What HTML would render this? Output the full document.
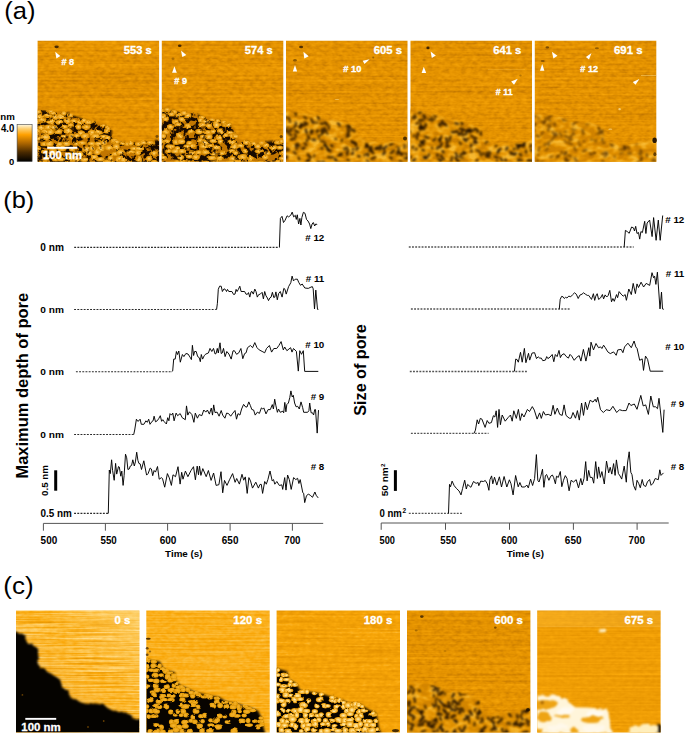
<!DOCTYPE html>
<html><head><meta charset="utf-8"><style>
html,body{margin:0;padding:0;background:#fff;width:685px;height:734px;overflow:hidden}
svg{display:block;font-family:"Liberation Sans",sans-serif;font-weight:bold}
</style></head><body>
<svg width="685" height="734" viewBox="0 0 685 734">
<defs><filter id="bl" color-interpolation-filters="sRGB" x="-20%" y="-20%" width="140%" height="140%"><feGaussianBlur stdDeviation="0.6"/></filter><filter id="fb" color-interpolation-filters="sRGB" x="-5%" y="-5%" width="110%" height="110%"><feGaussianBlur stdDeviation="0.8"/></filter><filter id="dp" color-interpolation-filters="sRGB" x="-10%" y="-10%" width="120%" height="120%"><feTurbulence type="fractalNoise" baseFrequency="0.18" numOctaves="2" seed="5" result="t"/><feDisplacementMap in="SourceGraphic" in2="t" scale="3.5" xChannelSelector="R" yChannelSelector="G" result="d"/><feGaussianBlur in="d" stdDeviation="0.8"/></filter><filter id="dpa" color-interpolation-filters="sRGB" x="-10%" y="-10%" width="120%" height="120%"><feTurbulence type="fractalNoise" baseFrequency="0.2" numOctaves="2" seed="7" result="t"/><feDisplacementMap in="SourceGraphic" in2="t" scale="3" xChannelSelector="R" yChannelSelector="G" result="d"/><feGaussianBlur in="d" stdDeviation="0.55"/></filter><filter id="dpc" color-interpolation-filters="sRGB" x="-10%" y="-10%" width="120%" height="120%"><feTurbulence type="fractalNoise" baseFrequency="0.16" numOctaves="1" seed="11" result="t"/><feDisplacementMap in="SourceGraphic" in2="t" scale="3.2" xChannelSelector="R" yChannelSelector="G" result="d"/><feGaussianBlur in="d" stdDeviation="0.75"/></filter><filter id="dp5" color-interpolation-filters="sRGB" x="-10%" y="-10%" width="120%" height="120%"><feTurbulence type="fractalNoise" baseFrequency="0.12" numOctaves="2" seed="9" result="t"/><feDisplacementMap in="SourceGraphic" in2="t" scale="6" xChannelSelector="R" yChannelSelector="G" result="d"/><feGaussianBlur in="d" stdDeviation="1.1"/></filter><filter id="bl2" color-interpolation-filters="sRGB" x="-10%" y="-10%" width="120%" height="120%"><feGaussianBlur stdDeviation="0.85"/></filter><filter id="fb2" color-interpolation-filters="sRGB" x="-5%" y="-5%" width="110%" height="110%"><feGaussianBlur stdDeviation="1.1"/></filter><filter id="fa0" x="0" y="0" width="1" height="1" color-interpolation-filters="sRGB"><feTurbulence type="fractalNoise" baseFrequency="0.005 0.45" numOctaves="2" seed="10" result="s_r"/><feColorMatrix in="s_r" type="matrix" values="1 0 0 0 0 1 0 0 0 0 1 0 0 0 0 0 0 0 0 1" result="s"/><feTurbulence type="fractalNoise" baseFrequency="0.18 0.3" numOctaves="2" seed="110" result="i_r"/><feColorMatrix in="i_r" type="matrix" values="1 0 0 0 0 1 0 0 0 0 1 0 0 0 0 0 0 0 0 1" result="i"/><feComposite in="s" in2="i" operator="arithmetic" k1="0" k2="0.450" k3="0.550" k4="0" result="m"/><feComponentTransfer in="m" result="c"><feFuncR type="table" tableValues="0.678 0.694 0.711 0.727 0.741 0.754 0.768 0.781 0.795 0.809 0.822 0.836 0.849 0.863 0.877 0.890 0.900 0.908 0.917 0.925 0.933 0.942 0.950 0.958 0.967 0.975 0.981 0.982 0.984 0.985 0.987 0.988"/><feFuncG type="table" tableValues="0.408 0.419 0.430 0.440 0.451 0.462 0.473 0.483 0.494 0.505 0.516 0.526 0.537 0.548 0.559 0.569 0.578 0.587 0.595 0.603 0.612 0.620 0.629 0.637 0.645 0.654 0.663 0.675 0.687 0.698 0.710 0.722"/><feFuncB type="table" tableValues="0.000 0.000 0.000 0.000 0.000 0.000 0.000 0.000 0.000 0.000 0.000 0.000 0.000 0.000 0.000 0.000 0.003 0.006 0.010 0.014 0.018 0.022 0.025 0.029 0.033 0.037 0.050 0.077 0.105 0.133 0.161 0.188"/></feComponentTransfer><feGaussianBlur in="c" stdDeviation="0.45" result="o"/></filter><filter id="fa1" x="0" y="0" width="1" height="1" color-interpolation-filters="sRGB"><feTurbulence type="fractalNoise" baseFrequency="0.005 0.45" numOctaves="2" seed="11" result="s_r"/><feColorMatrix in="s_r" type="matrix" values="1 0 0 0 0 1 0 0 0 0 1 0 0 0 0 0 0 0 0 1" result="s"/><feTurbulence type="fractalNoise" baseFrequency="0.18 0.3" numOctaves="2" seed="111" result="i_r"/><feColorMatrix in="i_r" type="matrix" values="1 0 0 0 0 1 0 0 0 0 1 0 0 0 0 0 0 0 0 1" result="i"/><feComposite in="s" in2="i" operator="arithmetic" k1="0" k2="0.450" k3="0.550" k4="0" result="m"/><feComponentTransfer in="m" result="c"><feFuncR type="table" tableValues="0.678 0.694 0.711 0.727 0.741 0.754 0.768 0.781 0.795 0.809 0.822 0.836 0.849 0.863 0.877 0.890 0.900 0.908 0.917 0.925 0.933 0.942 0.950 0.958 0.967 0.975 0.981 0.982 0.984 0.985 0.987 0.988"/><feFuncG type="table" tableValues="0.408 0.419 0.430 0.440 0.451 0.462 0.473 0.483 0.494 0.505 0.516 0.526 0.537 0.548 0.559 0.569 0.578 0.587 0.595 0.603 0.612 0.620 0.629 0.637 0.645 0.654 0.663 0.675 0.687 0.698 0.710 0.722"/><feFuncB type="table" tableValues="0.000 0.000 0.000 0.000 0.000 0.000 0.000 0.000 0.000 0.000 0.000 0.000 0.000 0.000 0.000 0.000 0.003 0.006 0.010 0.014 0.018 0.022 0.025 0.029 0.033 0.037 0.050 0.077 0.105 0.133 0.161 0.188"/></feComponentTransfer><feGaussianBlur in="c" stdDeviation="0.45" result="o"/></filter><filter id="fa2" x="0" y="0" width="1" height="1" color-interpolation-filters="sRGB"><feTurbulence type="fractalNoise" baseFrequency="0.005 0.45" numOctaves="2" seed="12" result="s_r"/><feColorMatrix in="s_r" type="matrix" values="1 0 0 0 0 1 0 0 0 0 1 0 0 0 0 0 0 0 0 1" result="s"/><feTurbulence type="fractalNoise" baseFrequency="0.18 0.3" numOctaves="2" seed="112" result="i_r"/><feColorMatrix in="i_r" type="matrix" values="1 0 0 0 0 1 0 0 0 0 1 0 0 0 0 0 0 0 0 1" result="i"/><feComposite in="s" in2="i" operator="arithmetic" k1="0" k2="0.450" k3="0.550" k4="0" result="m"/><feComponentTransfer in="m" result="c"><feFuncR type="table" tableValues="0.678 0.694 0.711 0.727 0.741 0.754 0.768 0.781 0.795 0.809 0.822 0.836 0.849 0.863 0.877 0.890 0.900 0.908 0.917 0.925 0.933 0.942 0.950 0.958 0.967 0.975 0.981 0.982 0.984 0.985 0.987 0.988"/><feFuncG type="table" tableValues="0.408 0.419 0.430 0.440 0.451 0.462 0.473 0.483 0.494 0.505 0.516 0.526 0.537 0.548 0.559 0.569 0.578 0.587 0.595 0.603 0.612 0.620 0.629 0.637 0.645 0.654 0.663 0.675 0.687 0.698 0.710 0.722"/><feFuncB type="table" tableValues="0.000 0.000 0.000 0.000 0.000 0.000 0.000 0.000 0.000 0.000 0.000 0.000 0.000 0.000 0.000 0.000 0.003 0.006 0.010 0.014 0.018 0.022 0.025 0.029 0.033 0.037 0.050 0.077 0.105 0.133 0.161 0.188"/></feComponentTransfer><feGaussianBlur in="c" stdDeviation="0.45" result="o"/></filter><filter id="fa3" x="0" y="0" width="1" height="1" color-interpolation-filters="sRGB"><feTurbulence type="fractalNoise" baseFrequency="0.005 0.45" numOctaves="2" seed="13" result="s_r"/><feColorMatrix in="s_r" type="matrix" values="1 0 0 0 0 1 0 0 0 0 1 0 0 0 0 0 0 0 0 1" result="s"/><feTurbulence type="fractalNoise" baseFrequency="0.18 0.3" numOctaves="2" seed="113" result="i_r"/><feColorMatrix in="i_r" type="matrix" values="1 0 0 0 0 1 0 0 0 0 1 0 0 0 0 0 0 0 0 1" result="i"/><feComposite in="s" in2="i" operator="arithmetic" k1="0" k2="0.450" k3="0.550" k4="0" result="m"/><feComponentTransfer in="m" result="c"><feFuncR type="table" tableValues="0.678 0.694 0.711 0.727 0.741 0.754 0.768 0.781 0.795 0.809 0.822 0.836 0.849 0.863 0.877 0.890 0.900 0.908 0.917 0.925 0.933 0.942 0.950 0.958 0.967 0.975 0.981 0.982 0.984 0.985 0.987 0.988"/><feFuncG type="table" tableValues="0.408 0.419 0.430 0.440 0.451 0.462 0.473 0.483 0.494 0.505 0.516 0.526 0.537 0.548 0.559 0.569 0.578 0.587 0.595 0.603 0.612 0.620 0.629 0.637 0.645 0.654 0.663 0.675 0.687 0.698 0.710 0.722"/><feFuncB type="table" tableValues="0.000 0.000 0.000 0.000 0.000 0.000 0.000 0.000 0.000 0.000 0.000 0.000 0.000 0.000 0.000 0.000 0.003 0.006 0.010 0.014 0.018 0.022 0.025 0.029 0.033 0.037 0.050 0.077 0.105 0.133 0.161 0.188"/></feComponentTransfer><feGaussianBlur in="c" stdDeviation="0.45" result="o"/></filter><filter id="fa4" x="0" y="0" width="1" height="1" color-interpolation-filters="sRGB"><feTurbulence type="fractalNoise" baseFrequency="0.005 0.45" numOctaves="2" seed="14" result="s_r"/><feColorMatrix in="s_r" type="matrix" values="1 0 0 0 0 1 0 0 0 0 1 0 0 0 0 0 0 0 0 1" result="s"/><feTurbulence type="fractalNoise" baseFrequency="0.18 0.3" numOctaves="2" seed="114" result="i_r"/><feColorMatrix in="i_r" type="matrix" values="1 0 0 0 0 1 0 0 0 0 1 0 0 0 0 0 0 0 0 1" result="i"/><feComposite in="s" in2="i" operator="arithmetic" k1="0" k2="0.450" k3="0.550" k4="0" result="m"/><feComponentTransfer in="m" result="c"><feFuncR type="table" tableValues="0.678 0.694 0.711 0.727 0.741 0.754 0.768 0.781 0.795 0.809 0.822 0.836 0.849 0.863 0.877 0.890 0.900 0.908 0.917 0.925 0.933 0.942 0.950 0.958 0.967 0.975 0.981 0.982 0.984 0.985 0.987 0.988"/><feFuncG type="table" tableValues="0.408 0.419 0.430 0.440 0.451 0.462 0.473 0.483 0.494 0.505 0.516 0.526 0.537 0.548 0.559 0.569 0.578 0.587 0.595 0.603 0.612 0.620 0.629 0.637 0.645 0.654 0.663 0.675 0.687 0.698 0.710 0.722"/><feFuncB type="table" tableValues="0.000 0.000 0.000 0.000 0.000 0.000 0.000 0.000 0.000 0.000 0.000 0.000 0.000 0.000 0.000 0.000 0.003 0.006 0.010 0.014 0.018 0.022 0.025 0.029 0.033 0.037 0.050 0.077 0.105 0.133 0.161 0.188"/></feComponentTransfer><feGaussianBlur in="c" stdDeviation="0.45" result="o"/></filter><filter id="pa0" x="0" y="0" width="1" height="1" color-interpolation-filters="sRGB"><feTurbulence type="turbulence" baseFrequency="0.11 0.14" numOctaves="1" seed="30" result="n1_r"/><feColorMatrix in="n1_r" type="matrix" values="1 0 0 0 0 1 0 0 0 0 1 0 0 0 0 0 0 0 0 1" result="n1"/><feComponentTransfer in="n1" result="c"><feFuncR type="table" tableValues="0.176 0.221 0.265 0.409 0.578 0.699 0.788 0.872 0.892 0.911 0.931 0.950 0.960 0.964 0.968 0.972 0.976 0.980 0.985 0.988 0.990 0.991 0.992 0.993 0.995 0.996 0.997 0.998 1.000 1.000 1.000 1.000 1.000 1.000 1.000 1.000 1.000 1.000 1.000 1.000 1.000 1.000 1.000 1.000 1.000 1.000 1.000 1.000 1.000 1.000 1.000 1.000 1.000 1.000 1.000 1.000 1.000 1.000 1.000 1.000 1.000 1.000 1.000 1.000"/><feFuncG type="table" tableValues="0.086 0.115 0.143 0.234 0.341 0.425 0.493 0.559 0.587 0.616 0.644 0.673 0.692 0.706 0.721 0.736 0.750 0.765 0.779 0.793 0.800 0.808 0.815 0.823 0.830 0.838 0.845 0.853 0.860 0.863 0.863 0.863 0.863 0.863 0.863 0.863 0.863 0.863 0.863 0.863 0.863 0.863 0.863 0.863 0.863 0.863 0.863 0.863 0.863 0.863 0.863 0.863 0.863 0.863 0.863 0.863 0.863 0.863 0.863 0.863 0.863 0.863 0.863 0.863"/><feFuncB type="table" tableValues="0.000 0.000 0.000 0.000 0.000 0.004 0.010 0.018 0.046 0.075 0.103 0.132 0.160 0.189 0.218 0.247 0.277 0.306 0.335 0.363 0.380 0.398 0.416 0.434 0.452 0.470 0.487 0.505 0.523 0.529 0.529 0.529 0.529 0.529 0.529 0.529 0.529 0.529 0.529 0.529 0.529 0.529 0.529 0.529 0.529 0.529 0.529 0.529 0.529 0.529 0.529 0.529 0.529 0.529 0.529 0.529 0.529 0.529 0.529 0.529 0.529 0.529 0.529 0.529"/></feComponentTransfer><feGaussianBlur in="c" stdDeviation="0.7" result="o"/></filter><filter id="pa1" x="0" y="0" width="1" height="1" color-interpolation-filters="sRGB"><feTurbulence type="turbulence" baseFrequency="0.11 0.14" numOctaves="1" seed="31" result="n1_r"/><feColorMatrix in="n1_r" type="matrix" values="1 0 0 0 0 1 0 0 0 0 1 0 0 0 0 0 0 0 0 1" result="n1"/><feComponentTransfer in="n1" result="c"><feFuncR type="table" tableValues="0.176 0.221 0.265 0.409 0.578 0.699 0.788 0.872 0.892 0.911 0.931 0.950 0.960 0.964 0.968 0.972 0.976 0.980 0.985 0.988 0.990 0.991 0.992 0.993 0.995 0.996 0.997 0.998 1.000 1.000 1.000 1.000 1.000 1.000 1.000 1.000 1.000 1.000 1.000 1.000 1.000 1.000 1.000 1.000 1.000 1.000 1.000 1.000 1.000 1.000 1.000 1.000 1.000 1.000 1.000 1.000 1.000 1.000 1.000 1.000 1.000 1.000 1.000 1.000"/><feFuncG type="table" tableValues="0.086 0.115 0.143 0.234 0.341 0.425 0.493 0.559 0.587 0.616 0.644 0.673 0.692 0.706 0.721 0.736 0.750 0.765 0.779 0.793 0.800 0.808 0.815 0.823 0.830 0.838 0.845 0.853 0.860 0.863 0.863 0.863 0.863 0.863 0.863 0.863 0.863 0.863 0.863 0.863 0.863 0.863 0.863 0.863 0.863 0.863 0.863 0.863 0.863 0.863 0.863 0.863 0.863 0.863 0.863 0.863 0.863 0.863 0.863 0.863 0.863 0.863 0.863 0.863"/><feFuncB type="table" tableValues="0.000 0.000 0.000 0.000 0.000 0.004 0.010 0.018 0.046 0.075 0.103 0.132 0.160 0.189 0.218 0.247 0.277 0.306 0.335 0.363 0.380 0.398 0.416 0.434 0.452 0.470 0.487 0.505 0.523 0.529 0.529 0.529 0.529 0.529 0.529 0.529 0.529 0.529 0.529 0.529 0.529 0.529 0.529 0.529 0.529 0.529 0.529 0.529 0.529 0.529 0.529 0.529 0.529 0.529 0.529 0.529 0.529 0.529 0.529 0.529 0.529 0.529 0.529 0.529"/></feComponentTransfer><feGaussianBlur in="c" stdDeviation="0.7" result="o"/></filter><filter id="pa2" x="0" y="0" width="1" height="1" color-interpolation-filters="sRGB"><feTurbulence type="fractalNoise" baseFrequency="0.1 0.15" numOctaves="2" seed="32" result="n1_r"/><feColorMatrix in="n1_r" type="matrix" values="1 0 0 0 0 1 0 0 0 0 1 0 0 0 0 0 0 0 0 1" result="n1"/><feComponentTransfer in="n1" result="c"><feFuncR type="table" tableValues="0.804 0.804 0.804 0.804 0.804 0.804 0.804 0.804 0.804 0.804 0.816 0.834 0.852 0.869 0.887 0.897 0.907 0.917 0.927 0.936 0.944 0.952 0.959 0.967 0.969 0.969 0.969 0.969 0.969 0.969 0.969 0.969"/><feFuncG type="table" tableValues="0.502 0.502 0.502 0.502 0.502 0.502 0.502 0.502 0.502 0.502 0.513 0.528 0.543 0.558 0.573 0.588 0.604 0.619 0.634 0.650 0.667 0.684 0.700 0.717 0.722 0.722 0.722 0.722 0.722 0.722 0.722 0.722"/><feFuncB type="table" tableValues="0.000 0.000 0.000 0.000 0.000 0.000 0.000 0.000 0.000 0.000 0.001 0.003 0.005 0.006 0.009 0.024 0.039 0.054 0.069 0.088 0.111 0.135 0.159 0.182 0.188 0.188 0.188 0.188 0.188 0.188 0.188 0.188"/></feComponentTransfer><feGaussianBlur in="c" stdDeviation="0.5" result="o"/></filter><filter id="pa3" x="0" y="0" width="1" height="1" color-interpolation-filters="sRGB"><feTurbulence type="fractalNoise" baseFrequency="0.1 0.15" numOctaves="2" seed="33" result="n1_r"/><feColorMatrix in="n1_r" type="matrix" values="1 0 0 0 0 1 0 0 0 0 1 0 0 0 0 0 0 0 0 1" result="n1"/><feComponentTransfer in="n1" result="c"><feFuncR type="table" tableValues="0.804 0.804 0.804 0.804 0.804 0.804 0.804 0.804 0.804 0.804 0.816 0.834 0.852 0.869 0.887 0.897 0.907 0.917 0.927 0.936 0.944 0.952 0.959 0.967 0.969 0.969 0.969 0.969 0.969 0.969 0.969 0.969"/><feFuncG type="table" tableValues="0.502 0.502 0.502 0.502 0.502 0.502 0.502 0.502 0.502 0.502 0.513 0.528 0.543 0.558 0.573 0.588 0.604 0.619 0.634 0.650 0.667 0.684 0.700 0.717 0.722 0.722 0.722 0.722 0.722 0.722 0.722 0.722"/><feFuncB type="table" tableValues="0.000 0.000 0.000 0.000 0.000 0.000 0.000 0.000 0.000 0.000 0.001 0.003 0.005 0.006 0.009 0.024 0.039 0.054 0.069 0.088 0.111 0.135 0.159 0.182 0.188 0.188 0.188 0.188 0.188 0.188 0.188 0.188"/></feComponentTransfer><feGaussianBlur in="c" stdDeviation="0.5" result="o"/></filter><filter id="pa4" x="0" y="0" width="1" height="1" color-interpolation-filters="sRGB"><feTurbulence type="fractalNoise" baseFrequency="0.1 0.15" numOctaves="2" seed="34" result="n1_r"/><feColorMatrix in="n1_r" type="matrix" values="1 0 0 0 0 1 0 0 0 0 1 0 0 0 0 0 0 0 0 1" result="n1"/><feComponentTransfer in="n1" result="c"><feFuncR type="table" tableValues="0.816 0.816 0.816 0.816 0.816 0.816 0.816 0.816 0.816 0.816 0.825 0.838 0.852 0.865 0.879 0.891 0.901 0.911 0.921 0.931 0.939 0.946 0.953 0.960 0.967 0.969 0.969 0.969 0.969 0.969 0.969 0.969"/><feFuncG type="table" tableValues="0.510 0.510 0.510 0.510 0.510 0.510 0.510 0.510 0.510 0.510 0.518 0.530 0.542 0.554 0.566 0.579 0.594 0.609 0.625 0.640 0.655 0.671 0.687 0.703 0.719 0.722 0.722 0.722 0.722 0.722 0.722 0.722"/><feFuncB type="table" tableValues="0.000 0.000 0.000 0.000 0.000 0.000 0.000 0.000 0.000 0.000 0.001 0.003 0.004 0.006 0.007 0.014 0.030 0.045 0.060 0.075 0.096 0.118 0.140 0.162 0.184 0.188 0.188 0.188 0.188 0.188 0.188 0.188"/></feComponentTransfer><feGaussianBlur in="c" stdDeviation="0.5" result="o"/></filter><clipPath id="pka0"><rect x="37.6" y="40.7" width="121.5" height="121"/></clipPath><mask id="mka0"><polygon points="37,108.2 47,111 57.9,112.8 68.8,112.8 78,117.4 87.1,120.1 96.2,121.9 105.3,125.6 111.7,129.2 111.7,135.6 116.3,141.1 127.2,142.9 140,142 152.8,141.1 159.5,139.3 161.1,139.3 161.1,163.7 35.6,163.7 35.6,108.2" fill="#fff" filter="url(#fb)"/></mask><clipPath id="cpa0"><rect x="37.6" y="40.7" width="121.5" height="121"/></clipPath><clipPath id="pka1"><rect x="161.8" y="40.7" width="121.5" height="121"/></clipPath><mask id="mka1"><polygon points="161.5,107.3 171,110.1 181.9,112.8 192.8,112.8 202,116.5 209.3,118.3 218.4,120.1 227.5,123.8 234.8,128.3 235.7,135.6 240.3,140.2 251.2,142 262.2,142 273.1,141.1 283.5,140.2 285.3,140.2 285.3,163.7 159.8,163.7 159.8,107.3" fill="#fff" filter="url(#fb)"/></mask><clipPath id="cpa1"><rect x="161.8" y="40.7" width="121.5" height="121"/></clipPath><clipPath id="pka2"><rect x="286" y="40.7" width="121.5" height="121"/></clipPath><mask id="mka2"><polygon points="285.5,109.2 295,111 304.1,113.7 315,114.6 326,119.2 338.7,121 349.7,124.7 357,128.3 357.9,135.6 366.1,141.1 378.9,142.9 393.5,142 408,141.1 409.5,141.1 409.5,163.7 284,163.7 284,109.2" fill="#fff" filter="url(#fb)"/></mask><clipPath id="cpa2"><rect x="286" y="40.7" width="121.5" height="121"/></clipPath><clipPath id="pka3"><rect x="410.5" y="40.7" width="121.5" height="121"/></clipPath><mask id="mka3"><polygon points="410,109.2 419,111 428.1,113.7 439,115.5 450,120.1 462.7,121.9 473.7,125.6 482.8,129.2 483.7,137.4 490.1,142.9 502.9,144.7 517.5,143.8 532.5,139.3 534,139.3 534,163.7 408.5,163.7 408.5,109.2" fill="#fff" filter="url(#fb)"/></mask><clipPath id="cpa3"><rect x="410.5" y="40.7" width="121.5" height="121"/></clipPath><clipPath id="pka4"><rect x="534.8" y="40.7" width="121.5" height="121"/></clipPath><mask id="mka4"><polygon points="534.5,111.9 543,113.7 553.9,115.5 564.8,119.2 575.8,121 588.6,122.8 599.5,126.5 604.1,129.2 604.1,137.4 610.5,142.9 623.2,144.7 636,143.8 648.8,139.3 656.5,138.4 658.3,138.4 658.3,163.7 532.8,163.7 532.8,111.9" fill="#fff" filter="url(#fb)"/></mask><clipPath id="cpa4"><rect x="534.8" y="40.7" width="121.5" height="121"/></clipPath><filter id="fc0" x="0" y="0" width="1" height="1" color-interpolation-filters="sRGB"><feTurbulence type="fractalNoise" baseFrequency="0.015 0.6" numOctaves="2" seed="50" result="s_r"/><feColorMatrix in="s_r" type="matrix" values="1 0 0 0 0 1 0 0 0 0 1 0 0 0 0 0 0 0 0 1" result="s"/><feTurbulence type="fractalNoise" baseFrequency="0.15 0.3" numOctaves="2" seed="150" result="i_r"/><feColorMatrix in="i_r" type="matrix" values="1 0 0 0 0 1 0 0 0 0 1 0 0 0 0 0 0 0 0 1" result="i"/><feComposite in="s" in2="i" operator="arithmetic" k1="0" k2="0.750" k3="0.250" k4="0" result="m"/><feComponentTransfer in="m" result="c"><feFuncR type="table" tableValues="0.789 0.809 0.830 0.850 0.870 0.891 0.905 0.917 0.930 0.942 0.955 0.967 0.980 0.982 0.985 0.987 0.989 0.991 0.993 0.996 0.998 1.000 1.000 1.000 1.000 1.000 1.000 1.000 1.000 1.000 1.000 1.000"/><feFuncG type="table" tableValues="0.489 0.505 0.521 0.538 0.554 0.570 0.583 0.596 0.608 0.621 0.633 0.646 0.658 0.675 0.693 0.710 0.728 0.745 0.763 0.780 0.798 0.815 0.832 0.849 0.866 0.882 0.899 0.916 0.932 0.949 0.966 0.982"/><feFuncB type="table" tableValues="0.000 0.000 0.000 0.000 0.000 0.000 0.005 0.010 0.016 0.022 0.028 0.033 0.039 0.079 0.120 0.162 0.203 0.245 0.287 0.328 0.370 0.411 0.461 0.511 0.560 0.610 0.660 0.710 0.759 0.809 0.859 0.908"/></feComponentTransfer><feGaussianBlur in="c" stdDeviation="0.35" result="o"/></filter><filter id="fc1" x="0" y="0" width="1" height="1" color-interpolation-filters="sRGB"><feTurbulence type="fractalNoise" baseFrequency="0.012 0.55" numOctaves="2" seed="52" result="s_r"/><feColorMatrix in="s_r" type="matrix" values="1 0 0 0 0 1 0 0 0 0 1 0 0 0 0 0 0 0 0 1" result="s"/><feTurbulence type="fractalNoise" baseFrequency="0.18 0.3" numOctaves="2" seed="152" result="i_r"/><feColorMatrix in="i_r" type="matrix" values="1 0 0 0 0 1 0 0 0 0 1 0 0 0 0 0 0 0 0 1" result="i"/><feComposite in="s" in2="i" operator="arithmetic" k1="0" k2="0.600" k3="0.400" k4="0" result="m"/><feComponentTransfer in="m" result="c"><feFuncR type="table" tableValues="0.898 0.905 0.912 0.918 0.925 0.932 0.939 0.945 0.952 0.959 0.965 0.972 0.979 0.981 0.982 0.984 0.985 0.986 0.987 0.988 0.989 0.991 0.992 0.993 0.994 0.995 0.996 0.998 0.999 1.000 1.000 1.000"/><feFuncG type="table" tableValues="0.577 0.584 0.590 0.597 0.604 0.610 0.617 0.624 0.630 0.637 0.644 0.650 0.657 0.666 0.675 0.684 0.694 0.703 0.712 0.722 0.731 0.740 0.750 0.759 0.768 0.778 0.787 0.796 0.806 0.815 0.824 0.833"/><feFuncB type="table" tableValues="0.002 0.005 0.008 0.011 0.014 0.017 0.020 0.023 0.026 0.029 0.032 0.035 0.038 0.055 0.078 0.100 0.122 0.144 0.166 0.189 0.211 0.233 0.255 0.277 0.299 0.322 0.344 0.366 0.388 0.410 0.437 0.463"/></feComponentTransfer><feGaussianBlur in="c" stdDeviation="0.4" result="o"/></filter><filter id="fc2" x="0" y="0" width="1" height="1" color-interpolation-filters="sRGB"><feTurbulence type="fractalNoise" baseFrequency="0.012 0.5" numOctaves="2" seed="54" result="s_r"/><feColorMatrix in="s_r" type="matrix" values="1 0 0 0 0 1 0 0 0 0 1 0 0 0 0 0 0 0 0 1" result="s"/><feTurbulence type="fractalNoise" baseFrequency="0.18 0.3" numOctaves="2" seed="154" result="i_r"/><feColorMatrix in="i_r" type="matrix" values="1 0 0 0 0 1 0 0 0 0 1 0 0 0 0 0 0 0 0 1" result="i"/><feComposite in="s" in2="i" operator="arithmetic" k1="0" k2="0.550" k3="0.450" k4="0" result="m"/><feComponentTransfer in="m" result="c"><feFuncR type="table" tableValues="0.817 0.829 0.840 0.852 0.864 0.876 0.888 0.897 0.905 0.912 0.919 0.926 0.933 0.941 0.948 0.955 0.962 0.970 0.977 0.981 0.982 0.984 0.985 0.986 0.987 0.989 0.990 0.991 0.992 0.994 0.995 0.996"/><feFuncG type="table" tableValues="0.511 0.521 0.530 0.539 0.549 0.558 0.567 0.576 0.583 0.590 0.597 0.605 0.612 0.619 0.626 0.634 0.641 0.648 0.655 0.664 0.674 0.684 0.694 0.705 0.715 0.725 0.735 0.745 0.755 0.765 0.775 0.786"/><feFuncB type="table" tableValues="0.000 0.000 0.000 0.000 0.000 0.000 0.000 0.001 0.005 0.008 0.011 0.015 0.018 0.021 0.024 0.028 0.031 0.034 0.038 0.052 0.076 0.100 0.124 0.148 0.172 0.196 0.220 0.244 0.268 0.292 0.316 0.340"/></feComponentTransfer><feGaussianBlur in="c" stdDeviation="0.4" result="o"/></filter><filter id="fc3" x="0" y="0" width="1" height="1" color-interpolation-filters="sRGB"><feTurbulence type="fractalNoise" baseFrequency="0.005 0.45" numOctaves="2" seed="56" result="s_r"/><feColorMatrix in="s_r" type="matrix" values="1 0 0 0 0 1 0 0 0 0 1 0 0 0 0 0 0 0 0 1" result="s"/><feTurbulence type="fractalNoise" baseFrequency="0.18 0.3" numOctaves="2" seed="156" result="i_r"/><feColorMatrix in="i_r" type="matrix" values="1 0 0 0 0 1 0 0 0 0 1 0 0 0 0 0 0 0 0 1" result="i"/><feComposite in="s" in2="i" operator="arithmetic" k1="0" k2="0.450" k3="0.550" k4="0" result="m"/><feComponentTransfer in="m" result="c"><feFuncR type="table" tableValues="0.700 0.715 0.730 0.742 0.755 0.768 0.781 0.793 0.806 0.819 0.831 0.844 0.857 0.869 0.882 0.895 0.902 0.910 0.918 0.926 0.933 0.941 0.949 0.957 0.965 0.972 0.980 0.982 0.983 0.984 0.986 0.987"/><feFuncG type="table" tableValues="0.423 0.433 0.443 0.453 0.463 0.473 0.483 0.493 0.503 0.513 0.523 0.533 0.543 0.553 0.563 0.573 0.581 0.589 0.596 0.604 0.612 0.620 0.628 0.635 0.643 0.651 0.659 0.670 0.680 0.691 0.702 0.713"/><feFuncB type="table" tableValues="0.000 0.000 0.000 0.000 0.000 0.000 0.000 0.000 0.000 0.000 0.000 0.000 0.000 0.000 0.000 0.000 0.004 0.007 0.011 0.014 0.018 0.021 0.025 0.029 0.032 0.036 0.039 0.065 0.091 0.116 0.142 0.168"/></feComponentTransfer><feGaussianBlur in="c" stdDeviation="0.45" result="o"/></filter><filter id="fc4" x="0" y="0" width="1" height="1" color-interpolation-filters="sRGB"><feTurbulence type="fractalNoise" baseFrequency="0.005 0.45" numOctaves="2" seed="58" result="s_r"/><feColorMatrix in="s_r" type="matrix" values="1 0 0 0 0 1 0 0 0 0 1 0 0 0 0 0 0 0 0 1" result="s"/><feTurbulence type="fractalNoise" baseFrequency="0.18 0.3" numOctaves="2" seed="158" result="i_r"/><feColorMatrix in="i_r" type="matrix" values="1 0 0 0 0 1 0 0 0 0 1 0 0 0 0 0 0 0 0 1" result="i"/><feComposite in="s" in2="i" operator="arithmetic" k1="0" k2="0.600" k3="0.400" k4="0" result="m"/><feComponentTransfer in="m" result="c"><feFuncR type="table" tableValues="0.827 0.836 0.845 0.854 0.863 0.872 0.881 0.890 0.897 0.903 0.908 0.914 0.919 0.925 0.931 0.936 0.942 0.947 0.953 0.958 0.964 0.970 0.975 0.980 0.981 0.982 0.983 0.984 0.985 0.986 0.987 0.988"/><feFuncG type="table" tableValues="0.519 0.526 0.534 0.541 0.548 0.555 0.562 0.569 0.576 0.581 0.587 0.592 0.598 0.603 0.609 0.615 0.620 0.626 0.631 0.637 0.642 0.648 0.654 0.659 0.667 0.675 0.683 0.690 0.698 0.706 0.714 0.722"/><feFuncB type="table" tableValues="0.000 0.000 0.000 0.000 0.000 0.000 0.000 0.000 0.001 0.004 0.006 0.009 0.012 0.014 0.017 0.019 0.022 0.024 0.027 0.029 0.032 0.034 0.037 0.040 0.059 0.077 0.096 0.114 0.133 0.151 0.170 0.188"/></feComponentTransfer><feGaussianBlur in="c" stdDeviation="0.45" result="o"/></filter><filter id="pc1" x="0" y="0" width="1" height="1" color-interpolation-filters="sRGB"><feTurbulence type="turbulence" baseFrequency="0.13 0.12" numOctaves="1" seed="60" result="n1_r"/><feColorMatrix in="n1_r" type="matrix" values="1 0 0 0 0 1 0 0 0 0 1 0 0 0 0 0 0 0 0 1" result="n1"/><feComponentTransfer in="n1" result="c"><feFuncR type="table" tableValues="0.020 0.022 0.025 0.028 0.031 0.034 0.037 0.054 0.261 0.469 0.676 0.834 0.868 0.903 0.934 0.937 0.941 0.944 0.948 0.951 0.955 0.958 0.961 0.965 0.968 0.972 0.973 0.973 0.973 0.973 0.973 0.973 0.973 0.973 0.973 0.973 0.973 0.973 0.973 0.973 0.973 0.973 0.973 0.973 0.973 0.973 0.973 0.973 0.973 0.973 0.973 0.973 0.973 0.973 0.973 0.973 0.973 0.973 0.973 0.973 0.973 0.973 0.973 0.973"/><feFuncG type="table" tableValues="0.012 0.013 0.014 0.015 0.016 0.017 0.019 0.029 0.164 0.299 0.434 0.538 0.570 0.601 0.629 0.636 0.644 0.651 0.659 0.667 0.674 0.682 0.689 0.697 0.705 0.712 0.714 0.714 0.714 0.714 0.714 0.714 0.714 0.714 0.714 0.714 0.714 0.714 0.714 0.714 0.714 0.714 0.714 0.714 0.714 0.714 0.714 0.714 0.714 0.714 0.714 0.714 0.714 0.714 0.714 0.714 0.714 0.714 0.714 0.714 0.714 0.714 0.714 0.714"/><feFuncB type="table" tableValues="0.000 0.000 0.000 0.000 0.000 0.000 0.000 0.001 0.009 0.017 0.025 0.034 0.044 0.054 0.064 0.073 0.082 0.091 0.100 0.109 0.118 0.127 0.136 0.145 0.154 0.163 0.165 0.165 0.165 0.165 0.165 0.165 0.165 0.165 0.165 0.165 0.165 0.165 0.165 0.165 0.165 0.165 0.165 0.165 0.165 0.165 0.165 0.165 0.165 0.165 0.165 0.165 0.165 0.165 0.165 0.165 0.165 0.165 0.165 0.165 0.165 0.165 0.165 0.165"/></feComponentTransfer><feGaussianBlur in="c" stdDeviation="0.5" result="o"/></filter><filter id="pc2" x="0" y="0" width="1" height="1" color-interpolation-filters="sRGB"><feTurbulence type="turbulence" baseFrequency="0.12 0.11" numOctaves="1" seed="61" result="n1_r"/><feColorMatrix in="n1_r" type="matrix" values="1 0 0 0 0 1 0 0 0 0 1 0 0 0 0 0 0 0 0 1" result="n1"/><feComponentTransfer in="n1" result="c"><feFuncR type="table" tableValues="0.039 0.060 0.081 0.146 0.433 0.721 0.857 0.910 0.963 0.975 0.978 0.980 0.983 0.986 0.988 0.989 0.990 0.991 0.993 0.994 0.995 0.996 0.997 0.998 0.999 1.000 1.000 1.000 1.000 1.000 1.000 1.000 1.000 1.000 1.000 1.000 1.000 1.000 1.000 1.000 1.000 1.000 1.000 1.000 1.000 1.000 1.000 1.000 1.000 1.000 1.000 1.000 1.000 1.000 1.000 1.000 1.000 1.000 1.000 1.000 1.000 1.000 1.000 1.000"/><feFuncG type="table" tableValues="0.020 0.029 0.039 0.078 0.265 0.451 0.562 0.631 0.701 0.728 0.746 0.764 0.782 0.800 0.817 0.823 0.829 0.835 0.841 0.848 0.854 0.860 0.866 0.873 0.879 0.885 0.886 0.886 0.886 0.886 0.886 0.886 0.886 0.886 0.886 0.886 0.886 0.886 0.886 0.886 0.886 0.886 0.886 0.886 0.886 0.886 0.886 0.886 0.886 0.886 0.886 0.886 0.886 0.886 0.886 0.886 0.886 0.886 0.886 0.886 0.886 0.886 0.886 0.886"/><feFuncB type="table" tableValues="0.000 0.000 0.000 0.000 0.000 0.000 0.040 0.102 0.165 0.210 0.252 0.293 0.335 0.376 0.414 0.430 0.445 0.461 0.476 0.492 0.507 0.523 0.538 0.554 0.570 0.585 0.588 0.588 0.588 0.588 0.588 0.588 0.588 0.588 0.588 0.588 0.588 0.588 0.588 0.588 0.588 0.588 0.588 0.588 0.588 0.588 0.588 0.588 0.588 0.588 0.588 0.588 0.588 0.588 0.588 0.588 0.588 0.588 0.588 0.588 0.588 0.588 0.588 0.588"/></feComponentTransfer><feGaussianBlur in="c" stdDeviation="0.5" result="o"/></filter><filter id="pc3" x="0" y="0" width="1" height="1" color-interpolation-filters="sRGB"><feTurbulence type="fractalNoise" baseFrequency="0.1 0.15" numOctaves="2" seed="62" result="n1_r"/><feColorMatrix in="n1_r" type="matrix" values="1 0 0 0 0 1 0 0 0 0 1 0 0 0 0 0 0 0 0 1" result="n1"/><feComponentTransfer in="n1" result="c"><feFuncR type="table" tableValues="0.831 0.831 0.831 0.831 0.831 0.831 0.831 0.831 0.831 0.831 0.839 0.849 0.860 0.870 0.880 0.890 0.898 0.907 0.915 0.924 0.930 0.937 0.943 0.949 0.956 0.957 0.957 0.957 0.957 0.957 0.957 0.957"/><feFuncG type="table" tableValues="0.525 0.525 0.525 0.525 0.525 0.525 0.525 0.525 0.525 0.525 0.532 0.541 0.550 0.559 0.567 0.578 0.589 0.601 0.613 0.625 0.639 0.653 0.667 0.681 0.695 0.698 0.698 0.698 0.698 0.698 0.698 0.698"/><feFuncB type="table" tableValues="0.000 0.000 0.000 0.000 0.000 0.000 0.000 0.000 0.000 0.000 0.001 0.003 0.004 0.006 0.007 0.013 0.025 0.037 0.048 0.060 0.078 0.097 0.115 0.134 0.153 0.157 0.157 0.157 0.157 0.157 0.157 0.157"/></feComponentTransfer><feGaussianBlur in="c" stdDeviation="0.5" result="o"/></filter><clipPath id="pkc0"><rect x="16" y="610.6" width="123.4" height="122"/></clipPath><clipPath id="cqc0"><rect x="16" y="610.6" width="123.4" height="122"/></clipPath><linearGradient id="lg0" x1="1" y1="0" x2="0.2" y2="0.8"><stop offset="0" stop-color="#fff0b8" stop-opacity="0.45"/><stop offset="0.55" stop-color="#ffd070" stop-opacity="0"/><stop offset="1" stop-color="#d88400" stop-opacity="0.55"/></linearGradient><clipPath id="cpc0"><rect x="16" y="610.6" width="123.4" height="122"/></clipPath><clipPath id="pkc1"><rect x="146.3" y="610.6" width="123.4" height="122"/></clipPath><clipPath id="cqc1"><rect x="146.3" y="610.6" width="123.4" height="122"/></clipPath><mask id="mkc1"><polygon points="145,658.5 152.9,660.9 159.7,661.4 163.2,668.3 168.9,671.2 174.6,672.3 175.7,679.7 180.3,685.5 186,687.8 195.2,692.3 203.2,694 210,695.8 218.8,697 226.2,701.5 235.6,703.3 248.7,707.1 258,710.8 261.8,718.3 263.6,727.6 265.5,734 145,734" fill="#fff" filter="url(#fb)"/></mask><clipPath id="pkc2"><rect x="276.6" y="610.6" width="123.4" height="122"/></clipPath><clipPath id="cqc2"><rect x="276.6" y="610.6" width="123.4" height="122"/></clipPath><mask id="mkc2"><polygon points="275,667.8 287.1,671.6 289,679 296.4,683.7 300.2,690.2 311.4,692.1 322.6,694 333.8,697.7 341.3,699.6 348.8,703.3 358.1,703.3 369.3,709.9 375.9,712.7 377.7,720.1 378.7,727.6 381.5,734 275,734" fill="#fff" filter="url(#fb)"/></mask><clipPath id="pkc3"><rect x="407" y="610.6" width="123.4" height="122"/></clipPath><clipPath id="cqc3"><rect x="407" y="610.6" width="123.4" height="122"/></clipPath><mask id="mkc3"><polygon points="406,680.9 416.2,682.8 427.4,683.7 436.8,686.5 449.9,690.2 461.1,693 472.3,695.9 479.8,699.6 479.8,707.1 483.5,712.7 492.9,714.5 504.1,712.7 517.1,709.9 531,708 531,734 406,734" fill="#fff" filter="url(#fb)"/></mask><clipPath id="pkc4"><rect x="537.2" y="610.6" width="123.4" height="122"/></clipPath><clipPath id="cqc4"><rect x="537.2" y="610.6" width="123.4" height="122"/></clipPath><clipPath id="cpc4"><rect x="537.2" y="610.6" width="123.4" height="122"/></clipPath><radialGradient id="ga"><stop offset="0" stop-color="#fad478"/><stop offset="0.4" stop-color="#f4b232"/><stop offset="0.75" stop-color="#e69a10"/><stop offset="1" stop-color="#c88400"/></radialGradient><radialGradient id="g2"><stop offset="0" stop-color="#f4b430"/><stop offset="0.7" stop-color="#eaa314"/><stop offset="1" stop-color="#d89000"/></radialGradient><radialGradient id="g3"><stop offset="0" stop-color="#ffefb8"/><stop offset="0.45" stop-color="#fbcc62"/><stop offset="0.85" stop-color="#eea416"/><stop offset="1" stop-color="#c88400"/></radialGradient><linearGradient id="cb" x1="0" y1="0" x2="0" y2="1"><stop offset="0" stop-color="#fffbe8"/><stop offset="0.12" stop-color="#ffd070"/><stop offset="0.28" stop-color="#ffa000"/><stop offset="0.5" stop-color="#b06800"/><stop offset="0.75" stop-color="#4a2a00"/><stop offset="1" stop-color="#000"/></linearGradient></defs>
<g clip-path="url(#pka0)"><rect x="37.6" y="40.7" width="121.5" height="121" filter="url(#fa0)"/></g>
<g clip-path="url(#cpa0)"><g mask="url(#mka0)">
<rect x="37.6" y="40.7" width="121.5" height="121" fill="#c27600"/>
<g filter="url(#dpa)"><g fill="none" stroke="#180a00" stroke-linecap="round"><path d="M72.9 115.8Q76.2 116.7 79.6 117.4" stroke-width="2.4"/><path d="M42.5 134.8Q43.8 136.2 43.2 137.9" stroke-width="2.1"/><path d="M87.4 152.9Q88.7 154.3 90.3 155.3" stroke-width="3.1"/><path d="M103.6 129.6Q107.7 132.4 112.4 130.9" stroke-width="2.3"/><path d="M55.7 113.4Q54.3 115.6 51.7 116.1" stroke-width="2.7"/><path d="M42.3 116.2Q44 119.4 43.9 123.1" stroke-width="2.7"/><path d="M94.7 121.7Q93.6 125.7 90.2 128" stroke-width="2.7"/><path d="M99.2 153.9Q99.6 158.3 103.8 159.7" stroke-width="2.1"/><path d="M88 148.3Q89.3 150.2 88.1 152.2" stroke-width="2.8"/><path d="M112.3 132.8Q108.4 133.7 104.4 134.2" stroke-width="2.8"/><path d="M46.7 147.1Q43.2 145.6 39.8 147.2" stroke-width="2.3"/><path d="M83.8 143.8Q84.7 145.2 84.2 146.9" stroke-width="2.1"/><path d="M41.7 149.5Q43.2 150.6 44.3 152.2" stroke-width="3"/><path d="M48.7 132Q45.2 131.8 42.8 134.3" stroke-width="3"/><path d="M72.9 130.3Q70 129.7 68.1 132.2" stroke-width="2.2"/><path d="M57.6 118.9Q57.4 121.1 57.8 123.3" stroke-width="2.3"/><path d="M36.7 128.9Q34.5 131.1 35.6 134" stroke-width="2.8"/><path d="M96.8 141.9Q100 144.4 103.8 143.1" stroke-width="2.9"/><path d="M144.5 149.9Q146.8 152 146.2 155" stroke-width="2.8"/><path d="M41.6 110.9Q43.6 111.5 45.3 113" stroke-width="2.1"/><path d="M34.9 115Q36.7 116.1 36.4 118.2" stroke-width="3"/><path d="M64.9 126.5Q66.8 128.7 69.7 128.5" stroke-width="3.2"/><path d="M92.4 134.5Q94.2 134.7 95.7 135.6" stroke-width="2.3"/><path d="M35.7 159.6Q38.4 161.1 41.3 162.4" stroke-width="2"/><path d="M104.2 159.2Q103 163.3 99.5 165.8" stroke-width="2.4"/><path d="M58.9 149.1Q57 151.6 54.2 153" stroke-width="2.3"/><path d="M140.8 160.5Q136.4 161.4 134.1 165.2" stroke-width="2.9"/><path d="M61.5 136.7Q64.2 135.2 66.6 137.2" stroke-width="2.3"/><path d="M67.4 142.3Q65.5 147.1 68.8 150.9" stroke-width="3.2"/><path d="M61.6 119.5Q63.1 121.1 64.9 122" stroke-width="3.1"/><path d="M118.4 151Q116.7 152.1 116.7 154.1" stroke-width="2.9"/><path d="M60 150.5Q57 150.7 56 153.5" stroke-width="2.5"/><path d="M82.8 158.9Q87 159.1 89.1 162.6" stroke-width="2.2"/><path d="M150.8 152Q148.5 151.8 147.5 154" stroke-width="2.8"/><path d="M77.7 138.6Q79.5 139.9 81.5 138.7" stroke-width="2.8"/><path d="M104.3 158.9Q101.2 158.8 99.1 161.1" stroke-width="2.3"/><path d="M67.8 122.3Q67.9 124.7 66.6 126.6" stroke-width="2.5"/><path d="M51.7 156.2Q51.8 158.7 52.4 161.2" stroke-width="3.1"/><path d="M88.7 156.1Q88.3 159.1 88.1 162.1" stroke-width="2"/><path d="M35.9 150.5Q35.5 152.6 36.3 154.6" stroke-width="2.7"/><path d="M79 135Q77.6 138.3 74 139" stroke-width="2.7"/><path d="M66.9 119.8Q66.5 123.6 66.7 127.4" stroke-width="2.9"/><path d="M100.2 143.8Q100 146.7 99.6 149.5" stroke-width="3.1"/><path d="M120.4 153.7Q123.1 157.1 126.3 160" stroke-width="3.1"/><path d="M49.6 131.6Q51.6 132 52.1 133.9" stroke-width="2.8"/><path d="M135.2 156.5Q133.6 157.7 132.8 159.5" stroke-width="2.2"/><path d="M148.5 161.6Q146.4 162.2 144.3 162.2" stroke-width="2.6"/><path d="M159.4 152.5Q159.8 154.4 160.3 156.3" stroke-width="2.4"/><path d="M56.5 125.7Q60.1 126.2 63.8 126.1" stroke-width="2.5"/><path d="M38 123.2Q39.9 126.7 37.7 130" stroke-width="3.2"/><path d="M133.3 160.8Q135.4 161.3 135.8 163.5" stroke-width="2.9"/><path d="M72.2 114.6Q69.2 114.2 66.9 116.2" stroke-width="2.3"/><path d="M56.2 156.6Q55.8 160.3 52.5 161.8" stroke-width="2.1"/><path d="M47.5 158.3Q45.8 161.9 41.9 162.3" stroke-width="3"/><path d="M42.6 153.6Q43.8 156.2 45.3 158.6" stroke-width="3.1"/><path d="M67 113.3Q70.4 114.1 71.5 117.5" stroke-width="2.2"/><path d="M40.5 117.4Q41.2 119.9 43.3 121.4" stroke-width="2.3"/><path d="M55.3 133.1Q58.7 136.4 63.4 136" stroke-width="2.5"/><path d="M97.8 151.8Q97 154.5 97.7 157.2" stroke-width="3.2"/><path d="M80.1 151.1Q79 154.6 77.1 157.7" stroke-width="2.4"/><path d="M43.6 114.2Q42.9 115.8 41.3 116.6" stroke-width="2.2"/><path d="M48.3 151.4Q47.3 155.5 44.1 158.4" stroke-width="2.3"/><path d="M72 131.8Q73 133.6 72.7 135.6" stroke-width="3.2"/><path d="M65.2 159.6Q67.8 161.1 67.3 164" stroke-width="2.5"/><path d="M95.2 134Q96.6 136.1 95.1 138.2" stroke-width="2.3"/><path d="M45.2 130.3Q46.9 129.9 48.5 130.5" stroke-width="2.3"/><path d="M110.9 134.3Q108.1 137 107.3 140.9" stroke-width="3.1"/><path d="M80.5 124.3Q83.9 127.5 88.5 128.3" stroke-width="2.8"/><path d="M42.7 150.7Q39.8 154 39.5 158.4" stroke-width="3"/><path d="M55.7 135.8Q52.4 136.2 50.5 138.8" stroke-width="3"/><path d="M110.9 154.8Q110 158.5 106.9 160.7" stroke-width="2"/><path d="M53.9 127.3Q52.2 128.1 50.7 129.1" stroke-width="2.8"/><path d="M111.2 145.9Q114.2 147.2 117.2 146" stroke-width="2.9"/><path d="M95.3 137.2Q98.5 139 102.1 138.6" stroke-width="2.3"/><path d="M42 120.7Q44.2 123.9 47.9 125.2" stroke-width="3.2"/><path d="M99.2 127Q96.7 128.8 96 131.9" stroke-width="2.7"/><path d="M52 119.2Q53.8 122.5 56.3 125.3" stroke-width="2"/><path d="M45.2 120.2Q42.5 122.6 41.2 126" stroke-width="2.3"/><path d="M97.7 132.9Q99.8 135.5 103.1 135" stroke-width="2.2"/><path d="M158.2 158.6Q157.7 160.3 158.6 161.7" stroke-width="3.2"/><path d="M94.1 122.7Q92.2 124 89.9 123.5" stroke-width="2.7"/><path d="M49.4 135.5Q52.6 139.1 57.4 139" stroke-width="2.6"/><path d="M149 146.5Q146.9 147.3 144.8 147.9" stroke-width="2"/><path d="M34.4 133.2Q37.2 134.7 37.7 137.8" stroke-width="2.4"/><path d="M76.3 153.8Q74.8 154.3 74.2 155.9" stroke-width="2.1"/><path d="M149.3 144.5Q152.5 147.3 154.4 151.1" stroke-width="2.5"/><path d="M160.4 138.4Q161.7 140.7 161.5 143.4" stroke-width="2.1"/><path d="M50.7 154.1Q48.5 155.3 46.1 155" stroke-width="2.3"/><path d="M85.9 159Q82 160.6 79 163.6" stroke-width="3.1"/><path d="M127.7 143.6Q129.8 145.4 132.4 144.3" stroke-width="2.2"/><path d="M96.5 125.5Q93.7 126.2 93.2 129" stroke-width="2.3"/><path d="M103.8 129.1Q105.9 129.4 107.3 131.1" stroke-width="3.1"/><path d="M146.8 162.3Q149.9 162.4 151.9 164.7" stroke-width="2.1"/><path d="M68.6 121.4Q65.2 121.5 62.6 123.7" stroke-width="2.5"/><path d="M86.3 135Q89 136.5 88.8 139.6" stroke-width="2.3"/><path d="M95.6 140.6Q99.6 142.1 102 145.7" stroke-width="2.3"/><path d="M89.6 130.9Q84.7 130.9 81.9 134.9" stroke-width="2"/><path d="M39.3 143.4Q39.1 147.6 40 151.8" stroke-width="2"/><path d="M88.3 157.9Q83.6 157.3 81.2 161.4" stroke-width="2.3"/><path d="M50.9 114.2Q47.7 115.7 47.6 119.3" stroke-width="2.9"/><path d="M117.3 147.8Q118.7 150.9 116.4 153.5" stroke-width="2.9"/><path d="M62.8 156.5Q66.2 158.2 66.8 162.1" stroke-width="2.3"/><path d="M113.7 146.6Q115.4 147 117.2 147.4" stroke-width="2.7"/><path d="M81 120.5Q84.3 119.7 87.6 120.7" stroke-width="2.6"/><path d="M155.6 139.8Q157.5 143.9 156.3 148.1" stroke-width="2.3"/><path d="M153.7 147.1Q156.2 147.3 158.6 147.5" stroke-width="2.8"/><path d="M91.7 121.7Q88.6 123.8 84.9 123.3" stroke-width="2"/><path d="M75.1 129.5Q77.2 132.7 80.9 133.6" stroke-width="2.9"/><path d="M65.7 150Q63.4 150.4 61 150.8" stroke-width="2.2"/><path d="M67.1 130.8Q63.9 133.1 60.2 131.9" stroke-width="2.5"/><path d="M60.4 162Q62.5 161.1 64.2 162.6" stroke-width="2.5"/><path d="M152 157.2Q148.3 155 144.6 157.3" stroke-width="2.4"/><path d="M55.2 159.8Q58.8 161 62.6 160.5" stroke-width="2.5"/><path d="M80.5 126.6Q82.5 126 84.5 126.6" stroke-width="2.4"/><path d="M79.5 149.9Q82.8 153.3 81.2 157.7" stroke-width="2.6"/><path d="M81.5 157.3Q81.3 159.7 83.2 161.1" stroke-width="2"/><path d="M83.4 152.8Q87.5 150.8 90.9 153.7" stroke-width="2.1"/><path d="M127.7 156.2Q128.2 159.1 131 160" stroke-width="2.7"/><path d="M66.9 146.1Q69.8 146.9 70.1 149.8" stroke-width="2.9"/><path d="M146.3 143.1Q150.7 141.8 154.9 143.7" stroke-width="2.6"/><path d="M153.8 159.3Q155.9 161 157.5 163" stroke-width="2.6"/><path d="M139.3 146.6Q135.9 148.7 133.3 151.8" stroke-width="2.4"/><path d="M72 127.3Q76.1 126.7 79.4 129.2" stroke-width="2.9"/><path d="M42.3 138.7Q39.8 137.5 37.4 139" stroke-width="3.2"/><path d="M68.8 111.1Q68.3 112.9 68.9 114.7" stroke-width="2.5"/><path d="M66.7 128.5Q64 130.7 63.2 134.2" stroke-width="3"/><path d="M103.7 126.7Q107.5 127.8 109.8 131.1" stroke-width="2.3"/><path d="M53.2 154.5Q55.2 157 56.5 160" stroke-width="3.2"/><path d="M132.8 143Q137.1 144.3 141.3 145.9" stroke-width="3"/><path d="M140.1 157.7Q141.8 158.4 142.1 160.2" stroke-width="2.2"/><path d="M156 136.6Q155.7 141.4 159.4 144.5" stroke-width="2.5"/><path d="M64.1 150Q68 151.9 72.3 152.8" stroke-width="2.7"/><path d="M61.4 127.5Q63.3 128.1 64.5 129.8" stroke-width="2.7"/><path d="M34.1 124.4Q37.5 125.6 40 128.3" stroke-width="2.2"/><path d="M44 111.2Q43 113.7 43.1 116.5" stroke-width="2.1"/><path d="M54.4 144.7Q56.7 146.3 57.9 148.9" stroke-width="3.1"/><path d="M74.1 137.2Q73.5 140 75.5 142.1" stroke-width="3.2"/><path d="M78.3 116.9Q82.8 117.1 84.2 121.3" stroke-width="3.1"/><path d="M91.3 152.8Q88.8 153.9 86.2 154.7" stroke-width="2.2"/><path d="M40.7 137.9Q38 140.7 34.2 139.8" stroke-width="2.7"/><path d="M80.9 134.7Q82.1 136.2 83.4 137.7" stroke-width="3.1"/><path d="M53.1 135Q49.4 137.1 45.4 135.8" stroke-width="2.2"/><path d="M151 161.9Q153.7 164.1 156.9 162.8" stroke-width="2.5"/><path d="M145.6 140.7Q148.3 144 152.6 144.5" stroke-width="2.3"/><path d="M83 153Q87.2 153.9 89.7 157.3" stroke-width="2.5"/><path d="M99.3 128.2Q100.2 129.9 101.9 130.8" stroke-width="3.1"/><path d="M37 139Q40.5 141.2 44.5 139.9" stroke-width="2.1"/><path d="M108.9 136Q111.2 138.5 112.8 141.5" stroke-width="2.7"/><path d="M88.5 142Q90.9 144.4 89.6 147.6" stroke-width="2.7"/><path d="M129 150Q131.5 151.4 133.9 153" stroke-width="2.1"/><path d="M51.4 130.4Q51.7 132.1 52 133.8" stroke-width="2"/><path d="M124.7 150.8Q127.6 151.4 130.6 151.9" stroke-width="2.5"/><path d="M146.3 161.5Q144 164.8 140.1 165.5" stroke-width="3.2"/><path d="M93.6 159.2Q96.5 162.8 101 163.4" stroke-width="3.1"/><path d="M40.5 125.9Q42.8 129.5 47.1 129.5" stroke-width="2.3"/><path d="M97.2 157.7Q98.6 159.3 100.1 160.8" stroke-width="2.4"/><path d="M42.2 117.9Q40.1 117.8 38.3 118.7" stroke-width="3.1"/><path d="M57 149.9Q56.4 151.7 56.6 153.6" stroke-width="2.4"/><path d="M110.2 157.1Q108.4 156.9 106.6 157.2" stroke-width="2.5"/><path d="M161.8 138.5Q160 140.4 158 142" stroke-width="2.2"/><path d="M117.4 160Q116.6 163.2 114.2 165.7" stroke-width="2"/><path d="M39.1 113.2Q39.8 116.5 40.5 119.8" stroke-width="3.1"/><path d="M48.7 120.6Q52.3 118.4 55.6 121.1" stroke-width="2.4"/><path d="M49.5 125.9Q48.7 128 48.4 130.1" stroke-width="2.2"/><path d="M50.5 159.2Q53.1 159.1 54.5 161.2" stroke-width="2.8"/><path d="M143.1 149.6Q146.3 150.4 146.8 153.6" stroke-width="2.8"/><path d="M105.6 124.3Q104.1 128 106.8 131" stroke-width="2.9"/><path d="M66.9 156.7Q67 158.4 66.6 160" stroke-width="2.3"/><path d="M43.2 149.9Q42 151.3 42.7 152.9" stroke-width="2.2"/><path d="M61.9 139.2Q59.4 141.4 59.3 144.7" stroke-width="2.2"/><path d="M76 124.3Q74.2 124.3 72.9 125.4" stroke-width="2.9"/><path d="M36 151.4Q35.1 155.2 36.8 158.8" stroke-width="2.5"/><path d="M61.8 113.8Q64 113.5 66.1 114.3" stroke-width="2.9"/><path d="M120.4 152.4Q122.6 155.3 125.3 157.8" stroke-width="2.5"/><path d="M65.5 141.1Q67.4 145.6 72.3 146.6" stroke-width="2"/><path d="M72 120.7Q68.1 120 64.6 121.9" stroke-width="2.4"/><path d="M67.5 155.8Q65 158.1 63.7 161.4" stroke-width="3.2"/><path d="M97.8 153.2Q94.7 155.1 91.3 156.4" stroke-width="2.9"/><path d="M63.9 142.3Q62.4 143.6 60.5 143.2" stroke-width="2"/><path d="M46.7 158.7Q49.7 158.2 51.3 160.8" stroke-width="2"/><path d="M125 140.7Q124.1 144.9 120.1 146" stroke-width="2.7"/><path d="M84.9 152.2Q82 155.8 77.5 154.9" stroke-width="3"/><path d="M148.9 159.5Q151 159.8 151.8 161.7" stroke-width="2"/><path d="M144.9 151.5Q141.7 152.7 139.1 155" stroke-width="2.3"/><path d="M45.1 111.4Q48.7 112.9 51.2 115.9" stroke-width="2.5"/><path d="M39.7 120.6Q38.6 122.7 36.8 124.3" stroke-width="2.4"/><path d="M142 141Q142.6 142.5 142.9 144" stroke-width="2.9"/><path d="M76.7 145.3Q78.1 148.5 81.5 149.3" stroke-width="2.1"/><path d="M39.5 119.1Q35.9 122 32 119.7" stroke-width="2.6"/><path d="M97.2 150.4Q97.7 152.4 97.3 154.5" stroke-width="3"/><path d="M66.5 159.1Q67.9 161.1 70.1 162.1" stroke-width="2.6"/><path d="M50.8 142.5Q49.1 143.1 48 144.6" stroke-width="2.9"/><path d="M81.9 129Q85.4 132.3 90 131.2" stroke-width="2"/><path d="M61.5 118.6Q62.2 122.8 61.5 127" stroke-width="3.1"/><path d="M67.1 131.6Q64.1 133 62.7 135.9" stroke-width="2.8"/><path d="M81.1 125.4Q79.1 125.9 77.6 127.3" stroke-width="2.9"/><path d="M57.8 128.9Q58.8 133 55.9 136.3" stroke-width="2.6"/><path d="M62.8 123.2Q60.5 126.5 56.5 126.6" stroke-width="2.2"/><path d="M64 124.8Q67 125.7 69.4 127.8" stroke-width="2.2"/><path d="M159.8 148.4Q158.1 149.6 156.2 148.9" stroke-width="2.5"/></g><ellipse cx="37.7" cy="111.8" rx="3.8" ry="2.2" fill="url(#ga)"/><ellipse cx="40.4" cy="116.5" rx="3.8" ry="2.5" fill="url(#ga)"/><ellipse cx="47.8" cy="115.9" rx="4.7" ry="2.2" fill="url(#ga)"/><ellipse cx="55.8" cy="117" rx="3.9" ry="3" fill="url(#ga)"/><ellipse cx="60.9" cy="116.3" rx="4.4" ry="2.9" fill="url(#ga)"/><ellipse cx="70.8" cy="114.9" rx="4" ry="2.7" fill="url(#ga)"/><ellipse cx="37.5" cy="121.5" rx="4.4" ry="2.4" fill="url(#ga)"/><ellipse cx="42.1" cy="120.3" rx="4.5" ry="2.6" fill="url(#ga)"/><ellipse cx="51.1" cy="121.6" rx="4.7" ry="2.4" fill="url(#ga)"/><ellipse cx="59.6" cy="122.4" rx="3.8" ry="2.3" fill="url(#ga)"/><ellipse cx="67" cy="120.3" rx="3.6" ry="2.9" fill="url(#ga)"/><ellipse cx="73.6" cy="121.1" rx="3.8" ry="2.2" fill="url(#ga)"/><ellipse cx="80.2" cy="122.1" rx="3.4" ry="2.3" fill="url(#ga)"/><ellipse cx="90.1" cy="121.2" rx="4.2" ry="2.4" fill="url(#ga)"/><ellipse cx="41.3" cy="127.6" rx="4.6" ry="2.6" fill="url(#ga)"/><ellipse cx="48.5" cy="127.3" rx="4.4" ry="2.8" fill="url(#ga)"/><ellipse cx="53.8" cy="127.3" rx="4.3" ry="2.4" fill="url(#ga)"/><ellipse cx="64.6" cy="126.9" rx="3.4" ry="2.1" fill="url(#ga)"/><ellipse cx="70.7" cy="125.4" rx="3.3" ry="2.5" fill="url(#ga)"/><ellipse cx="78.5" cy="126.9" rx="3" ry="2.8" fill="url(#ga)"/><ellipse cx="86.2" cy="126.9" rx="4.5" ry="2.4" fill="url(#ga)"/><ellipse cx="36.8" cy="131.2" rx="3.8" ry="2.6" fill="url(#ga)"/><ellipse cx="44.8" cy="131.4" rx="3.7" ry="2.5" fill="url(#ga)"/><ellipse cx="50.2" cy="132.1" rx="4.2" ry="2.8" fill="url(#ga)"/><ellipse cx="58.3" cy="131.5" rx="4.1" ry="2.6" fill="url(#ga)"/><ellipse cx="68.1" cy="130.6" rx="4.6" ry="2.5" fill="url(#ga)"/><ellipse cx="81" cy="133.3" rx="4.2" ry="2.8" fill="url(#ga)"/><ellipse cx="92" cy="132.4" rx="4.1" ry="2.7" fill="url(#ga)"/><ellipse cx="98.4" cy="132.6" rx="4.2" ry="2.5" fill="url(#ga)"/><ellipse cx="107" cy="130.8" rx="3.1" ry="2.8" fill="url(#ga)"/><ellipse cx="37.8" cy="138.3" rx="4.7" ry="2.4" fill="url(#ga)"/><ellipse cx="45.2" cy="137" rx="4.7" ry="3" fill="url(#ga)"/><ellipse cx="63.5" cy="136.5" rx="3" ry="2" fill="url(#ga)"/><ellipse cx="71.5" cy="136.2" rx="3.2" ry="2.9" fill="url(#ga)"/><ellipse cx="76.9" cy="135.9" rx="3.4" ry="2.7" fill="url(#ga)"/><ellipse cx="84.9" cy="136" rx="4.3" ry="2.9" fill="url(#ga)"/><ellipse cx="95.1" cy="136.1" rx="4.3" ry="2.5" fill="url(#ga)"/><ellipse cx="103.8" cy="136.6" rx="4.3" ry="2" fill="url(#ga)"/><ellipse cx="107.6" cy="137.8" rx="3.1" ry="2.3" fill="url(#ga)"/><ellipse cx="44.7" cy="144" rx="4" ry="2.3" fill="url(#ga)"/><ellipse cx="49.3" cy="144.1" rx="4.5" ry="2.3" fill="url(#ga)"/><ellipse cx="59.5" cy="144.1" rx="4.1" ry="2.3" fill="url(#ga)"/><ellipse cx="66.5" cy="143.8" rx="4.2" ry="2.6" fill="url(#ga)"/><ellipse cx="76.3" cy="143.6" rx="3" ry="2.3" fill="url(#ga)"/><ellipse cx="82.1" cy="142.9" rx="4.6" ry="2" fill="url(#ga)"/><ellipse cx="91.7" cy="143.6" rx="4" ry="2.3" fill="url(#ga)"/><ellipse cx="99.5" cy="143.6" rx="4.6" ry="2.3" fill="url(#ga)"/><ellipse cx="104" cy="142.8" rx="3.4" ry="2.8" fill="url(#ga)"/><ellipse cx="115.5" cy="141.8" rx="4.2" ry="2.5" fill="url(#ga)"/><ellipse cx="120.1" cy="141.9" rx="4.4" ry="2.5" fill="url(#ga)"/><ellipse cx="127.4" cy="143.6" rx="3.4" ry="2.6" fill="url(#ga)"/><ellipse cx="138.7" cy="143.8" rx="3.9" ry="2.6" fill="url(#ga)"/><ellipse cx="151.2" cy="143.3" rx="4" ry="2.4" fill="url(#ga)"/><ellipse cx="37.8" cy="148.4" rx="3.3" ry="2.6" fill="url(#ga)"/><ellipse cx="53" cy="149.5" rx="3.9" ry="2.6" fill="url(#ga)"/><ellipse cx="61.9" cy="148.8" rx="4.7" ry="2.8" fill="url(#ga)"/><ellipse cx="72.1" cy="149.4" rx="3.1" ry="2.2" fill="url(#ga)"/><ellipse cx="86.6" cy="149.1" rx="4.7" ry="2.9" fill="url(#ga)"/><ellipse cx="92.2" cy="148.3" rx="3.2" ry="3" fill="url(#ga)"/><ellipse cx="100.8" cy="148.1" rx="4.7" ry="2.7" fill="url(#ga)"/><ellipse cx="109.2" cy="147.8" rx="4.7" ry="3" fill="url(#ga)"/><ellipse cx="116.3" cy="146.5" rx="3.6" ry="2.9" fill="url(#ga)"/><ellipse cx="134.4" cy="148.6" rx="4.8" ry="2.1" fill="url(#ga)"/><ellipse cx="139.3" cy="148.7" rx="4.2" ry="2.3" fill="url(#ga)"/><ellipse cx="44.2" cy="151.7" rx="3.4" ry="2" fill="url(#ga)"/><ellipse cx="53.1" cy="152.4" rx="4.6" ry="2.9" fill="url(#ga)"/><ellipse cx="68.7" cy="154.3" rx="3.8" ry="2.3" fill="url(#ga)"/><ellipse cx="76" cy="153.2" rx="3.3" ry="2.2" fill="url(#ga)"/><ellipse cx="80.4" cy="153.9" rx="3.3" ry="2.9" fill="url(#ga)"/><ellipse cx="89.2" cy="153" rx="3.5" ry="2.8" fill="url(#ga)"/><ellipse cx="97.3" cy="152.2" rx="3.6" ry="2.9" fill="url(#ga)"/><ellipse cx="115.3" cy="153.8" rx="3.9" ry="2.3" fill="url(#ga)"/><ellipse cx="120.3" cy="152.3" rx="4.8" ry="3" fill="url(#ga)"/><ellipse cx="131.1" cy="152" rx="4.6" ry="2.1" fill="url(#ga)"/><ellipse cx="138" cy="152.6" rx="3" ry="2.8" fill="url(#ga)"/><ellipse cx="154.1" cy="153.3" rx="3.8" ry="2.9" fill="url(#ga)"/><ellipse cx="45.5" cy="158.9" rx="3.5" ry="2.2" fill="url(#ga)"/><ellipse cx="55.6" cy="159.2" rx="4" ry="2.2" fill="url(#ga)"/><ellipse cx="61" cy="159.3" rx="4.3" ry="2.1" fill="url(#ga)"/><ellipse cx="72.1" cy="158" rx="4.6" ry="2.5" fill="url(#ga)"/><ellipse cx="76.4" cy="159.8" rx="4.6" ry="2.3" fill="url(#ga)"/><ellipse cx="84.9" cy="159.6" rx="3.3" ry="2.4" fill="url(#ga)"/><ellipse cx="94.5" cy="157" rx="3.8" ry="2.5" fill="url(#ga)"/><ellipse cx="100.2" cy="159.2" rx="4.6" ry="2.3" fill="url(#ga)"/><ellipse cx="110.6" cy="158.2" rx="3.1" ry="2.9" fill="url(#ga)"/><ellipse cx="119.5" cy="158.5" rx="4" ry="2.5" fill="url(#ga)"/><ellipse cx="123.2" cy="160" rx="3.3" ry="2.1" fill="url(#ga)"/><ellipse cx="139.1" cy="159.2" rx="3" ry="2.6" fill="url(#ga)"/><ellipse cx="149" cy="158.6" rx="3.2" ry="2.9" fill="url(#ga)"/><ellipse cx="43" cy="162.7" rx="4.5" ry="2.1" fill="url(#ga)"/><ellipse cx="68.7" cy="163.5" rx="4.5" ry="2.5" fill="url(#ga)"/><ellipse cx="83.6" cy="163.4" rx="3.6" ry="2.4" fill="url(#ga)"/><ellipse cx="107.3" cy="162.5" rx="4.7" ry="2.9" fill="url(#ga)"/><ellipse cx="112.5" cy="163.6" rx="3.7" ry="2.5" fill="url(#ga)"/><ellipse cx="119.5" cy="163.6" rx="3" ry="2.1" fill="url(#ga)"/><ellipse cx="154.3" cy="162.4" rx="3.5" ry="2.7" fill="url(#ga)"/>
<g fill="none" stroke="#180a00" stroke-linecap="round" stroke-opacity="0.60"><path d="M68 136.9Q67.1 137.4 66.1 137.2" stroke-width="1.4"/><path d="M109.5 160.5Q110.2 161.2 110.9 162" stroke-width="1.6"/><path d="M53.8 114.6Q54.3 115 54.6 115.6" stroke-width="1.4"/><path d="M67.1 112.6Q66.1 112.9 65.2 113.6" stroke-width="1.7"/><path d="M103.8 141.4Q104.7 142 104.9 143" stroke-width="1.4"/><path d="M98.8 129.4Q99.9 129.2 101 129.5" stroke-width="1.9"/><path d="M64.9 138.3Q65 139.5 66.2 139.9" stroke-width="1.4"/><path d="M43.1 156.4Q44 156.4 44.9 156.7" stroke-width="1.6"/><path d="M62.8 160.9Q64 161.2 65 162" stroke-width="1.5"/><path d="M121.5 141.7Q120.3 142.4 119.2 143.1" stroke-width="1.8"/><path d="M129.6 149.8Q128.7 150.1 128.1 151" stroke-width="1.9"/><path d="M51.9 156.2Q51.5 156.5 51.2 156.9" stroke-width="1.6"/><path d="M88.5 150.4Q88.3 151.8 87.6 153" stroke-width="1.6"/><path d="M92.8 147.6Q93 148.4 93.3 149.1" stroke-width="1.5"/><path d="M76 150.5Q76.1 151.9 76 153.2" stroke-width="1.3"/><path d="M74 115.2Q74.4 116.4 73.5 117.3" stroke-width="1.9"/><path d="M77.6 154.8Q76.3 155.6 74.9 155.2" stroke-width="1.5"/><path d="M42.5 139.3Q41.5 139.2 40.6 139.8" stroke-width="1.6"/><path d="M100.1 145.4Q100.4 146.3 100.9 147" stroke-width="1.5"/><path d="M153.6 145.4Q154.6 145.6 155.5 146.1" stroke-width="1.5"/><path d="M107.4 139.9Q106.1 140.1 104.7 140.2" stroke-width="1.6"/><path d="M114.1 162.6Q113.6 163.4 113.9 164.3" stroke-width="1.3"/><path d="M75.6 161.2Q76.2 162.5 75.5 163.8" stroke-width="1.9"/><path d="M123.6 153.2Q122.2 153.9 120.8 154.3" stroke-width="1.3"/><path d="M71.2 136Q72.2 136.2 72.8 137.2" stroke-width="1.7"/><path d="M160.2 143Q160.1 143.6 160.5 144" stroke-width="1.4"/><path d="M74.4 154Q74.2 155.2 73.3 155.9" stroke-width="1.6"/><path d="M159.9 139.7Q160.9 139.7 161.6 140.4" stroke-width="1.8"/><path d="M49 113.1Q48.7 113.7 48.9 114.4" stroke-width="1.7"/><path d="M37.7 150.3Q37.3 151.1 36.7 151.6" stroke-width="1.3"/><path d="M69.4 112.4Q69.3 113.8 68.7 115.1" stroke-width="1.6"/><path d="M40.4 158.7Q40.5 160.3 41.9 161" stroke-width="1.9"/><path d="M73.7 140.2Q72.8 141.7 73.7 143.1" stroke-width="1.4"/><path d="M84.1 147.5Q84.2 148.3 84.9 148.7" stroke-width="1.6"/><path d="M58.1 128Q57.4 128.3 56.7 128.2" stroke-width="1.6"/><path d="M49.8 137Q50.5 137.7 50.3 138.7" stroke-width="1.3"/><path d="M65.8 118.3Q66.7 118.4 66.9 119.3" stroke-width="1.7"/><path d="M69.3 153.9Q69.2 154.6 69.6 155.2" stroke-width="1.8"/><path d="M55.1 126.7Q54.9 128.1 56 128.9" stroke-width="1.4"/><path d="M64.5 132.8Q64.3 133.5 63.7 133.8" stroke-width="1.9"/><path d="M109.6 127.9Q109.6 128.7 109.1 129.3" stroke-width="1.9"/><path d="M50.3 135.9Q50.7 136.9 51.7 137.5" stroke-width="1.5"/><path d="M74.1 129.5Q74.5 130.1 75.1 130.2" stroke-width="1.5"/><path d="M105.5 127.5Q106.6 127.9 106.7 129.1" stroke-width="1.4"/><path d="M63.2 114.3Q64.1 115.1 64.8 116.1" stroke-width="1.9"/><path d="M131.6 156.6Q133 156.8 134.1 157.7" stroke-width="1.2"/><path d="M120.7 144.2Q120.7 145.1 121.1 145.8" stroke-width="1.8"/><path d="M67.1 154.4Q67.1 155.3 66.4 156" stroke-width="1.3"/><path d="M148.9 148.8Q150.2 148.2 151.3 149.1" stroke-width="1.3"/><path d="M59.6 124.9Q60.5 124.8 61.3 125.1" stroke-width="1.7"/></g>
</g></g>
<g filter="url(#dpa)"><ellipse cx="50.3" cy="111.9" rx="3.2" ry="2.4" fill="url(#ga)"/><ellipse cx="52.9" cy="113.1" rx="3" ry="1.8" fill="url(#ga)"/><ellipse cx="63.8" cy="113.2" rx="2.8" ry="2.5" fill="url(#ga)"/><ellipse cx="83.9" cy="120.5" rx="3.2" ry="2.5" fill="url(#ga)"/><ellipse cx="88.8" cy="122.1" rx="3.2" ry="2.6" fill="url(#ga)"/><ellipse cx="103.1" cy="125.6" rx="3.2" ry="1.8" fill="url(#ga)"/><ellipse cx="107.7" cy="128.5" rx="2.8" ry="2.5" fill="url(#ga)"/><ellipse cx="114.4" cy="140.6" rx="4" ry="2.4" fill="url(#ga)"/><ellipse cx="116.8" cy="141.9" rx="3.2" ry="2" fill="url(#ga)"/><ellipse cx="122.7" cy="143.2" rx="2.9" ry="2" fill="url(#ga)"/><ellipse cx="130.8" cy="143.3" rx="3" ry="2.6" fill="url(#ga)"/><ellipse cx="142.7" cy="142.7" rx="3.7" ry="2" fill="url(#ga)"/><ellipse cx="150.2" cy="142.5" rx="3.8" ry="1.9" fill="url(#ga)"/></g>
</g>
<g clip-path="url(#pka1)"><rect x="161.8" y="40.7" width="121.5" height="121" filter="url(#fa1)"/></g>
<g clip-path="url(#cpa1)"><g mask="url(#mka1)">
<rect x="161.8" y="40.7" width="121.5" height="121" fill="#c27600"/>
<g filter="url(#dpa)"><g fill="none" stroke="#180a00" stroke-linecap="round"><path d="M204 117.6Q205.6 118.5 206.1 120.2" stroke-width="2.8"/><path d="M198.3 132.4Q201.3 132.4 202.8 135" stroke-width="2"/><path d="M285.4 148.3Q283.4 148.9 283.2 151" stroke-width="2.7"/><path d="M171.1 133.3Q173.4 135 175.8 136.4" stroke-width="2"/><path d="M278.5 143Q275.1 142.9 271.9 144.3" stroke-width="2.3"/><path d="M191.9 114.1Q190.2 114.5 189.5 116.2" stroke-width="2.4"/><path d="M187 142.4Q183.5 145.1 179.2 144.2" stroke-width="2.9"/><path d="M261.9 147.8Q263.4 150.1 266.1 150.5" stroke-width="2.4"/><path d="M208.3 137.1Q206.5 139.2 203.8 139.7" stroke-width="2"/><path d="M233.3 139.6Q229.1 141.4 228.6 145.9" stroke-width="3.1"/><path d="M220.7 133.9Q221.7 135.6 223 137.1" stroke-width="2.1"/><path d="M213.7 161.8Q215.4 161.8 217.2 162.2" stroke-width="2.2"/><path d="M264.4 151.8Q266.5 155.3 266.2 159.3" stroke-width="2.8"/><path d="M223.9 128.6Q223.8 131.2 224.9 133.5" stroke-width="3"/><path d="M195.5 129.5Q198.1 131.7 198.4 135.1" stroke-width="2.1"/><path d="M204.7 132Q199.8 131.1 196.2 134.5" stroke-width="3.2"/><path d="M276.6 141.5Q280.3 143.2 284.4 143" stroke-width="2.7"/><path d="M196.8 135.2Q196.2 139.6 197.3 143.9" stroke-width="2.4"/><path d="M201.6 156.3Q202.7 157.5 204.2 158.1" stroke-width="2.5"/><path d="M171.2 142Q170.8 144.6 169.8 147.1" stroke-width="2.6"/><path d="M229.1 128.7Q230.1 130.5 232.2 130.6" stroke-width="2.7"/><path d="M171.7 155.3Q173.9 156 176.1 156.6" stroke-width="2.3"/><path d="M221.7 136.4Q222.4 138.8 220.7 140.7" stroke-width="2.6"/><path d="M216.9 153.5Q214.1 155.3 213 158.5" stroke-width="2.1"/><path d="M285.7 147.1Q284.3 148.2 282.6 148.9" stroke-width="2.2"/><path d="M190 126.8Q190.1 128.5 189.1 129.8" stroke-width="2.4"/><path d="M272.1 138.3Q269 141.9 270.5 146.4" stroke-width="3"/><path d="M182.7 147.6Q180.5 148.9 179 151" stroke-width="3"/><path d="M178.9 127.7Q175 127.2 171.5 128.9" stroke-width="2.1"/><path d="M230.5 152.2Q228.6 152.2 226.9 153" stroke-width="2.3"/><path d="M185.1 128.6Q186.1 133 183 136.4" stroke-width="2"/><path d="M174 150.4Q174.3 152.6 173.3 154.5" stroke-width="2.8"/><path d="M242 152.7Q246.4 151.9 250.7 153.1" stroke-width="2.2"/><path d="M218.9 156.1Q223 154.8 226.6 157" stroke-width="3"/><path d="M268.5 140.3Q270 141.4 270.2 143.2" stroke-width="3.1"/><path d="M181.8 124.8Q181.5 127.8 180.4 130.5" stroke-width="2.4"/><path d="M158.1 139.8Q160.6 139.8 163 140.1" stroke-width="3.2"/><path d="M163.2 112.9Q166.3 114.8 167.8 118.2" stroke-width="2.6"/><path d="M195.7 139Q192.4 137.3 189.6 139.8" stroke-width="2"/><path d="M233.3 148.1Q229.7 150.2 227 153.5" stroke-width="2.8"/><path d="M208.9 121.7Q204.4 121 201.8 124.7" stroke-width="2.8"/><path d="M198.1 146.6Q197.2 150.3 197.8 154.1" stroke-width="2.4"/><path d="M228.1 128.7Q229.3 130 229.7 131.7" stroke-width="3.2"/><path d="M218.6 126.5Q220.5 127.7 221.9 129.5" stroke-width="2.2"/><path d="M160.2 153.6Q160.4 156.5 161.2 159.2" stroke-width="2.4"/><path d="M198.2 121.1Q195.4 124.3 197 128.3" stroke-width="2.4"/><path d="M173.1 117.3Q169.9 118 166.6 117.5" stroke-width="2.9"/><path d="M213.5 154.6Q212.6 156.3 213.6 158" stroke-width="2.3"/><path d="M177.7 120.1Q180.8 122 183.2 124.7" stroke-width="2.2"/><path d="M232.7 154Q234.8 157 238.3 158" stroke-width="3.2"/><path d="M259.1 155.6Q261.8 155.7 263.7 157.7" stroke-width="2.6"/><path d="M266.3 140.8Q270.3 142.6 273 146" stroke-width="2.9"/><path d="M167.6 129.2Q167.4 130.8 166.4 132.2" stroke-width="2.6"/><path d="M234.5 147.4Q237.2 147 239.2 148.9" stroke-width="2.2"/><path d="M228.9 137.7Q227 140.3 225.9 143.3" stroke-width="2.4"/><path d="M246.9 147.2Q247.9 151.2 251.2 153.5" stroke-width="3.2"/><path d="M219.7 122.4Q217 124.5 213.7 123.6" stroke-width="2"/><path d="M217.9 140.8Q217.1 145.4 221.1 147.7" stroke-width="2.3"/><path d="M163.3 113.2Q163.2 114.9 163.3 116.5" stroke-width="2.2"/><path d="M182.1 116.4Q179 119 174.9 118.2" stroke-width="2"/><path d="M201.7 156.9Q201.3 159 199.2 159.6" stroke-width="2.8"/><path d="M210.6 154.4Q210.4 156.1 209.9 157.7" stroke-width="3.1"/><path d="M276.9 141.1Q278.9 142.2 279.9 144.2" stroke-width="2.5"/><path d="M190.5 115.4Q189.8 119.2 187.2 122.2" stroke-width="3.2"/><path d="M188.8 138.6Q186.6 138.5 185.2 140.2" stroke-width="2.3"/><path d="M252.9 151.7Q254.2 153.7 255.3 155.7" stroke-width="3.1"/><path d="M179.6 142.6Q179.7 145.9 180.6 149.1" stroke-width="3.1"/><path d="M188.1 155.5Q185.3 156.1 184.1 158.8" stroke-width="2.2"/><path d="M265.8 163.2Q268.3 162.1 270.6 163.6" stroke-width="3.2"/><path d="M162.3 157.3Q161.8 159.5 159.7 160.2" stroke-width="2.2"/><path d="M205.8 157.8Q201.5 156.8 199 160.4" stroke-width="2"/><path d="M185.7 151.6Q189.2 152 192.8 152.4" stroke-width="2.3"/><path d="M164.6 162.3Q162.8 164.4 160 164.1" stroke-width="2.6"/><path d="M178 129.8Q177.7 132 175.7 133.2" stroke-width="2.9"/><path d="M202.2 131.5Q205.7 134.5 206.1 139.1" stroke-width="3.2"/><path d="M268.7 147.3Q271 147.9 272.6 149.8" stroke-width="2.1"/><path d="M165.7 133.3Q165.7 136.1 164.7 138.7" stroke-width="2"/><path d="M246.6 141Q245.3 144 245.7 147.2" stroke-width="3.2"/><path d="M268 145.5Q269.8 147.6 271 150.1" stroke-width="3.2"/><path d="M205.9 127.9Q207.6 130.8 210.8 130.2" stroke-width="2"/><path d="M236.9 157.4Q236.4 159.7 235.3 161.7" stroke-width="2.3"/><path d="M187.8 111.3Q183.3 112.1 181.6 116.4" stroke-width="2.1"/><path d="M200.5 161Q198.9 161.6 198.4 163.2" stroke-width="2.6"/><path d="M235 161.4Q233.4 163.1 233.3 165.4" stroke-width="2.5"/><path d="M224 138.9Q225.3 142.2 227.7 144.9" stroke-width="2.7"/><path d="M190 141.2Q187.8 141.9 185.6 142.5" stroke-width="2.9"/><path d="M223.4 133.2Q224.8 135.3 227.3 135.1" stroke-width="2.6"/><path d="M222.7 134.4Q226.8 135.7 228.4 139.7" stroke-width="3"/><path d="M221.3 142.1Q216.9 141.5 213.8 144.7" stroke-width="2.1"/><path d="M204 152.7Q208.4 152.5 211.3 155.7" stroke-width="2.3"/><path d="M173 123.5Q173 127.4 172.4 131.3" stroke-width="2.1"/><path d="M208.9 160Q209.5 163.5 210 167.1" stroke-width="3"/><path d="M203.7 126.3Q206.4 125.4 209 126.6" stroke-width="2.7"/><path d="M164.7 114.6Q167.7 116.8 169.4 120.1" stroke-width="2.3"/><path d="M239.1 153.7Q238.8 155.9 240.1 157.8" stroke-width="2.7"/><path d="M213.2 125.1Q215.7 127.7 217.5 130.9" stroke-width="2.8"/><path d="M204.6 137.5Q206.6 142.3 211.7 142.4" stroke-width="2.9"/><path d="M204.1 144.3Q206.3 145.7 209 145.4" stroke-width="2.5"/><path d="M228.8 132.4Q227.7 137.3 222.8 138.2" stroke-width="2.7"/><path d="M216.8 129.5Q218 133.3 218.9 137.2" stroke-width="3.1"/><path d="M217.6 133.4Q214.6 134.4 212.4 136.6" stroke-width="2.9"/><path d="M254.9 149.5Q257 149.9 257.8 151.9" stroke-width="3"/><path d="M173.3 108.6Q174.9 112.7 171.8 116" stroke-width="2.8"/><path d="M167.4 143.6Q164.8 145.8 166 148.9" stroke-width="3"/><path d="M203.3 136.5Q201.8 137 200.2 136.6" stroke-width="2.3"/><path d="M199.8 117.7Q199 121.7 198.4 125.7" stroke-width="2.5"/><path d="M169.6 122.1Q165 122.8 162.9 126.9" stroke-width="2.3"/><path d="M227.1 125.5Q226.8 128.4 227.3 131.3" stroke-width="2.4"/><path d="M165.3 122.1Q166 125.1 167.1 128" stroke-width="2.4"/><path d="M195.6 150.3Q193.3 151.6 192.7 154.1" stroke-width="2.7"/><path d="M219.5 159Q217.5 161.7 214.2 161.1" stroke-width="2.5"/><path d="M242.5 143.9Q243.7 146.3 246.2 146.8" stroke-width="2.2"/><path d="M176.3 112.1Q172.5 113.1 168.7 113.3" stroke-width="2.8"/><path d="M189 156.7Q193.2 156.4 195.3 160.1" stroke-width="2.8"/><path d="M163.3 152.9Q164.9 154.7 166.8 156" stroke-width="2.4"/><path d="M257.5 162.3Q260.2 162.1 262.8 162.9" stroke-width="2.8"/><path d="M187.6 136.3Q187.3 138.1 188 139.8" stroke-width="2.5"/><path d="M276 159.2Q276.9 163.6 275.3 167.8" stroke-width="2.4"/><path d="M221.1 152.8Q222.5 156.3 220.2 159.3" stroke-width="2.2"/><path d="M190.8 155Q192.3 159.5 196.9 160.3" stroke-width="2"/><path d="M237.4 161.4Q234.9 161.3 232.5 162.3" stroke-width="2.1"/><path d="M203.2 131Q202.3 133.4 200.1 134.3" stroke-width="2.9"/><path d="M228.6 148.5Q231.2 151.5 229.4 155" stroke-width="2.6"/><path d="M172.5 141.9Q172.4 143.9 171.5 145.6" stroke-width="2.4"/><path d="M183.3 159.2Q180.5 159.3 178.9 161.6" stroke-width="2.6"/><path d="M174.6 111.1Q178.5 112.6 182.4 114.1" stroke-width="2.6"/><path d="M174.8 131.7Q174.5 133.7 174.3 135.7" stroke-width="2.4"/><path d="M182.7 129.2Q184.9 129.4 186.6 130.9" stroke-width="3"/><path d="M224.3 157.3Q222.8 157.6 221.3 157.8" stroke-width="2.9"/><path d="M232.9 144.6Q232.1 146.9 229.8 147.7" stroke-width="2.3"/><path d="M161.8 127.1Q162.4 130.5 165.5 131.9" stroke-width="2.1"/><path d="M230.9 150.8Q234.8 150.2 238.1 152.2" stroke-width="2.7"/><path d="M235.5 142.9Q235.9 147.1 239.3 149.8" stroke-width="2.6"/><path d="M187.4 147.1Q190.9 148 193.7 150.3" stroke-width="2.2"/><path d="M187.2 119.5Q184.5 118 182.2 119.9" stroke-width="2.9"/><path d="M223.7 134.3Q219.6 134.1 216.3 136.4" stroke-width="2.8"/><path d="M187.9 140.1Q186.2 144.4 181.6 145.1" stroke-width="2.9"/><path d="M277.6 143.7Q280.3 146.8 284.4 146.8" stroke-width="3.1"/><path d="M276.6 147Q273.1 148.9 270.1 151.6" stroke-width="2.5"/><path d="M260.9 148.2Q261.2 153.1 265.8 154.9" stroke-width="2.6"/><path d="M283.3 150.6Q281.8 152.5 279.4 152.8" stroke-width="2.2"/><path d="M220.1 119.8Q217 119.9 214.4 121.5" stroke-width="2.9"/><path d="M211.1 148.3Q207 150.2 206.9 154.8" stroke-width="3"/><path d="M242.4 152.1Q240.6 154.1 240.9 156.9" stroke-width="3"/><path d="M158.9 134.4Q160.1 135.5 161.8 135.4" stroke-width="2.5"/><path d="M204.2 118.1Q201.7 119 199.6 120.6" stroke-width="2.4"/><path d="M170.2 119Q170 122.7 171.5 126.1" stroke-width="3"/><path d="M176.3 145Q175.3 146.4 173.6 146.7" stroke-width="2.3"/><path d="M191.1 156.4Q188.1 158 184.8 158.6" stroke-width="2.6"/><path d="M184.2 159Q182.4 161.4 179.4 162.2" stroke-width="2.4"/><path d="M172.6 134.4Q173.2 138.5 172.3 142.6" stroke-width="3.1"/><path d="M272.6 143.3Q272.1 144.9 271.3 146.5" stroke-width="3.1"/><path d="M203.9 141.4Q205.1 144.6 206.5 147.7" stroke-width="2.8"/><path d="M206.9 161.5Q205.2 162 204 163.2" stroke-width="2.7"/><path d="M218.7 146.5Q214.9 148.7 213.2 152.8" stroke-width="2"/><path d="M279.9 155.7Q279.2 157.5 278.9 159.4" stroke-width="2.1"/><path d="M206.8 146.8Q208.1 150.3 211.2 152.1" stroke-width="2.3"/><path d="M230.1 127.1Q226.4 130.2 226.1 135" stroke-width="2.8"/><path d="M209.6 158.6Q208.5 162.3 205.5 164.6" stroke-width="2.2"/><path d="M230.2 150.4Q233.7 153 233.8 157.3" stroke-width="2.6"/><path d="M201.5 128.4Q197.4 130.8 192.8 129.4" stroke-width="2.4"/><path d="M198.8 130.7Q200.3 131.8 201.3 133.4" stroke-width="2.5"/><path d="M187.9 157.2Q185.1 158.1 182.9 160" stroke-width="2.9"/><path d="M198.9 112.1Q199 115.9 199.7 119.6" stroke-width="2.8"/><path d="M203.4 156.6Q204.9 159.4 207.2 161.5" stroke-width="2.3"/><path d="M202.5 158.7Q205.1 159.3 205.8 161.9" stroke-width="2.7"/><path d="M256.6 144Q255.2 146.8 252.1 147.1" stroke-width="2.4"/><path d="M242.6 159.1Q239.6 161.1 238.8 164.7" stroke-width="2.5"/><path d="M277 146.8Q276.8 149.5 278.7 151.6" stroke-width="2.4"/><path d="M183.3 153.4Q182.4 156.4 182.9 159.5" stroke-width="3.1"/><path d="M176.1 124.8Q176.6 126.4 177 128" stroke-width="3"/><path d="M212.5 138.6Q210 138.8 208.4 140.7" stroke-width="3"/><path d="M178.8 141.4Q176.7 145.2 178.8 148.9" stroke-width="3.1"/><path d="M256.2 152.3Q253.7 155.3 249.8 154.9" stroke-width="2.8"/><path d="M245.9 141.3Q248.1 142.2 250.4 142.3" stroke-width="3"/><path d="M192 118.7Q193.9 119.8 196.1 119.9" stroke-width="3.2"/><path d="M159 141.3Q161.1 142 161.5 144.2" stroke-width="2.5"/><path d="M230.8 152Q229.9 153.6 228.1 153.7" stroke-width="2.3"/><path d="M203.1 138.1Q201.9 140.1 199.6 140.7" stroke-width="3"/><path d="M163.6 149.6Q163.8 151.2 163.6 152.8" stroke-width="2.1"/><path d="M237.9 145.1Q238.8 148.2 239.9 151.3" stroke-width="2.7"/><path d="M191.9 153.6Q186.5 153.9 184.5 158.8" stroke-width="2.4"/><path d="M216.3 142.2Q217.6 145.7 217.3 149.4" stroke-width="2.2"/><path d="M211.8 121.7Q210.3 123.2 209 124.8" stroke-width="2.5"/><path d="M183.2 145.4Q184.5 147.1 186 148.5" stroke-width="2.8"/><path d="M286.1 148.4Q281.6 148.2 277.7 150.5" stroke-width="2.9"/><path d="M169.1 118.3Q167.5 118.5 166.3 119.5" stroke-width="2.8"/><path d="M193.7 125.5Q191.7 126.8 192.1 129.2" stroke-width="2.4"/><path d="M167.8 116.4Q165 116.1 162.9 118" stroke-width="2.5"/><path d="M174.1 112.1Q172.7 113.4 171.1 114.6" stroke-width="3.2"/><path d="M276.7 150.6Q275 153.4 271.7 153.7" stroke-width="2.1"/><path d="M229 134.4Q231.5 134.9 232 137.5" stroke-width="3.1"/><path d="M248.1 156.3Q247.5 160.9 249.8 165" stroke-width="2.5"/><path d="M259.8 154.7Q261.7 154 263.6 154.8" stroke-width="2.7"/><path d="M261.1 151.2Q263.8 153.2 266.9 152" stroke-width="2.6"/><path d="M171.9 124.3Q168.7 125.6 165.6 126.7" stroke-width="2.8"/><path d="M184.1 117.1Q187.8 120.2 187.1 125" stroke-width="2.7"/><path d="M176.4 115.8Q175.1 118.4 174.9 121.3" stroke-width="2.8"/><path d="M221.1 127.1Q219.9 130.7 216.7 132.6" stroke-width="2.8"/><path d="M174.4 157.9Q177.8 157.4 180.8 159.2" stroke-width="3.2"/><path d="M191.8 127.4Q188.1 128.8 185.2 131.5" stroke-width="2.9"/><path d="M168.2 110Q166.3 114.9 161 115.2" stroke-width="2.1"/><path d="M191.1 157.9Q188.9 159.1 188.9 161.6" stroke-width="2.8"/><path d="M283.6 146.2Q282.5 148.1 280.2 148.5" stroke-width="2.6"/><path d="M177.1 150.6Q173.8 154.5 169.1 152.8" stroke-width="3"/><path d="M230.7 150.8Q229.2 153.5 228.5 156.4" stroke-width="3"/><path d="M167.6 107.9Q169.9 110.1 171.5 112.8" stroke-width="2"/><path d="M261.3 152Q263.7 153.6 266.6 154.1" stroke-width="2.2"/><path d="M247.6 154Q251.7 154.5 255.3 156.5" stroke-width="2.4"/><path d="M232.1 162.4Q236 160.2 239.7 162.6" stroke-width="2.1"/></g><ellipse cx="160.6" cy="110.3" rx="3.8" ry="2.4" fill="url(#ga)"/><ellipse cx="168.1" cy="110.4" rx="4.3" ry="2.8" fill="url(#ga)"/><ellipse cx="162.9" cy="116.1" rx="4.6" ry="2.8" fill="url(#ga)"/><ellipse cx="171.6" cy="114" rx="3.6" ry="2.6" fill="url(#ga)"/><ellipse cx="178.7" cy="115.4" rx="3.3" ry="2.5" fill="url(#ga)"/><ellipse cx="187.8" cy="115.4" rx="3.7" ry="2.9" fill="url(#ga)"/><ellipse cx="165.7" cy="119.1" rx="3.3" ry="2.1" fill="url(#ga)"/><ellipse cx="175.4" cy="122" rx="3.5" ry="2.8" fill="url(#ga)"/><ellipse cx="181.8" cy="119.3" rx="3.7" ry="2.7" fill="url(#ga)"/><ellipse cx="200.7" cy="120.1" rx="3.1" ry="2.8" fill="url(#ga)"/><ellipse cx="205.4" cy="121.6" rx="4.2" ry="2.3" fill="url(#ga)"/><ellipse cx="212.2" cy="119.6" rx="3.3" ry="2.7" fill="url(#ga)"/><ellipse cx="170.4" cy="126.8" rx="3.7" ry="2.8" fill="url(#ga)"/><ellipse cx="178.1" cy="124.9" rx="3.7" ry="2.4" fill="url(#ga)"/><ellipse cx="187.7" cy="125.8" rx="3.1" ry="2.7" fill="url(#ga)"/><ellipse cx="202.4" cy="124.7" rx="4.3" ry="2.1" fill="url(#ga)"/><ellipse cx="208.8" cy="125.8" rx="3.4" ry="2.4" fill="url(#ga)"/><ellipse cx="216.6" cy="124.5" rx="3.8" ry="2.9" fill="url(#ga)"/><ellipse cx="226.3" cy="124.5" rx="4.3" ry="2.6" fill="url(#ga)"/><ellipse cx="166.3" cy="131.7" rx="3.2" ry="3" fill="url(#ga)"/><ellipse cx="190.9" cy="131.9" rx="3.4" ry="2.5" fill="url(#ga)"/><ellipse cx="199.3" cy="131.6" rx="4.4" ry="2.9" fill="url(#ga)"/><ellipse cx="207.7" cy="132.3" rx="4.6" ry="2.2" fill="url(#ga)"/><ellipse cx="213.2" cy="131.5" rx="3.1" ry="2.2" fill="url(#ga)"/><ellipse cx="220.2" cy="131" rx="3.3" ry="2.7" fill="url(#ga)"/><ellipse cx="230.4" cy="132.5" rx="4.2" ry="2" fill="url(#ga)"/><ellipse cx="163.3" cy="136" rx="3" ry="2.4" fill="url(#ga)"/><ellipse cx="179.8" cy="135.7" rx="4" ry="2.7" fill="url(#ga)"/><ellipse cx="202.8" cy="136.7" rx="3.1" ry="2.2" fill="url(#ga)"/><ellipse cx="209" cy="136.7" rx="3.7" ry="2.9" fill="url(#ga)"/><ellipse cx="219" cy="137.6" rx="3.5" ry="2.9" fill="url(#ga)"/><ellipse cx="225.7" cy="135.1" rx="3.2" ry="2" fill="url(#ga)"/><ellipse cx="233" cy="135.8" rx="4.6" ry="2.4" fill="url(#ga)"/><ellipse cx="161.5" cy="142" rx="4.2" ry="2.3" fill="url(#ga)"/><ellipse cx="166.4" cy="141.3" rx="4.2" ry="2.1" fill="url(#ga)"/><ellipse cx="176.5" cy="142.1" rx="4.2" ry="2.8" fill="url(#ga)"/><ellipse cx="181" cy="141.7" rx="4.3" ry="2.6" fill="url(#ga)"/><ellipse cx="189.6" cy="143.2" rx="3.4" ry="2.4" fill="url(#ga)"/><ellipse cx="200.8" cy="140.8" rx="4.7" ry="2.9" fill="url(#ga)"/><ellipse cx="205.4" cy="142.5" rx="4.2" ry="2.8" fill="url(#ga)"/><ellipse cx="212.8" cy="140.9" rx="3.5" ry="2" fill="url(#ga)"/><ellipse cx="220.6" cy="141.5" rx="3.1" ry="2.6" fill="url(#ga)"/><ellipse cx="231.9" cy="142" rx="4.3" ry="2.4" fill="url(#ga)"/><ellipse cx="252.8" cy="143.2" rx="4.5" ry="2.6" fill="url(#ga)"/><ellipse cx="261.8" cy="142.4" rx="3.4" ry="2.8" fill="url(#ga)"/><ellipse cx="278.2" cy="142.1" rx="4.6" ry="2.6" fill="url(#ga)"/><ellipse cx="283.3" cy="140.3" rx="4.3" ry="2.3" fill="url(#ga)"/><ellipse cx="170.3" cy="146.3" rx="4.8" ry="2" fill="url(#ga)"/><ellipse cx="177.6" cy="148.4" rx="3.3" ry="2.3" fill="url(#ga)"/><ellipse cx="187.2" cy="146.5" rx="3.9" ry="2.3" fill="url(#ga)"/><ellipse cx="192.9" cy="145.8" rx="3.2" ry="2.6" fill="url(#ga)"/><ellipse cx="203.6" cy="146.3" rx="4.3" ry="2.3" fill="url(#ga)"/><ellipse cx="210.5" cy="146.1" rx="4" ry="2.1" fill="url(#ga)"/><ellipse cx="216.8" cy="147.6" rx="4.3" ry="2.2" fill="url(#ga)"/><ellipse cx="234.3" cy="146.1" rx="4.4" ry="2.8" fill="url(#ga)"/><ellipse cx="240.5" cy="145.8" rx="4" ry="2.1" fill="url(#ga)"/><ellipse cx="257.9" cy="146.3" rx="3.8" ry="2.5" fill="url(#ga)"/><ellipse cx="266.1" cy="145.6" rx="3.4" ry="2.3" fill="url(#ga)"/><ellipse cx="273.5" cy="147.6" rx="4.6" ry="2.2" fill="url(#ga)"/><ellipse cx="279.9" cy="147.6" rx="3.3" ry="2.2" fill="url(#ga)"/><ellipse cx="160.8" cy="153.8" rx="3.6" ry="2.3" fill="url(#ga)"/><ellipse cx="168.6" cy="151" rx="3.2" ry="2" fill="url(#ga)"/><ellipse cx="175.5" cy="151.3" rx="4.6" ry="2.5" fill="url(#ga)"/><ellipse cx="181.9" cy="151.2" rx="3.9" ry="2.4" fill="url(#ga)"/><ellipse cx="192" cy="152.4" rx="3.2" ry="2.1" fill="url(#ga)"/><ellipse cx="198.3" cy="152.3" rx="4.2" ry="2.2" fill="url(#ga)"/><ellipse cx="205.8" cy="152.3" rx="4.4" ry="2.4" fill="url(#ga)"/><ellipse cx="214.2" cy="153.7" rx="4.1" ry="2.1" fill="url(#ga)"/><ellipse cx="222" cy="152.8" rx="3.1" ry="3" fill="url(#ga)"/><ellipse cx="231.8" cy="151.2" rx="4.1" ry="2.3" fill="url(#ga)"/><ellipse cx="235.9" cy="153.1" rx="3.8" ry="2.1" fill="url(#ga)"/><ellipse cx="245.1" cy="151.1" rx="3.1" ry="2.3" fill="url(#ga)"/><ellipse cx="259.3" cy="151.3" rx="4.5" ry="2.2" fill="url(#ga)"/><ellipse cx="267.6" cy="153.2" rx="3.6" ry="2.1" fill="url(#ga)"/><ellipse cx="283.5" cy="153.1" rx="4.6" ry="2.5" fill="url(#ga)"/><ellipse cx="162.8" cy="157.5" rx="4.3" ry="2.1" fill="url(#ga)"/><ellipse cx="180.7" cy="157.2" rx="3.5" ry="2.5" fill="url(#ga)"/><ellipse cx="189.3" cy="156.6" rx="3.6" ry="2.2" fill="url(#ga)"/><ellipse cx="196" cy="157.2" rx="3.8" ry="2.8" fill="url(#ga)"/><ellipse cx="211.7" cy="158" rx="4.7" ry="2.3" fill="url(#ga)"/><ellipse cx="219.8" cy="158.6" rx="3.7" ry="2.4" fill="url(#ga)"/><ellipse cx="232.7" cy="158.9" rx="4.1" ry="2.9" fill="url(#ga)"/><ellipse cx="242.8" cy="156.9" rx="4.4" ry="3" fill="url(#ga)"/><ellipse cx="250.5" cy="158.4" rx="3.5" ry="2.7" fill="url(#ga)"/><ellipse cx="265.3" cy="157.1" rx="3.6" ry="2.8" fill="url(#ga)"/><ellipse cx="282.6" cy="158.4" rx="4.2" ry="2" fill="url(#ga)"/><ellipse cx="177" cy="162.1" rx="3.4" ry="2.1" fill="url(#ga)"/><ellipse cx="182.4" cy="161.5" rx="3.4" ry="2.1" fill="url(#ga)"/><ellipse cx="189.1" cy="163.7" rx="3.8" ry="2.4" fill="url(#ga)"/><ellipse cx="205.8" cy="163.4" rx="3.8" ry="2.9" fill="url(#ga)"/><ellipse cx="215.4" cy="162.4" rx="4" ry="2.1" fill="url(#ga)"/><ellipse cx="230.1" cy="162.9" rx="4.6" ry="2.7" fill="url(#ga)"/><ellipse cx="236.5" cy="162.5" rx="4.7" ry="2.7" fill="url(#ga)"/><ellipse cx="251.4" cy="163.2" rx="4.3" ry="2.4" fill="url(#ga)"/><ellipse cx="259.4" cy="163" rx="4.4" ry="2.4" fill="url(#ga)"/><ellipse cx="278.1" cy="162.1" rx="4.8" ry="2.4" fill="url(#ga)"/><ellipse cx="284.1" cy="163.6" rx="3.4" ry="2.3" fill="url(#ga)"/>
<g fill="none" stroke="#180a00" stroke-linecap="round" stroke-opacity="0.60"><path d="M161.4 125.6Q160.8 126.8 159.7 127.4" stroke-width="1.4"/><path d="M235.7 157.6Q235.3 158.2 235.3 159" stroke-width="1.8"/><path d="M249.8 147Q248.9 147 248.5 147.8" stroke-width="1.2"/><path d="M171.3 110.1Q171.2 111.6 169.9 112.3" stroke-width="1.6"/><path d="M240.6 163Q240.2 163.8 239.3 164.1" stroke-width="1.4"/><path d="M179.4 129.5Q180.5 130.1 180.7 131.3" stroke-width="1.4"/><path d="M170.5 117.4Q170.8 118.2 170.5 119" stroke-width="1.6"/><path d="M216 162Q215 162.2 214 162.3" stroke-width="1.4"/><path d="M247.4 161Q247.9 161.8 248.2 162.6" stroke-width="1.5"/><path d="M177.8 156Q178.9 156.6 180 156.1" stroke-width="1.8"/><path d="M203.9 141.5Q204.4 142.8 204.7 144.2" stroke-width="1.4"/><path d="M230.6 144.5Q229.5 145.3 228.1 144.9" stroke-width="1.5"/><path d="M267.2 151Q266.9 152 266.1 152.8" stroke-width="2"/><path d="M228.1 129.8Q228.6 130.4 229.4 130.2" stroke-width="1.8"/><path d="M163.1 124.5Q163.3 125.5 163.2 126.5" stroke-width="1.9"/><path d="M204.3 136Q203.7 137.3 203.1 138.6" stroke-width="1.5"/><path d="M207.5 140.7Q208.6 141.5 209.3 142.6" stroke-width="1.5"/><path d="M204.7 158Q205.5 158.6 206 159.6" stroke-width="1.9"/><path d="M179.5 145.9Q180.1 145.9 180.3 146.5" stroke-width="1.8"/><path d="M177.9 119.7Q178.1 120.3 178.6 120.6" stroke-width="1.8"/><path d="M275.1 160.5Q274.2 161.3 273 161" stroke-width="1.9"/><path d="M252.8 155.5Q253.5 156.2 254.5 156" stroke-width="1.8"/><path d="M234.2 162.3Q234.8 162.1 235.3 162.5" stroke-width="1.2"/><path d="M248.2 142.5Q248.8 142.6 249.2 143.1" stroke-width="1.7"/><path d="M245.1 161.9Q244.2 162.1 243.3 162" stroke-width="1.5"/><path d="M193.1 120.4Q191.6 120 190.1 120.4" stroke-width="1.3"/><path d="M183 115.3Q182.8 116.2 181.8 116.5" stroke-width="1.6"/><path d="M214.8 150.8Q214.4 152 215.1 153" stroke-width="1.7"/><path d="M203.4 129Q201.7 128.9 200.8 130.2" stroke-width="1.6"/><path d="M178.2 116.4Q178.2 117.5 177.2 117.9" stroke-width="1.8"/><path d="M161 151.5Q160.4 152.3 160 153.1" stroke-width="1.8"/><path d="M212.5 161.1Q211.1 161.2 209.7 161.8" stroke-width="1.5"/><path d="M208.2 121.6Q206.7 122 205.9 123.3" stroke-width="1.9"/><path d="M284.7 145.5Q284.3 146.3 283.6 146.7" stroke-width="1.7"/><path d="M179 154.9Q179.2 156.1 180.3 156.4" stroke-width="1.3"/><path d="M277 149.5Q276.5 149.9 276.1 150.4" stroke-width="1.9"/><path d="M232 131Q233.3 131.9 234.8 131.8" stroke-width="1.3"/><path d="M194.3 112.4Q194.1 113.8 194.8 115.1" stroke-width="1.4"/><path d="M251.4 143.3Q251.3 143.9 251.5 144.5" stroke-width="1.4"/><path d="M207.7 159.2Q206.3 159.3 204.9 159.2" stroke-width="1.7"/><path d="M262.1 149.7Q261.3 150.2 260.4 150.5" stroke-width="2"/><path d="M191 152.7Q191.4 153.2 191.1 153.8" stroke-width="1.9"/><path d="M218.9 132.8Q218.3 133.9 217.3 134.7" stroke-width="1.9"/><path d="M181.8 114.5Q183.3 114.5 184.3 115.5" stroke-width="1.6"/><path d="M201.9 115.1Q201.4 116.6 202.1 118" stroke-width="1.4"/><path d="M274.7 140.9Q273.4 141.7 272.5 142.8" stroke-width="1.6"/><path d="M172.8 157.7Q171.8 158.6 171.4 159.9" stroke-width="1.4"/><path d="M219.4 153.4Q218.1 154.4 216.5 154.1" stroke-width="1.7"/><path d="M228.7 129.9Q229.4 130.1 229.9 130.4" stroke-width="1.6"/><path d="M194.2 127.3Q193.3 127.9 192.6 128.8" stroke-width="1.3"/><path d="M280.4 162Q279.8 162.6 280.1 163.3" stroke-width="1.5"/><path d="M228.1 124.7Q228.7 124.8 228.9 125.3" stroke-width="1.4"/></g>
</g></g>
<g filter="url(#dpa)"><ellipse cx="167.3" cy="109.9" rx="3.1" ry="2.7" fill="url(#ga)"/><ellipse cx="174.3" cy="111.9" rx="3.1" ry="2.3" fill="url(#ga)"/><ellipse cx="181.1" cy="114.3" rx="2.7" ry="1.8" fill="url(#ga)"/><ellipse cx="184.2" cy="113" rx="3.8" ry="2.4" fill="url(#ga)"/><ellipse cx="201.8" cy="117.3" rx="3.6" ry="1.8" fill="url(#ga)"/><ellipse cx="217.7" cy="120.9" rx="2.6" ry="2.2" fill="url(#ga)"/><ellipse cx="224" cy="122.2" rx="2.9" ry="2" fill="url(#ga)"/><ellipse cx="228.5" cy="124.6" rx="3.8" ry="2.3" fill="url(#ga)"/><ellipse cx="234.7" cy="135.8" rx="2.7" ry="2.5" fill="url(#ga)"/><ellipse cx="236" cy="136.3" rx="2.8" ry="2.1" fill="url(#ga)"/><ellipse cx="246.2" cy="142.6" rx="3.5" ry="2.4" fill="url(#ga)"/><ellipse cx="254" cy="143.4" rx="3" ry="1.9" fill="url(#ga)"/><ellipse cx="281" cy="141.2" rx="3.4" ry="2.3" fill="url(#ga)"/></g>
</g>
<g clip-path="url(#pka2)"><rect x="286" y="40.7" width="121.5" height="121" filter="url(#fa2)"/></g>
<g clip-path="url(#cpa2)"><g mask="url(#mka2)">
<rect x="286" y="40.7" width="121.5" height="121" filter="url(#pa2)"/>
<g filter="url(#bl2)">
<g fill="none" stroke="#1e0e00" stroke-linecap="round" stroke-opacity="0.80"><path d="M335.3 138.7Q335.8 138.8 336.3 138.9" stroke-width="2"/><path d="M295 134.2Q295.3 135.4 296.2 136.2" stroke-width="2"/><path d="M368.1 153.4Q367.5 154.7 368.1 156" stroke-width="2.4"/><path d="M294.6 126.7Q294.4 127.3 294 127.9" stroke-width="2.1"/><path d="M347.5 159.8Q348.4 160.1 349.1 160.7" stroke-width="2.1"/><path d="M397.1 147.1Q398.5 147.2 399.3 148.3" stroke-width="1.9"/><path d="M390.7 143.8Q390.7 144.6 390.1 145.2" stroke-width="2.3"/><path d="M376 147.6Q377.1 148.5 378.4 149" stroke-width="2.2"/><path d="M311.1 130.7Q311.9 131.1 312.8 131.1" stroke-width="2.8"/><path d="M324.8 122.6Q326.1 123.6 327.3 124.8" stroke-width="2.5"/><path d="M295 138.2Q293.1 139.7 290.7 139.4" stroke-width="2.3"/><path d="M400 153Q401.2 153.6 402.4 154.2" stroke-width="1.9"/><path d="M371.6 147.1Q370.1 147.9 368.5 147.3" stroke-width="2.5"/><path d="M357.8 147.7Q357.3 148.7 356.5 149.5" stroke-width="2.5"/><path d="M317.5 162.5Q318.8 162 320 162.5" stroke-width="2.5"/><path d="M393.2 143.6Q392.5 143.7 391.8 144.2" stroke-width="1.9"/><path d="M331.3 145.7Q331.8 145.7 332.3 145.9" stroke-width="2.7"/><path d="M398.6 150.1Q397.2 151.8 397.5 154" stroke-width="2.4"/><path d="M308 136.3Q308.8 137.4 309.3 138.6" stroke-width="2.3"/><path d="M318.5 135.3Q318.6 136.7 319.2 137.9" stroke-width="2"/><path d="M380.7 145.7Q381.1 147.6 380.5 149.4" stroke-width="2.7"/><path d="M347.8 128.7Q347.9 129.7 348.4 130.6" stroke-width="2.6"/><path d="M344.4 148.2Q344.7 149 344.7 149.9" stroke-width="2.1"/><path d="M327.7 149.3Q329.4 150 330.5 151.4" stroke-width="2.6"/><path d="M367.1 144.7Q366.5 146.3 365.2 147.4" stroke-width="1.9"/><path d="M366.7 160.6Q368.3 161.6 369.5 163.1" stroke-width="1.9"/><path d="M383.3 148.1Q384.1 149.2 384.4 150.6" stroke-width="2.3"/><path d="M375.2 157.2Q373.4 158.1 371.5 158.8" stroke-width="2.2"/><path d="M322.7 161.9Q323.5 162.1 324.1 162.7" stroke-width="2.7"/><path d="M389.9 157Q390.7 158 391.9 158.5" stroke-width="2.2"/><path d="M298.6 157.2Q298.9 158.4 299.4 159.6" stroke-width="2.1"/><path d="M285.4 130.4Q286.5 130.3 287.7 130.5" stroke-width="2.6"/><path d="M324.5 145.3Q326.2 145.6 327.1 147.1" stroke-width="2.5"/><path d="M307.6 154.4Q309 155.9 310.7 157.2" stroke-width="2.4"/><path d="M324.9 142.8Q325.4 144.3 324.8 145.9" stroke-width="2"/><path d="M324.2 131.6Q323.2 132.3 322 132.2" stroke-width="2.8"/><path d="M314.4 155Q314.3 155.9 313.9 156.8" stroke-width="1.8"/><path d="M384.7 152.7Q384 153.4 383.2 154" stroke-width="2.8"/><path d="M291.2 129.1Q290.6 129.8 290.5 130.8" stroke-width="2.6"/><path d="M351 129.7Q353 129.9 354.6 130.9" stroke-width="2.6"/><path d="M339.2 162.7Q339.5 163.3 339.4 164" stroke-width="1.8"/><path d="M295.5 113Q295.7 114.2 296 115.3" stroke-width="2.1"/><path d="M349.1 135.6Q348.2 136.4 347 136.6" stroke-width="2.7"/><path d="M329.2 125.9Q329.2 127.6 328.6 129" stroke-width="1.9"/><path d="M297.6 143.8Q298.6 144.9 299.1 146.2" stroke-width="2.6"/><path d="M325.6 130Q326.7 131.9 327.4 133.9" stroke-width="2"/><path d="M366.8 144.2Q367.5 145.3 367.5 146.7" stroke-width="2.6"/><path d="M342.2 153.7Q341.8 154.9 340.6 155.4" stroke-width="2"/><path d="M404.5 144.7Q404.6 146.4 404.6 148.1" stroke-width="2"/><path d="M304.5 143.1Q305.5 144.5 306.9 145.6" stroke-width="1.9"/><path d="M346.6 125.7Q348 126.3 349.3 126.9" stroke-width="2.4"/><path d="M301.2 124.4Q300.7 126 300.7 127.7" stroke-width="2.6"/><path d="M340.6 153.4Q339.7 154.6 338.5 155.5" stroke-width="2.2"/><path d="M404.2 153.5Q405.6 154.2 407.3 154.5" stroke-width="1.8"/><path d="M400 160.9Q400.7 162.6 402.4 163.5" stroke-width="2"/><path d="M287.1 157.1Q285.9 157.5 284.9 158.4" stroke-width="2.3"/><path d="M286.7 127.4Q287.3 127.6 287.9 127.7" stroke-width="1.9"/><path d="M305 124.9Q303.9 124.8 303.1 125.4" stroke-width="2.7"/><path d="M398.9 152.2Q400.8 152.8 401.6 154.6" stroke-width="2.7"/><path d="M351.5 141.7Q353.1 142.9 355.1 143.4" stroke-width="2.3"/><path d="M309.4 160.6Q308.5 161.1 308 162" stroke-width="2"/><path d="M311.2 119.1Q312.1 121 313 123" stroke-width="2.3"/><path d="M289 149.6Q287.4 150.5 285.7 151" stroke-width="2"/><path d="M327.1 147.5Q327.6 149.1 328.1 150.7" stroke-width="2"/><path d="M348.1 151.4Q347.7 152.2 347.1 152.7" stroke-width="2.6"/><path d="M295.8 122.6Q296 124.2 295.9 125.8" stroke-width="2.4"/><path d="M311.7 132.7Q311.4 133.1 310.9 133.3" stroke-width="2.6"/><path d="M351.8 141.4Q353.1 142.4 354.8 142.6" stroke-width="2.1"/><path d="M393.7 151.1Q392.3 152.1 390.9 153" stroke-width="2.5"/><path d="M295.4 131Q296.8 131.3 297.9 132.3" stroke-width="2.7"/><path d="M306.9 139.8Q306.9 140.7 307 141.5" stroke-width="2.2"/><path d="M347.7 154.7Q347.2 155 346.7 154.9" stroke-width="1.8"/><path d="M355.8 143.4Q356.4 144.5 356 145.7" stroke-width="2.4"/><path d="M353.7 148.8Q353 148.9 352.5 149.5" stroke-width="1.9"/><path d="M322.6 133.6Q321.5 134.2 320.8 135.1" stroke-width="1.9"/><path d="M369.7 150.4Q372.1 150.9 373.3 153.1" stroke-width="2.6"/><path d="M335 159Q336.1 159.7 336.3 160.9" stroke-width="2.7"/><path d="M349.2 132.4Q348 132.9 347.3 134.1" stroke-width="2.3"/><path d="M305.8 129.4Q306 131.4 306.9 133.3" stroke-width="2.4"/><path d="M342.1 139.6Q341.6 140.5 341.7 141.4" stroke-width="1.9"/><path d="M328.1 157.1Q330.3 157.5 332.5 157.3" stroke-width="2.4"/><path d="M301.6 124.2Q300.8 125.9 299.3 126.9" stroke-width="2.4"/><path d="M366.3 144.5Q366.5 145 366.5 145.6" stroke-width="2.4"/><path d="M353 152.7Q352.7 153.4 352 153.8" stroke-width="2.7"/><path d="M286.2 148Q287.2 148.6 288.1 149.3" stroke-width="2.3"/><path d="M348.8 123.5Q349.7 125.5 350.4 127.6" stroke-width="2"/><path d="M366 153.7Q365.3 154.8 364.3 155.4" stroke-width="1.9"/><path d="M287.7 132.5Q289.4 133.6 290.9 134.9" stroke-width="2.6"/><path d="M318.3 116.1Q318.1 117.7 319 118.9" stroke-width="2.7"/><path d="M312.7 139.6Q313.9 139.7 315.1 139.9" stroke-width="2.7"/><path d="M320.3 140.8Q321.9 141.9 323.7 141.5" stroke-width="1.9"/><path d="M321.6 147.7Q322 148.1 322 148.7" stroke-width="2.3"/><path d="M285.1 117.2Q286.1 117.1 286.8 117.7" stroke-width="2"/><path d="M313.7 122Q315.5 122.8 317.6 122.6" stroke-width="1.9"/><path d="M358.3 156.1Q359 156.4 359.7 156.4" stroke-width="2.4"/><path d="M338 123.3Q339.1 124.3 339.8 125.8" stroke-width="2.4"/><path d="M293.7 152Q295.1 152.5 295.8 153.8" stroke-width="2.3"/><path d="M346.9 147.3Q346.8 148.5 347.6 149.5" stroke-width="2.1"/><path d="M409.3 157.4Q407.2 158.4 404.9 158.2" stroke-width="2.6"/><path d="M409.5 142.6Q410 144.6 408.8 146.4" stroke-width="2.7"/><path d="M304.7 122.4Q306.1 123.3 307.3 124.2" stroke-width="2.5"/><path d="M296 144.5Q295.9 145.2 296.1 145.9" stroke-width="2.5"/><path d="M288.7 117.6Q289.6 119.6 290.1 121.7" stroke-width="2.2"/><path d="M370.9 148Q371.3 149.6 371.9 151.1" stroke-width="2.3"/><path d="M309.3 159.5Q306.9 160.1 305.9 162.4" stroke-width="2.3"/><path d="M379.1 147.1Q376.8 147.5 375.4 149.2" stroke-width="2.1"/><path d="M324.9 128.4Q322.9 128.7 321.5 130.2" stroke-width="2.5"/><path d="M304.2 116.8Q305.5 117.5 306.5 118.6" stroke-width="1.9"/><path d="M304.2 147.9Q303.5 148.4 302.6 148.7" stroke-width="2.6"/><path d="M320.8 123.7Q322 123.7 323.2 123.8" stroke-width="2.2"/><path d="M284.4 156.2Q285.6 156.7 286.7 156.2" stroke-width="2"/><path d="M296.5 146.4Q296.9 147.9 296.5 149.4" stroke-width="2.1"/><path d="M408.8 157.2Q408.3 157.8 407.5 157.9" stroke-width="2.5"/><path d="M386.8 146.3Q385.9 147.5 384.4 147.9" stroke-width="2.3"/><path d="M317.9 130.3Q317.3 130.9 316.9 131.6" stroke-width="2.6"/></g>
</g></g>
</g>
<g clip-path="url(#pka3)"><rect x="410.5" y="40.7" width="121.5" height="121" filter="url(#fa3)"/></g>
<g clip-path="url(#cpa3)"><g mask="url(#mka3)">
<rect x="410.5" y="40.7" width="121.5" height="121" filter="url(#pa3)"/>
<g filter="url(#bl2)">
<g fill="none" stroke="#1e0e00" stroke-linecap="round" stroke-opacity="0.80"><path d="M489.1 140.7Q487.3 141.7 485.6 143" stroke-width="2.1"/><path d="M423 127Q421.3 127.1 419.6 127.7" stroke-width="2.5"/><path d="M526 150.3Q525.8 151.6 526.3 152.9" stroke-width="2.1"/><path d="M420.9 141.6Q422 143.2 423.6 144.3" stroke-width="2.7"/><path d="M423.8 115.4Q424 116.9 425.2 117.8" stroke-width="2.8"/><path d="M463.1 151.6Q464 153.1 465.8 153.3" stroke-width="2"/><path d="M418 133.3Q418.1 133.9 418.1 134.4" stroke-width="2.8"/><path d="M460.9 153.7Q460.9 155.6 459.9 157.3" stroke-width="2.1"/><path d="M470.2 129.1Q470.5 130.7 470.2 132.4" stroke-width="2.4"/><path d="M421.3 111.6Q420.1 112 419.2 112.8" stroke-width="2.8"/><path d="M455.1 123.1Q456.6 123.5 458.2 123.8" stroke-width="2.2"/><path d="M470.7 130.7Q470.1 131.1 469.8 131.7" stroke-width="2.4"/><path d="M425.1 141.8Q423 141.3 421 141.9" stroke-width="1.8"/><path d="M519.7 145.2Q518.7 145.1 517.8 145.7" stroke-width="2.7"/><path d="M438.9 139.7Q439.3 140.8 440.3 141.6" stroke-width="2.4"/><path d="M450.6 136.7Q449.3 138.6 449.7 140.9" stroke-width="2.4"/><path d="M468 139.1Q466.2 139.1 464.5 139.5" stroke-width="2.3"/><path d="M496.7 160.4Q496.8 160.9 497.3 161.3" stroke-width="1.9"/><path d="M489.5 152Q490.1 152.7 490.2 153.7" stroke-width="2.5"/><path d="M475.2 141.2Q474.4 142.1 474.6 143.2" stroke-width="2.6"/><path d="M474.2 129.6Q473.5 130.5 472.4 130.9" stroke-width="2.4"/><path d="M505.3 159.8Q505.6 160.2 506 160.6" stroke-width="2.7"/><path d="M429.2 153.8Q428.5 154.9 428.8 156.2" stroke-width="1.9"/><path d="M425.7 124.1Q425.9 125.9 424.9 127.4" stroke-width="2.6"/><path d="M512.3 153.8Q511.4 153.7 510.6 154.1" stroke-width="2"/><path d="M406.8 155.9Q408.5 157 410.5 157.1" stroke-width="2.6"/><path d="M486.9 152.7Q487.4 155 489.2 156.5" stroke-width="2.7"/><path d="M449.4 145.7Q447.8 146.3 446.3 147.2" stroke-width="2.1"/><path d="M440.7 138.5Q440 138.5 439.4 139.1" stroke-width="2"/><path d="M496.6 145.4Q495.9 145.7 495.5 146.3" stroke-width="2.1"/><path d="M420.6 122.7Q420.2 124.6 421 126.4" stroke-width="2"/><path d="M420.1 127.2Q422.3 127.5 423.6 129.2" stroke-width="2.6"/><path d="M419.5 145.1Q419.9 145.7 420.4 146" stroke-width="2.7"/><path d="M459.6 133.2Q460 133.6 460.1 134.2" stroke-width="2.6"/><path d="M499 150.8Q498.6 152.3 497.3 153.1" stroke-width="2.2"/><path d="M443.9 123.5Q445.5 124.3 446.7 125.7" stroke-width="2.1"/><path d="M516.4 142.8Q516.4 144.2 517.4 145.2" stroke-width="2.7"/><path d="M463.5 138.6Q465.3 139.8 466.3 141.5" stroke-width="1.9"/><path d="M471.3 150.3Q471.1 151.2 471.7 151.8" stroke-width="2.3"/><path d="M455.7 153Q457.2 154.7 457.3 156.9" stroke-width="2.4"/><path d="M500.5 158.2Q501.4 159.5 502.4 160.9" stroke-width="2.1"/><path d="M466.5 134.1Q464.2 133.9 462.5 135.3" stroke-width="2.3"/><path d="M523.6 142.1Q523.1 144.4 524.6 146" stroke-width="1.8"/><path d="M515.9 153.3Q515.1 154.1 513.9 154.5" stroke-width="2.6"/><path d="M468 131.1Q467.2 131.4 466.6 132.1" stroke-width="1.9"/><path d="M457 131.3Q455.4 131.2 454.2 132.3" stroke-width="2.4"/><path d="M416.9 136Q416.4 137.6 417.4 139" stroke-width="2.2"/><path d="M453.3 131.8Q452.5 131.9 451.8 132.1" stroke-width="2.3"/><path d="M461.9 121.8Q462 122.8 462 123.9" stroke-width="2.8"/><path d="M416.1 117.2Q415 117.5 414.4 118.6" stroke-width="2"/><path d="M475.4 138.1Q475.9 138.3 476.5 138.4" stroke-width="2.5"/><path d="M455.1 157.7Q456.9 158.8 457.4 160.9" stroke-width="2.4"/><path d="M414.4 135.3Q414 135.7 413.6 136.2" stroke-width="2.1"/><path d="M431.6 117.2Q431.4 119.1 432.1 121" stroke-width="2.1"/><path d="M531.3 144.5Q531.2 146.1 530.1 147.1" stroke-width="2.1"/><path d="M437.4 154.6Q437.3 155.2 437.5 155.7" stroke-width="2.6"/><path d="M438.3 146.8Q437.8 147.7 437 148.4" stroke-width="2.6"/><path d="M479.6 151.6Q479.4 154 481.2 155.7" stroke-width="1.8"/><path d="M475.9 128.8Q477.4 130.1 477.9 131.9" stroke-width="2.6"/><path d="M476.2 150.2Q477.5 150.7 478.9 150.5" stroke-width="2"/><path d="M441.8 143.8Q441.1 145.5 440.2 147.1" stroke-width="2.5"/><path d="M474.2 140.8Q475.9 141.5 477.1 142.8" stroke-width="2.1"/><path d="M421 126.5Q421.1 128.3 420.1 129.9" stroke-width="2.5"/><path d="M422.4 149.9Q423.2 150 423.9 150.4" stroke-width="2.3"/><path d="M441 155.7Q442 157.7 443.7 159" stroke-width="2.5"/><path d="M527.4 160.9Q527.8 161.3 527.9 161.8" stroke-width="2"/><path d="M463 157.9Q462.5 158.2 462 158.4" stroke-width="1.8"/><path d="M434.1 115.1Q435.3 115.2 436.2 116" stroke-width="2.1"/><path d="M481.2 132.5Q480.8 133.5 481 134.5" stroke-width="2.5"/><path d="M452 157.4Q451.7 159.2 451.2 161.1" stroke-width="2.1"/><path d="M423.8 157Q425.1 158.1 426.8 157.9" stroke-width="2.7"/><path d="M412.8 146.5Q412.4 147.3 412.6 148.3" stroke-width="2.2"/><path d="M471.4 144.7Q471.1 145.5 470.7 146.2" stroke-width="2.8"/><path d="M431.7 147.5Q432.2 147.8 432.4 148.4" stroke-width="1.9"/><path d="M486.1 155.7Q486.6 156.3 487.2 156.6" stroke-width="2.3"/><path d="M459.5 161.3Q458.4 161 457.4 161.5" stroke-width="2"/><path d="M477.6 160.2Q476.9 160.3 476.4 160.8" stroke-width="2.5"/><path d="M507.4 147.7Q506.9 148.7 506.3 149.5" stroke-width="2.6"/><path d="M414.9 159.4Q414 160.1 413 160.8" stroke-width="2.6"/><path d="M446.3 138.4Q446.5 138.9 446.3 139.5" stroke-width="2.7"/><path d="M528.7 160.2Q530.7 161.2 532.9 161.4" stroke-width="2.5"/><path d="M482.2 153.5Q483.1 154 484.2 153.7" stroke-width="2.1"/><path d="M415.2 115Q414.1 117.1 412.1 118.3" stroke-width="1.9"/><path d="M519.8 144.8Q521.2 145.3 522.6 146" stroke-width="2.7"/><path d="M409.5 132Q408.9 132.3 408.3 132" stroke-width="2.8"/><path d="M514.4 148.6Q514.1 149.1 513.7 149.5" stroke-width="2.3"/><path d="M425 136.4Q426.4 137.8 428.5 137.9" stroke-width="2.2"/><path d="M442.5 121.1Q441.8 122.2 441.3 123.4" stroke-width="2.7"/><path d="M470.9 135.7Q473.4 136.3 474.4 138.5" stroke-width="2.1"/><path d="M520.1 146Q519 147.5 517.5 148.4" stroke-width="2.5"/><path d="M435.5 138.4Q434.7 139.8 433.2 140.4" stroke-width="2.1"/><path d="M509.9 152.2Q512.2 152.5 514 153.9" stroke-width="1.9"/><path d="M500.6 148.8Q499.3 149.8 498.1 150.9" stroke-width="2.4"/><path d="M524.5 142.9Q524.1 144.5 523.6 146.1" stroke-width="2.6"/><path d="M462.2 130.9Q462.1 132.2 461.7 133.4" stroke-width="2.2"/><path d="M460 128.8Q462.4 128.4 464.2 130.1" stroke-width="2.5"/><path d="M457.5 132.3Q458.5 133.5 458.7 135.1" stroke-width="1.8"/><path d="M518.1 159.4Q518.3 160.4 518.3 161.4" stroke-width="1.9"/><path d="M519.9 154.1Q520.4 154.9 521.2 155.4" stroke-width="2.6"/><path d="M468.2 129.8Q467.2 130.1 466.7 130.9" stroke-width="2.7"/><path d="M424.2 139.8Q422.9 141.6 421.5 143.3" stroke-width="1.9"/><path d="M416.6 148.7Q416 149 415.6 149.4" stroke-width="2.3"/><path d="M518.9 159.5Q520.3 160.2 521.9 160.5" stroke-width="2.2"/><path d="M438.2 159.1Q440 159.4 441.5 160.5" stroke-width="2.1"/><path d="M464.2 152.9Q463.8 153.6 463.1 154.2" stroke-width="2.7"/><path d="M459.2 141.7Q460.7 142.8 460.8 144.6" stroke-width="1.9"/><path d="M447 140.8Q447.4 142.9 446.8 145" stroke-width="2.4"/><path d="M442.6 151.3Q443.1 151.8 443.6 152.4" stroke-width="2.7"/><path d="M428.7 119.2Q429.3 119.6 429.8 120.1" stroke-width="2.2"/><path d="M469.9 130.3Q468.2 130.9 466.4 131.4" stroke-width="2.7"/><path d="M440.7 161.3Q440.1 162.6 439.2 163.7" stroke-width="2.1"/><path d="M426.1 156.5Q425.5 157.5 424.8 158.4" stroke-width="2.3"/><path d="M435 117.9Q434.4 118.8 433.9 119.8" stroke-width="1.8"/><path d="M417.9 122.9Q417.1 123.3 416.4 123.8" stroke-width="2.1"/><path d="M439.2 124.2Q439.4 125.2 440.2 125.9" stroke-width="2.6"/><path d="M494.6 156.9Q496.4 156.7 497.7 158" stroke-width="2"/><path d="M441.4 136.1Q441 138 440.4 139.9" stroke-width="2"/><path d="M530.6 150.1Q531.6 150.8 532.8 150.4" stroke-width="2.1"/><path d="M423.1 119.9Q421.1 119.8 419.2 120.2" stroke-width="2.5"/><path d="M444.6 124Q443.9 124.3 443.3 124.1" stroke-width="2.4"/></g>
</g></g>
</g>
<g clip-path="url(#pka4)"><rect x="534.8" y="40.7" width="121.5" height="121" filter="url(#fa4)"/></g>
<g clip-path="url(#cpa4)"><g mask="url(#mka4)">
<rect x="534.8" y="40.7" width="121.5" height="121" filter="url(#pa4)"/>
<g filter="url(#bl2)">
<g fill="none" stroke="#4a2800" stroke-linecap="round" stroke-opacity="0.60"><path d="M577.8 121.3Q576.8 121.9 575.6 121.8" stroke-width="1.8"/><path d="M610.7 145.3Q611.5 146.3 612.9 146.6" stroke-width="1.8"/><path d="M554.6 123.2Q554.6 124.4 554.7 125.7" stroke-width="2.4"/><path d="M537.8 154.5Q538.2 154.8 538.3 155.4" stroke-width="2.2"/><path d="M568.3 155.5Q569.6 156.3 571.2 156.5" stroke-width="2.4"/><path d="M548.6 120Q549.6 120.3 550.6 120.9" stroke-width="2.2"/><path d="M600.5 132.4Q602.2 132.5 603.7 133.3" stroke-width="2.5"/><path d="M641.5 158Q640.8 159.5 641.1 161.2" stroke-width="2.2"/><path d="M548.2 124.9Q547.6 125.2 547 125.4" stroke-width="2.1"/><path d="M623 152.5Q621.5 153.4 619.8 153.7" stroke-width="1.8"/><path d="M627.9 146.9Q628.7 147.6 628.9 148.7" stroke-width="2.4"/><path d="M590.1 153.1Q590.6 154 591.1 154.8" stroke-width="2.4"/><path d="M640.4 150.1Q641.2 151.1 641.5 152.5" stroke-width="2.5"/><path d="M541.5 121.8Q543.4 122.6 545.4 122.2" stroke-width="2.2"/><path d="M602.5 138.7Q602.8 139.9 602.1 140.9" stroke-width="2.5"/><path d="M546.4 117.7Q545.3 118.9 545.1 120.5" stroke-width="2.3"/><path d="M532.7 123.4Q534.1 124.2 535.6 124.9" stroke-width="2.4"/><path d="M553.7 137.9Q552.5 139.4 551.1 140.5" stroke-width="2.1"/><path d="M568.6 160.2Q567.9 161.8 566.8 163.1" stroke-width="2.4"/><path d="M594.9 152.9Q593.8 153.1 592.9 153.6" stroke-width="2.1"/><path d="M604.7 153.4Q603.5 154.2 602.1 153.8" stroke-width="2.5"/><path d="M574.5 147.3Q574.4 149.2 575.8 150.5" stroke-width="2.3"/><path d="M538.6 117.7Q538.6 118.3 538.4 118.9" stroke-width="1.9"/><path d="M646.6 154Q647.1 155.3 647.1 156.6" stroke-width="2.2"/><path d="M577.6 161Q575.8 162 575.1 163.9" stroke-width="1.8"/><path d="M548.2 129.1Q548 129.9 548.5 130.5" stroke-width="2.5"/><path d="M599.4 126Q598.9 127.4 598.8 129" stroke-width="2"/><path d="M624.9 146Q625.1 147.6 625.2 149.2" stroke-width="2"/><path d="M536.6 135.3Q537.5 136.5 539 136.8" stroke-width="2.5"/><path d="M638.9 153.5Q640.1 153.9 641 154.8" stroke-width="2.4"/><path d="M533.9 129.2Q534 130.3 533.3 131.2" stroke-width="2.5"/><path d="M574.7 158.2Q575.5 158.8 575.8 159.8" stroke-width="2.6"/><path d="M606.9 154.1Q606.6 154.6 606.7 155.3" stroke-width="2.6"/><path d="M580.9 163.5Q579.7 164 578.4 163.8" stroke-width="1.7"/><path d="M604.5 130.3Q603 130 601.8 130.9" stroke-width="2.5"/><path d="M564.9 153.9Q564.8 154.5 565.2 154.9" stroke-width="1.9"/><path d="M579.4 141.4Q578.8 142 578.4 142.7" stroke-width="1.8"/><path d="M552.4 114.8Q550.9 116 549.2 117.1" stroke-width="2.4"/><path d="M653.7 158.9Q654.5 159.9 655.4 160.9" stroke-width="2.6"/><path d="M623.9 144.9Q624.3 146.6 624.9 148.3" stroke-width="2.5"/><path d="M557.9 155.9Q557.8 156.4 557.7 156.9" stroke-width="1.8"/><path d="M555.7 131.9Q556.7 133.1 556.3 134.6" stroke-width="1.8"/><path d="M566.5 153.1Q565.1 154.3 563.2 154.4" stroke-width="1.7"/><path d="M588.3 124.1Q587 124.6 585.6 124.3" stroke-width="1.8"/><path d="M559.7 133Q561.1 134.5 561.8 136.3" stroke-width="2.1"/><path d="M552.4 131.4Q552.8 133 554 134.1" stroke-width="1.9"/><path d="M546.7 144.1Q545.7 144.8 544.4 144.7" stroke-width="2.4"/><path d="M548.8 142Q548.9 143.6 549 145.2" stroke-width="2.3"/><path d="M557.4 135.5Q555.9 135.3 554.9 136.3" stroke-width="2.2"/><path d="M575 122.4Q574.3 123.7 573 124.5" stroke-width="2.3"/><path d="M614.3 156.1Q614.3 157 615 157.5" stroke-width="1.8"/><path d="M571.9 135.1Q570.6 136.3 570.6 138.1" stroke-width="2.3"/><path d="M532.9 115.1Q533.2 115.5 533.1 116.1" stroke-width="2.2"/><path d="M565.4 151.9Q565.9 152.2 566.2 152.7" stroke-width="2.5"/><path d="M568.7 142.9Q570.2 143.9 571.9 144.1" stroke-width="2.1"/><path d="M599.7 133.7Q598.6 133.2 597.4 133.7" stroke-width="2.5"/><path d="M624.4 148.1Q625.1 148.4 625.8 148.2" stroke-width="2.3"/><path d="M565 159.5Q566.3 159.4 567.6 159.7" stroke-width="2"/><path d="M542.8 161.5Q541.8 163.3 539.7 163.6" stroke-width="2.1"/><path d="M548.2 148.4Q546.5 149.1 545.5 150.5" stroke-width="1.8"/><path d="M536 115.8Q534.5 116.7 533 117.6" stroke-width="1.9"/><path d="M630.9 153.4Q629.6 153 628.2 153.5" stroke-width="2.5"/><path d="M571.6 129.2Q573.6 129.5 575.5 130" stroke-width="1.8"/><path d="M586.1 149.9Q584.8 150.7 583.2 151" stroke-width="2.5"/><path d="M583.4 141.1Q584.1 141.2 584.6 141.5" stroke-width="1.8"/><path d="M539.5 147.5Q539.4 149.2 538.3 150.5" stroke-width="2.3"/><path d="M636.6 143.2Q636.5 144 636.3 144.8" stroke-width="1.9"/><path d="M552.9 156.4Q551.5 157.2 550 157" stroke-width="1.9"/><path d="M571.9 139.5Q570.7 139.8 569.6 140.2" stroke-width="2.3"/><path d="M605.2 152.6Q606.2 153.1 607.3 152.6" stroke-width="2.4"/><path d="M549.1 117Q549 117.8 548.3 118.4" stroke-width="1.7"/><path d="M564.5 131.7Q565.3 131.5 566.1 131.7" stroke-width="1.9"/><path d="M572.9 132.5Q573.9 133.1 574 134.3" stroke-width="2.5"/><path d="M532.9 122.1Q533.7 123.9 533.4 125.8" stroke-width="2.4"/><path d="M595.3 140.4Q595.6 141 596 141.5" stroke-width="2.3"/><path d="M610.6 143.8Q611.8 143.5 612.7 144.3" stroke-width="2.5"/><path d="M641.8 158.4Q641.5 158.9 640.9 159.2" stroke-width="2"/><path d="M559.4 155.6Q558 156.6 556.4 157.3" stroke-width="2.5"/><path d="M564.3 140.6Q565.6 141.5 566.6 142.7" stroke-width="1.8"/><path d="M550.5 125Q549.8 126.3 549.3 127.6" stroke-width="2.5"/><path d="M562.9 119Q562.9 119.6 563.4 120.1" stroke-width="2.3"/><path d="M543.9 121.9Q544.5 123.3 543.7 124.6" stroke-width="1.8"/><path d="M604.3 142.6Q603.9 143.2 603.4 143.4" stroke-width="2.2"/><path d="M598.7 127.7Q599.4 129.5 599.9 131.3" stroke-width="2.2"/><path d="M638.4 161.4Q637.8 163 638 164.7" stroke-width="2.3"/><path d="M651.9 161.1Q653.1 162.3 654.5 163.2" stroke-width="2.1"/><path d="M562.3 151.7Q561.8 152.4 561.3 153" stroke-width="2.1"/><path d="M623.5 149.4Q621.5 148.9 619.5 149.5" stroke-width="1.9"/><path d="M590.9 139.2Q591.8 139.5 592.7 139.8" stroke-width="1.8"/><path d="M554.3 133.9Q554.3 134.9 554.3 135.9" stroke-width="2"/><path d="M602.6 161.3Q603.2 162.1 603.4 163" stroke-width="2.4"/><path d="M594.2 152.9Q594.8 153 595.2 153.3" stroke-width="2"/><path d="M582.6 129.9Q582.8 131.9 583.3 133.8" stroke-width="2.6"/><path d="M537.6 160.2Q537.9 161.6 537 162.8" stroke-width="2.4"/><path d="M580.6 145Q579.7 145.3 578.8 145.4" stroke-width="1.9"/><path d="M565 136.4Q567 136.6 568.6 137.8" stroke-width="2.4"/><path d="M543.3 132Q541.8 133.1 541.2 134.7" stroke-width="1.8"/><path d="M563.9 119.5Q565.2 119.3 566.4 119.9" stroke-width="2.5"/><path d="M604.8 155.9Q604.8 156.6 604.9 157.3" stroke-width="1.8"/><path d="M565.9 158.1Q565.7 159.6 565.8 161.2" stroke-width="2.5"/></g>
</g></g>
</g>
<g clip-path="url(#pkc0)"><rect x="16" y="610.6" width="123.4" height="122" filter="url(#fc0)"/></g>
<g clip-path="url(#cqc0)">
<rect x="16" y="610.6" width="123.4" height="122" fill="url(#lg0)"/>
<g clip-path="url(#cpc0)"><polygon points="12,631.2 15,631.4 21.5,633.2 25.2,636 26.1,640.7 29,643.5 32.7,644.4 36.4,646.3 38.3,650 38.3,656.6 37.4,662.2 40.2,666.9 44.8,668.7 48.6,672.5 53.3,675.3 57.9,678.1 60.7,681.8 62.6,687.4 67.3,691.2 70.1,695.9 73.8,699.6 79.4,700.5 85,702.4 92.5,703.3 100,704.3 104.7,705.2 107.5,708 113.1,710.8 118.7,710.8 124.3,712.7 129.9,714.5 133.6,717.3 140.5,719.2 144,719.5 144,737 12,737" fill="#050300" filter="url(#dp)"/></g>
<ellipse cx="22.4" cy="694.9" rx="0.9" ry="0.7" fill="#c07800" fill-opacity="0.7"/>
<ellipse cx="103.7" cy="721" rx="0.9" ry="0.7" fill="#c07800" fill-opacity="0.7"/>
<ellipse cx="88" cy="727" rx="0.9" ry="0.7" fill="#c07800" fill-opacity="0.7"/>
</g>
<g clip-path="url(#pkc1)"><rect x="146.3" y="610.6" width="123.4" height="122" filter="url(#fc1)"/></g>
<g clip-path="url(#cqc1)">
<g mask="url(#mkc1)"><rect x="146.3" y="610.6" width="123.4" height="122" fill="#080400"/><g filter="url(#dpc)">
<ellipse cx="146.5" cy="661.2" rx="3.7" ry="2" fill="url(#g2)"/><ellipse cx="147.3" cy="666.9" rx="2.4" ry="1.9" fill="url(#g2)"/><ellipse cx="153.2" cy="665.7" rx="2.9" ry="2.5" fill="url(#g2)"/><ellipse cx="159.4" cy="666" rx="2.5" ry="2.4" fill="url(#g2)"/><ellipse cx="145.4" cy="669.8" rx="3.3" ry="2.6" fill="url(#g2)"/><ellipse cx="151.5" cy="670.1" rx="3.3" ry="1.9" fill="url(#g2)"/><ellipse cx="156.5" cy="670.4" rx="3.2" ry="2.2" fill="url(#g2)"/><ellipse cx="165.8" cy="671.2" rx="3.2" ry="2.7" fill="url(#g2)"/><ellipse cx="146.6" cy="676.8" rx="2.8" ry="2.2" fill="url(#g2)"/><ellipse cx="155.2" cy="675.2" rx="3.6" ry="2.5" fill="url(#g2)"/><ellipse cx="161.3" cy="675.1" rx="2.7" ry="1.8" fill="url(#g2)"/><ellipse cx="167.9" cy="676.2" rx="3.2" ry="2.7" fill="url(#g2)"/><ellipse cx="173.7" cy="676" rx="3" ry="2.7" fill="url(#g2)"/><ellipse cx="150.9" cy="680.2" rx="3.4" ry="1.8" fill="url(#g2)"/><ellipse cx="156.3" cy="681.1" rx="3.3" ry="2.7" fill="url(#g2)"/><ellipse cx="162.9" cy="681.2" rx="2.8" ry="1.9" fill="url(#g2)"/><ellipse cx="170.5" cy="679.9" rx="3.3" ry="2.7" fill="url(#g2)"/><ellipse cx="146.8" cy="686" rx="3.5" ry="1.8" fill="url(#g2)"/><ellipse cx="155.3" cy="686.3" rx="3.4" ry="2.3" fill="url(#g2)"/><ellipse cx="166.8" cy="686.8" rx="3.1" ry="2.5" fill="url(#g2)"/><ellipse cx="173.8" cy="685.7" rx="2.3" ry="2.2" fill="url(#g2)"/><ellipse cx="178.6" cy="687.2" rx="3.3" ry="2" fill="url(#g2)"/><ellipse cx="152.8" cy="692.1" rx="3.1" ry="1.9" fill="url(#g2)"/><ellipse cx="157.3" cy="690" rx="3.8" ry="2.6" fill="url(#g2)"/><ellipse cx="163.7" cy="690.5" rx="2.4" ry="2.6" fill="url(#g2)"/><ellipse cx="171.8" cy="690" rx="3.3" ry="2.2" fill="url(#g2)"/><ellipse cx="176.7" cy="691.3" rx="3.7" ry="2.7" fill="url(#g2)"/><ellipse cx="182.8" cy="689.8" rx="3.3" ry="2.5" fill="url(#g2)"/><ellipse cx="188.4" cy="690" rx="2.9" ry="2.3" fill="url(#g2)"/><ellipse cx="154" cy="695" rx="2.9" ry="2.2" fill="url(#g2)"/><ellipse cx="162.2" cy="696.1" rx="3" ry="2.3" fill="url(#g2)"/><ellipse cx="169" cy="695.5" rx="3.1" ry="1.9" fill="url(#g2)"/><ellipse cx="172.6" cy="696" rx="3" ry="1.9" fill="url(#g2)"/><ellipse cx="181.7" cy="695.1" rx="2.4" ry="2.4" fill="url(#g2)"/><ellipse cx="185.4" cy="695.4" rx="3.5" ry="2.2" fill="url(#g2)"/><ellipse cx="192.7" cy="695.8" rx="2.7" ry="2.8" fill="url(#g2)"/><ellipse cx="198.3" cy="695.1" rx="2.9" ry="2.5" fill="url(#g2)"/><ellipse cx="204.2" cy="696.4" rx="3.8" ry="2.1" fill="url(#g2)"/><ellipse cx="150.3" cy="700.2" rx="3.2" ry="2.1" fill="url(#g2)"/><ellipse cx="158.9" cy="701.4" rx="3.3" ry="2.5" fill="url(#g2)"/><ellipse cx="164" cy="700" rx="3.8" ry="2.2" fill="url(#g2)"/><ellipse cx="171.1" cy="700" rx="3.7" ry="2.2" fill="url(#g2)"/><ellipse cx="182.4" cy="700.1" rx="3.1" ry="2.8" fill="url(#g2)"/><ellipse cx="191.4" cy="701.9" rx="3.6" ry="1.8" fill="url(#g2)"/><ellipse cx="194.9" cy="702.1" rx="3.3" ry="2.4" fill="url(#g2)"/><ellipse cx="216.7" cy="701.2" rx="2.8" ry="2.4" fill="url(#g2)"/><ellipse cx="146.8" cy="706.5" rx="2.5" ry="2.3" fill="url(#g2)"/><ellipse cx="156.1" cy="705.7" rx="3" ry="2.3" fill="url(#g2)"/><ellipse cx="159.4" cy="706.9" rx="2.9" ry="2.1" fill="url(#g2)"/><ellipse cx="166.3" cy="707" rx="2.9" ry="2.4" fill="url(#g2)"/><ellipse cx="181" cy="705.2" rx="2.3" ry="1.8" fill="url(#g2)"/><ellipse cx="185.5" cy="706.4" rx="3.9" ry="2.5" fill="url(#g2)"/><ellipse cx="193.1" cy="704.8" rx="3.1" ry="2.7" fill="url(#g2)"/><ellipse cx="197.8" cy="706.8" rx="2.6" ry="2.2" fill="url(#g2)"/><ellipse cx="212.9" cy="705.2" rx="3.3" ry="2.5" fill="url(#g2)"/><ellipse cx="220.1" cy="705.5" rx="2.9" ry="2.7" fill="url(#g2)"/><ellipse cx="226.1" cy="706.6" rx="2.7" ry="2.7" fill="url(#g2)"/><ellipse cx="233" cy="707.1" rx="3.6" ry="2.5" fill="url(#g2)"/><ellipse cx="239" cy="706.7" rx="2.9" ry="2.6" fill="url(#g2)"/><ellipse cx="244.7" cy="706.1" rx="2.4" ry="1.8" fill="url(#g2)"/><ellipse cx="145.6" cy="710.8" rx="3.2" ry="2.7" fill="url(#g2)"/><ellipse cx="151.4" cy="711.1" rx="3" ry="2.5" fill="url(#g2)"/><ellipse cx="156.5" cy="711.5" rx="3.5" ry="2.3" fill="url(#g2)"/><ellipse cx="170.7" cy="711.9" rx="2.6" ry="2.5" fill="url(#g2)"/><ellipse cx="178" cy="711" rx="2.6" ry="2.1" fill="url(#g2)"/><ellipse cx="183.4" cy="711.5" rx="2.8" ry="2.7" fill="url(#g2)"/><ellipse cx="196.1" cy="711.5" rx="3.4" ry="2.3" fill="url(#g2)"/><ellipse cx="233.9" cy="712" rx="2.7" ry="2.4" fill="url(#g2)"/><ellipse cx="239.7" cy="711" rx="2.4" ry="2.3" fill="url(#g2)"/><ellipse cx="246.8" cy="711.6" rx="3.8" ry="2.4" fill="url(#g2)"/><ellipse cx="252.7" cy="710.3" rx="3.6" ry="1.9" fill="url(#g2)"/><ellipse cx="148.4" cy="716.6" rx="2.7" ry="2.4" fill="url(#g2)"/><ellipse cx="154.2" cy="715.9" rx="3.4" ry="2" fill="url(#g2)"/><ellipse cx="175.3" cy="714.9" rx="2.6" ry="1.8" fill="url(#g2)"/><ellipse cx="181.1" cy="715.2" rx="2.3" ry="1.9" fill="url(#g2)"/><ellipse cx="186.1" cy="715" rx="2.9" ry="2.5" fill="url(#g2)"/><ellipse cx="193" cy="717.1" rx="2.6" ry="2.7" fill="url(#g2)"/><ellipse cx="200.7" cy="716.2" rx="2.6" ry="2.1" fill="url(#g2)"/><ellipse cx="204.8" cy="715.3" rx="2.8" ry="2.6" fill="url(#g2)"/><ellipse cx="219.8" cy="716" rx="2.7" ry="2.5" fill="url(#g2)"/><ellipse cx="224.7" cy="716.5" rx="2.5" ry="2.1" fill="url(#g2)"/><ellipse cx="232.3" cy="714.8" rx="3.2" ry="2.5" fill="url(#g2)"/><ellipse cx="237.2" cy="715.9" rx="3.5" ry="1.9" fill="url(#g2)"/><ellipse cx="244.2" cy="715.4" rx="2.7" ry="2" fill="url(#g2)"/><ellipse cx="171.3" cy="721.9" rx="2.4" ry="2.6" fill="url(#g2)"/><ellipse cx="176.1" cy="721.7" rx="3" ry="2.7" fill="url(#g2)"/><ellipse cx="184.4" cy="722.2" rx="3.2" ry="2.5" fill="url(#g2)"/><ellipse cx="190.4" cy="720.8" rx="3.1" ry="2" fill="url(#g2)"/><ellipse cx="195.4" cy="721.8" rx="3.4" ry="2.5" fill="url(#g2)"/><ellipse cx="202.6" cy="721.2" rx="2.3" ry="2.2" fill="url(#g2)"/><ellipse cx="210.6" cy="720.3" rx="2.4" ry="2.1" fill="url(#g2)"/><ellipse cx="216.5" cy="719.9" rx="3.6" ry="2.7" fill="url(#g2)"/><ellipse cx="228" cy="722.1" rx="3.4" ry="1.9" fill="url(#g2)"/><ellipse cx="242.1" cy="720.4" rx="3.4" ry="2" fill="url(#g2)"/><ellipse cx="248.1" cy="720.6" rx="2.4" ry="2.6" fill="url(#g2)"/><ellipse cx="254.8" cy="721.2" rx="2.8" ry="1.9" fill="url(#g2)"/><ellipse cx="259.6" cy="721.6" rx="2.5" ry="2" fill="url(#g2)"/><ellipse cx="155.9" cy="725.1" rx="3.6" ry="2.1" fill="url(#g2)"/><ellipse cx="161.1" cy="727.2" rx="2.9" ry="2.8" fill="url(#g2)"/><ellipse cx="173.5" cy="725.6" rx="3.7" ry="2.5" fill="url(#g2)"/><ellipse cx="179.1" cy="727.2" rx="3.1" ry="2.6" fill="url(#g2)"/><ellipse cx="185.3" cy="726.2" rx="3.5" ry="2.5" fill="url(#g2)"/><ellipse cx="199.8" cy="725.8" rx="3.2" ry="2.4" fill="url(#g2)"/><ellipse cx="211.1" cy="725.1" rx="3.8" ry="1.9" fill="url(#g2)"/><ellipse cx="218.1" cy="727" rx="3.9" ry="2.8" fill="url(#g2)"/><ellipse cx="249.3" cy="725.1" rx="3.7" ry="1.8" fill="url(#g2)"/><ellipse cx="258" cy="726.8" rx="2.8" ry="2.6" fill="url(#g2)"/><ellipse cx="262" cy="724.9" rx="2.7" ry="2.7" fill="url(#g2)"/><ellipse cx="150.2" cy="731.4" rx="2.7" ry="2.3" fill="url(#g2)"/><ellipse cx="156.8" cy="731.9" rx="3.4" ry="2.4" fill="url(#g2)"/><ellipse cx="162.7" cy="731.9" rx="3.1" ry="2.4" fill="url(#g2)"/><ellipse cx="170.6" cy="731.6" rx="2.7" ry="2.3" fill="url(#g2)"/><ellipse cx="176" cy="729.8" rx="3.7" ry="2.5" fill="url(#g2)"/><ellipse cx="182.4" cy="731" rx="3.2" ry="2.3" fill="url(#g2)"/><ellipse cx="189.8" cy="731.4" rx="3.1" ry="2.6" fill="url(#g2)"/><ellipse cx="202" cy="730.7" rx="2.8" ry="2.8" fill="url(#g2)"/><ellipse cx="209.8" cy="730.7" rx="3.8" ry="2" fill="url(#g2)"/><ellipse cx="234.1" cy="730.9" rx="3.7" ry="2.7" fill="url(#g2)"/>
</g></g>
<g filter="url(#dpc)"><ellipse cx="146.6" cy="659.8" rx="3" ry="1.9" fill="url(#g2)"/><ellipse cx="153.8" cy="661.7" rx="3.2" ry="2.1" fill="url(#g2)"/><ellipse cx="162.8" cy="669.1" rx="3.1" ry="2.1" fill="url(#g2)"/><ellipse cx="169.1" cy="672.8" rx="3" ry="1.5" fill="url(#g2)"/><ellipse cx="174.2" cy="679.1" rx="2.9" ry="2.2" fill="url(#g2)"/><ellipse cx="177.6" cy="683.4" rx="2" ry="1.9" fill="url(#g2)"/><ellipse cx="181.6" cy="686.9" rx="2.4" ry="2.1" fill="url(#g2)"/><ellipse cx="188.1" cy="689.3" rx="2.7" ry="2.1" fill="url(#g2)"/><ellipse cx="191.3" cy="692.7" rx="2.9" ry="2" fill="url(#g2)"/><ellipse cx="196" cy="693.5" rx="3.2" ry="2" fill="url(#g2)"/><ellipse cx="207.2" cy="695.6" rx="3.4" ry="2" fill="url(#g2)"/><ellipse cx="210" cy="697.4" rx="3" ry="2" fill="url(#g2)"/><ellipse cx="216.8" cy="698.1" rx="3.3" ry="1.6" fill="url(#g2)"/><ellipse cx="218.4" cy="698.1" rx="2.1" ry="1.8" fill="url(#g2)"/><ellipse cx="224.4" cy="702.2" rx="3.1" ry="1.6" fill="url(#g2)"/><ellipse cx="230.1" cy="703.1" rx="2.2" ry="1.7" fill="url(#g2)"/><ellipse cx="234.7" cy="704.3" rx="3.3" ry="1.8" fill="url(#g2)"/><ellipse cx="235.1" cy="703.7" rx="2.2" ry="2.1" fill="url(#g2)"/><ellipse cx="246.3" cy="706.9" rx="2.2" ry="2" fill="url(#g2)"/><ellipse cx="248.7" cy="708.2" rx="3.4" ry="1.5" fill="url(#g2)"/><ellipse cx="261.1" cy="718.1" rx="2.8" ry="1.8" fill="url(#g2)"/><ellipse cx="261.4" cy="721.4" rx="2.6" ry="1.9" fill="url(#g2)"/><ellipse cx="261.4" cy="725.7" rx="3.4" ry="1.8" fill="url(#g2)"/></g>
</g>
<g clip-path="url(#pkc2)"><rect x="276.6" y="610.6" width="123.4" height="122" filter="url(#fc2)"/></g>
<g clip-path="url(#cqc2)">
<g mask="url(#mkc2)"><rect x="276.6" y="610.6" width="123.4" height="122" fill="#080400"/><g filter="url(#dpc)">
<ellipse cx="275" cy="670.9" rx="4" ry="2.4" fill="url(#g3)"/><ellipse cx="278" cy="675.1" rx="2.7" ry="2" fill="url(#g3)"/><ellipse cx="283.8" cy="674.5" rx="3.2" ry="3" fill="url(#g3)"/><ellipse cx="281" cy="679.4" rx="2.5" ry="2.7" fill="url(#g3)"/><ellipse cx="286.8" cy="679.6" rx="4.4" ry="1.9" fill="url(#g3)"/><ellipse cx="276.6" cy="684.5" rx="4.6" ry="2.1" fill="url(#g3)"/><ellipse cx="283.8" cy="686" rx="4.4" ry="1.9" fill="url(#g3)"/><ellipse cx="290.1" cy="684.8" rx="2.6" ry="2.8" fill="url(#g3)"/><ellipse cx="282.3" cy="690.1" rx="3.9" ry="3.1" fill="url(#g3)"/><ellipse cx="288.1" cy="690.5" rx="4.2" ry="2.3" fill="url(#g3)"/><ellipse cx="302.1" cy="691.4" rx="4.5" ry="2.7" fill="url(#g3)"/><ellipse cx="277.6" cy="696.5" rx="3.1" ry="2.9" fill="url(#g3)"/><ellipse cx="285.8" cy="694.4" rx="3.4" ry="2.3" fill="url(#g3)"/><ellipse cx="290.6" cy="695.4" rx="3" ry="2" fill="url(#g3)"/><ellipse cx="297.9" cy="695.8" rx="3.3" ry="3" fill="url(#g3)"/><ellipse cx="275.2" cy="700.8" rx="3.7" ry="2.9" fill="url(#g3)"/><ellipse cx="281" cy="700.8" rx="3.2" ry="2.6" fill="url(#g3)"/><ellipse cx="287.7" cy="701.2" rx="3" ry="2.4" fill="url(#g3)"/><ellipse cx="294.7" cy="699.4" rx="3.5" ry="2.8" fill="url(#g3)"/><ellipse cx="300.3" cy="699.1" rx="3.7" ry="2" fill="url(#g3)"/><ellipse cx="308.7" cy="700.5" rx="2.5" ry="2.2" fill="url(#g3)"/><ellipse cx="319.7" cy="699.7" rx="3.9" ry="2.6" fill="url(#g3)"/><ellipse cx="333.2" cy="700.3" rx="4.5" ry="2.4" fill="url(#g3)"/><ellipse cx="340.3" cy="699.6" rx="2.4" ry="3" fill="url(#g3)"/><ellipse cx="283.6" cy="704.5" rx="3" ry="2.8" fill="url(#g3)"/><ellipse cx="303.6" cy="705" rx="4.5" ry="3.2" fill="url(#g3)"/><ellipse cx="317" cy="706.3" rx="2.7" ry="2.1" fill="url(#g3)"/><ellipse cx="324.4" cy="705.8" rx="2.5" ry="2.7" fill="url(#g3)"/><ellipse cx="327.7" cy="705.9" rx="3.1" ry="1.9" fill="url(#g3)"/><ellipse cx="336.6" cy="706.6" rx="3.2" ry="2.3" fill="url(#g3)"/><ellipse cx="343.3" cy="706.5" rx="2.9" ry="3.2" fill="url(#g3)"/><ellipse cx="348.3" cy="705.2" rx="4" ry="3.2" fill="url(#g3)"/><ellipse cx="354.9" cy="706.2" rx="3.3" ry="2.9" fill="url(#g3)"/><ellipse cx="283.2" cy="709.8" rx="2.4" ry="2.4" fill="url(#g3)"/><ellipse cx="288.8" cy="710.7" rx="3.5" ry="2" fill="url(#g3)"/><ellipse cx="295.4" cy="711" rx="3.6" ry="2.9" fill="url(#g3)"/><ellipse cx="300.6" cy="710.2" rx="4" ry="2.9" fill="url(#g3)"/><ellipse cx="306.4" cy="711" rx="3.9" ry="2.4" fill="url(#g3)"/><ellipse cx="314.8" cy="711.4" rx="3.2" ry="2.4" fill="url(#g3)"/><ellipse cx="334" cy="710.5" rx="4" ry="2.8" fill="url(#g3)"/><ellipse cx="346.7" cy="711.3" rx="2.9" ry="2.5" fill="url(#g3)"/><ellipse cx="351.9" cy="710" rx="3.4" ry="3.2" fill="url(#g3)"/><ellipse cx="358.7" cy="711.5" rx="2.8" ry="2.9" fill="url(#g3)"/><ellipse cx="364.2" cy="710.5" rx="4" ry="2.3" fill="url(#g3)"/><ellipse cx="277.4" cy="714.1" rx="3.6" ry="2.7" fill="url(#g3)"/><ellipse cx="285.8" cy="716.3" rx="4.6" ry="2.4" fill="url(#g3)"/><ellipse cx="291.8" cy="716.1" rx="3.3" ry="2.4" fill="url(#g3)"/><ellipse cx="296.8" cy="715.1" rx="2.5" ry="3.2" fill="url(#g3)"/><ellipse cx="304.8" cy="715.4" rx="3.1" ry="2.9" fill="url(#g3)"/><ellipse cx="311.5" cy="715" rx="2.9" ry="2.2" fill="url(#g3)"/><ellipse cx="317.9" cy="715.7" rx="3.8" ry="2.1" fill="url(#g3)"/><ellipse cx="321.2" cy="714.9" rx="2.8" ry="2.6" fill="url(#g3)"/><ellipse cx="328.8" cy="714.7" rx="3.2" ry="2.9" fill="url(#g3)"/><ellipse cx="343.4" cy="715.4" rx="3.9" ry="2.6" fill="url(#g3)"/><ellipse cx="350.1" cy="714.1" rx="3.8" ry="2.4" fill="url(#g3)"/><ellipse cx="356.5" cy="716.3" rx="2.4" ry="2.7" fill="url(#g3)"/><ellipse cx="361.1" cy="715.5" rx="2.7" ry="3" fill="url(#g3)"/><ellipse cx="372.8" cy="714.7" rx="4.5" ry="2.1" fill="url(#g3)"/><ellipse cx="281.7" cy="720.9" rx="2.5" ry="2.8" fill="url(#g3)"/><ellipse cx="286.2" cy="721.4" rx="2.8" ry="2.4" fill="url(#g3)"/><ellipse cx="292.6" cy="719.3" rx="4.3" ry="3.1" fill="url(#g3)"/><ellipse cx="301.5" cy="720.6" rx="3.5" ry="2.8" fill="url(#g3)"/><ellipse cx="307" cy="720" rx="3.1" ry="2.4" fill="url(#g3)"/><ellipse cx="314" cy="721.5" rx="3.4" ry="2.4" fill="url(#g3)"/><ellipse cx="318.8" cy="719.9" rx="2.8" ry="2.5" fill="url(#g3)"/><ellipse cx="325.4" cy="720.5" rx="2.7" ry="2.5" fill="url(#g3)"/><ellipse cx="331.5" cy="720.7" rx="2.9" ry="2.2" fill="url(#g3)"/><ellipse cx="338.3" cy="719.9" rx="4.3" ry="2.9" fill="url(#g3)"/><ellipse cx="345" cy="720.2" rx="3.4" ry="3.1" fill="url(#g3)"/><ellipse cx="350.3" cy="720" rx="4.3" ry="2.3" fill="url(#g3)"/><ellipse cx="358.2" cy="719.2" rx="3.5" ry="2.9" fill="url(#g3)"/><ellipse cx="365.4" cy="720.9" rx="3" ry="2.7" fill="url(#g3)"/><ellipse cx="369.4" cy="721.4" rx="3.5" ry="2.4" fill="url(#g3)"/><ellipse cx="375.9" cy="720.4" rx="2.7" ry="2" fill="url(#g3)"/><ellipse cx="279.2" cy="725.1" rx="4.3" ry="2.3" fill="url(#g3)"/><ellipse cx="284.7" cy="725.5" rx="4.2" ry="2.8" fill="url(#g3)"/><ellipse cx="292.1" cy="724.7" rx="3.6" ry="2.7" fill="url(#g3)"/><ellipse cx="295.7" cy="726.1" rx="2.7" ry="3" fill="url(#g3)"/><ellipse cx="304" cy="725.9" rx="3.8" ry="3.1" fill="url(#g3)"/><ellipse cx="308.6" cy="724.9" rx="3.8" ry="2.2" fill="url(#g3)"/><ellipse cx="314.9" cy="724.4" rx="3.6" ry="2.5" fill="url(#g3)"/><ellipse cx="322.9" cy="724.1" rx="3" ry="2" fill="url(#g3)"/><ellipse cx="327.8" cy="724.4" rx="2.8" ry="2.5" fill="url(#g3)"/><ellipse cx="334.6" cy="725.9" rx="3.1" ry="2" fill="url(#g3)"/><ellipse cx="343.9" cy="724.3" rx="4.1" ry="2.5" fill="url(#g3)"/><ellipse cx="350" cy="724.4" rx="4.4" ry="3.1" fill="url(#g3)"/><ellipse cx="356.3" cy="725.1" rx="4.3" ry="2.4" fill="url(#g3)"/><ellipse cx="360.5" cy="724.1" rx="2.7" ry="3.1" fill="url(#g3)"/><ellipse cx="367.1" cy="724.9" rx="3.9" ry="2.5" fill="url(#g3)"/><ellipse cx="372.8" cy="725" rx="4.5" ry="2.4" fill="url(#g3)"/><ellipse cx="281.7" cy="729.8" rx="3.3" ry="3.2" fill="url(#g3)"/><ellipse cx="288" cy="731.4" rx="3.2" ry="2.8" fill="url(#g3)"/><ellipse cx="301.3" cy="731" rx="2.6" ry="2" fill="url(#g3)"/><ellipse cx="307.2" cy="729.3" rx="3.3" ry="3.2" fill="url(#g3)"/><ellipse cx="314.2" cy="730.1" rx="3.3" ry="2.7" fill="url(#g3)"/><ellipse cx="321.1" cy="731.3" rx="2.5" ry="2.8" fill="url(#g3)"/><ellipse cx="326.9" cy="730.7" rx="4.2" ry="2.7" fill="url(#g3)"/><ellipse cx="333.8" cy="729.4" rx="3.9" ry="2" fill="url(#g3)"/><ellipse cx="337.8" cy="730.7" rx="4.5" ry="2.3" fill="url(#g3)"/><ellipse cx="345.3" cy="730.3" rx="3.1" ry="3.1" fill="url(#g3)"/><ellipse cx="352.6" cy="730.5" rx="4.3" ry="2.9" fill="url(#g3)"/><ellipse cx="358.4" cy="729.2" rx="3.8" ry="2.1" fill="url(#g3)"/><ellipse cx="365.1" cy="729.9" rx="4.2" ry="3" fill="url(#g3)"/><ellipse cx="371.9" cy="730.2" rx="4.6" ry="3.1" fill="url(#g3)"/><ellipse cx="377.8" cy="729.2" rx="2.5" ry="2.1" fill="url(#g3)"/>
</g></g>
<g filter="url(#dpc)"><ellipse cx="277.5" cy="670" rx="2.8" ry="2.1" fill="url(#g3)"/><ellipse cx="286.5" cy="675.2" rx="2.3" ry="1.8" fill="url(#g3)"/><ellipse cx="290.7" cy="681.5" rx="2.3" ry="2" fill="url(#g3)"/><ellipse cx="294.9" cy="684.7" rx="3.4" ry="2.2" fill="url(#g3)"/><ellipse cx="307" cy="691.7" rx="2.3" ry="2.6" fill="url(#g3)"/><ellipse cx="314.5" cy="693.2" rx="2.6" ry="2" fill="url(#g3)"/><ellipse cx="321.5" cy="694.5" rx="2.8" ry="2.5" fill="url(#g3)"/><ellipse cx="332.1" cy="697.4" rx="3" ry="2.1" fill="url(#g3)"/><ellipse cx="339.2" cy="700.6" rx="2.6" ry="2.4" fill="url(#g3)"/><ellipse cx="343.3" cy="702.6" rx="3" ry="2.2" fill="url(#g3)"/><ellipse cx="352.8" cy="704.8" rx="3.2" ry="1.9" fill="url(#g3)"/><ellipse cx="355.6" cy="704.6" rx="3.4" ry="2.5" fill="url(#g3)"/><ellipse cx="358.8" cy="705.3" rx="3.2" ry="2.1" fill="url(#g3)"/><ellipse cx="362.1" cy="706.4" rx="2.4" ry="2" fill="url(#g3)"/><ellipse cx="372.8" cy="713.2" rx="2.9" ry="2.3" fill="url(#g3)"/><ellipse cx="376" cy="721" rx="2.4" ry="2.2" fill="url(#g3)"/></g>
</g>
<g clip-path="url(#pkc3)"><rect x="407" y="610.6" width="123.4" height="122" filter="url(#fc3)"/></g>
<g clip-path="url(#cqc3)">
<g mask="url(#mkc3)"><rect x="407" y="610.6" width="123.4" height="122" filter="url(#pc3)"/><g filter="url(#bl2)">
<g fill="none" stroke="#1e0e00" stroke-linecap="round" stroke-opacity="0.85"><path d="M454.9 715.6Q452.7 715.8 451.5 717.6" stroke-width="2.7"/><path d="M454.6 732Q456.1 733.2 457 734.8" stroke-width="2.2"/><path d="M517 715Q517.6 716.4 517.8 718" stroke-width="2.1"/><path d="M494.6 727.4Q495.2 727.7 495.9 727.5" stroke-width="1.9"/><path d="M459 712.7Q459.6 712.6 460.2 712.8" stroke-width="2.6"/><path d="M455.3 701.7Q456.6 702.9 457.5 704.4" stroke-width="2.2"/><path d="M435.7 701.9Q436.4 703.7 435.6 705.5" stroke-width="2"/><path d="M453.5 710Q454.2 711 455.4 711.2" stroke-width="1.8"/><path d="M475.7 708.7Q474.8 709.7 474.8 711" stroke-width="2"/><path d="M414.1 689.6Q413 691.4 412.9 693.5" stroke-width="2.1"/><path d="M447.9 717.1Q446.6 718 445 717.9" stroke-width="2"/><path d="M493.4 728.2Q492.7 729.5 491.4 729.9" stroke-width="2.3"/><path d="M446.3 717.2Q447.3 717.5 448 718.3" stroke-width="2.4"/><path d="M493.8 729.1Q495 729.7 496.2 729.6" stroke-width="2"/><path d="M435.6 720.2Q434.2 720.3 433.1 721.1" stroke-width="2.2"/><path d="M456.7 709Q456.2 709.4 455.6 709.5" stroke-width="2.3"/><path d="M439.1 700.1Q440.2 700.9 440.7 702.2" stroke-width="2.4"/><path d="M433.9 694.7Q433.4 695.9 433.9 697" stroke-width="1.8"/><path d="M477.4 713.2Q477.8 714 478.2 714.9" stroke-width="2.6"/><path d="M414.2 698Q414.8 699.9 415 701.8" stroke-width="2.3"/><path d="M409.5 714.7Q411.1 715.2 412.7 715.9" stroke-width="2.6"/><path d="M439 708Q438.9 709.1 438.6 710.1" stroke-width="2"/><path d="M520.5 715.7Q521.6 717.6 522.7 719.6" stroke-width="2.1"/><path d="M525.3 709.9Q524.6 710.9 524.9 712.1" stroke-width="2.4"/><path d="M509 713.6Q509.6 715.1 510.9 716.2" stroke-width="2.2"/><path d="M447 732Q445.5 733.2 445.1 735.1" stroke-width="2.4"/><path d="M455.2 729.8Q454.2 731.7 453 733.4" stroke-width="2.2"/><path d="M412.3 726.2Q411.8 728.1 411.1 730" stroke-width="2.5"/><path d="M409 701.3Q408.8 702.2 408.4 703" stroke-width="2.3"/><path d="M445.1 705.1Q446.1 706.2 447.4 707" stroke-width="2.3"/><path d="M442.7 691.9Q442.3 692.3 441.7 692.5" stroke-width="2.4"/><path d="M507.9 722.7Q507.5 723.1 507.6 723.7" stroke-width="2.3"/><path d="M448.9 706.5Q449.9 707.4 451.1 708" stroke-width="2.5"/><path d="M456.6 720.9Q456.5 721.6 456.6 722.3" stroke-width="2.2"/><path d="M526 719.5Q527.5 721 529.4 721.7" stroke-width="2.1"/><path d="M494.7 717.8Q493.5 718.1 492.3 718.2" stroke-width="2.2"/><path d="M421.3 711.4Q421.8 712.2 421.7 713.2" stroke-width="2.4"/><path d="M497.4 717.2Q498.2 717.4 498.9 717.4" stroke-width="1.8"/><path d="M524 723.5Q522.5 724.3 521.1 725.2" stroke-width="2"/><path d="M414.3 716.7Q413.6 718.2 413 719.8" stroke-width="2.2"/><path d="M425.2 730.8Q423.2 730.6 421.7 732" stroke-width="2.1"/><path d="M425 705.8Q425.1 707.2 425.9 708.3" stroke-width="2"/><path d="M442.1 724.3Q441.6 725.1 440.9 725.7" stroke-width="2.1"/><path d="M466.6 693.6Q464.6 693.2 462.8 694.3" stroke-width="1.9"/><path d="M409.5 702.5Q408.4 704.2 409 706.1" stroke-width="2.7"/><path d="M454.3 720.2Q455.2 720.8 456.1 721.4" stroke-width="2.6"/><path d="M459.5 691.2Q460.1 693 460.4 694.9" stroke-width="2.6"/><path d="M441.8 702.9Q443 704.8 444.4 706.5" stroke-width="2.3"/><path d="M448.9 713.7Q447.8 714.2 446.8 714.9" stroke-width="2.4"/><path d="M476.6 717.4Q477.7 717.8 478.7 718.4" stroke-width="2"/><path d="M407.7 720.3Q407.5 721.8 407.9 723.2" stroke-width="1.8"/><path d="M422.2 718.7Q421.7 719 421.2 719.2" stroke-width="2.7"/><path d="M448.7 702.1Q448.6 704 449.2 705.8" stroke-width="2.7"/><path d="M480.7 703.1Q478.6 703.1 476.5 703.3" stroke-width="2.3"/><path d="M417.4 709.5Q418.5 711.3 420.4 712.4" stroke-width="2"/><path d="M480.9 721.8Q480.4 722.1 480 722.3" stroke-width="1.9"/><path d="M442.9 709.4Q444.8 709.7 445.9 711.3" stroke-width="1.9"/><path d="M501.7 718.4Q501.7 719.6 501 720.6" stroke-width="2.3"/><path d="M528.6 708.2Q528 710.3 526.4 711.8" stroke-width="2.4"/><path d="M491.3 720.2Q492.1 721.9 493.9 722.3" stroke-width="2.6"/><path d="M459.2 728.1Q460.9 729.8 461.3 732.1" stroke-width="1.9"/><path d="M435.8 719.3Q435.7 719.8 435.5 720.3" stroke-width="2.4"/><path d="M437.5 706.3Q438.3 706.6 439.2 706.4" stroke-width="2.1"/><path d="M443 729.4Q443.3 730.6 442.7 731.7" stroke-width="2.1"/><path d="M517.3 724.2Q515.6 725.2 513.6 725.2" stroke-width="1.8"/><path d="M421.7 714.1Q422 715.6 422.9 716.8" stroke-width="1.9"/><path d="M424.1 721.6Q423.3 721.9 422.8 722.6" stroke-width="2.1"/><path d="M423.7 716.7Q423.6 717.9 423.2 719" stroke-width="2"/><path d="M425.3 720.8Q426.2 721.8 427.5 722" stroke-width="1.9"/><path d="M435.8 688.3Q435.1 689.8 433.5 690.2" stroke-width="2.6"/><path d="M493.6 723.8Q494.3 724.9 494 726.2" stroke-width="2"/><path d="M516.7 724.3Q518.7 725 520.5 726.1" stroke-width="2.5"/><path d="M445 693.4Q444.9 693.9 444.9 694.4" stroke-width="1.9"/><path d="M439 714Q438.2 714.3 437.7 715" stroke-width="2.1"/><path d="M421.3 710.9Q422.2 711.4 423.2 711.5" stroke-width="2.3"/><path d="M441.6 693.6Q440 694.3 438.2 694.5" stroke-width="2.3"/><path d="M432.7 704.4Q433.5 705.7 434.5 706.8" stroke-width="2.2"/><path d="M410.3 686.7Q411.4 687.3 412.5 687.8" stroke-width="2.3"/><path d="M485.3 726.9Q484.5 728.4 483 728.9" stroke-width="2.6"/><path d="M522.5 710.4Q522.3 712.3 521.9 714.2" stroke-width="1.9"/><path d="M467.9 718.2Q466.1 718.7 464.3 719.4" stroke-width="2.6"/><path d="M457.9 708.4Q459.9 709 460.6 710.9" stroke-width="2.4"/><path d="M428.5 725.5Q429.9 726.2 431.3 726.7" stroke-width="2.5"/><path d="M433.4 731.4Q433.9 731.7 434.5 731.9" stroke-width="2.4"/><path d="M480.4 729.8Q481.3 730 482.1 730.1" stroke-width="2.1"/><path d="M454.2 700.3Q455.2 702.2 456.8 703.5" stroke-width="2.3"/><path d="M441 728.6Q441.8 729.2 442.1 730.1" stroke-width="2.4"/><path d="M420.9 711.4Q420.5 712.5 420.5 713.6" stroke-width="1.7"/><path d="M409.8 723.8Q411.9 723.8 413.7 724.9" stroke-width="2.1"/><path d="M482.9 732Q481.3 732.8 479.5 733" stroke-width="2.7"/><path d="M502.2 728.8Q502.2 729.7 502.7 730.5" stroke-width="2.3"/><path d="M441.2 727Q440.2 727.1 439.4 727.7" stroke-width="2.3"/><path d="M422.9 724.6Q420.8 725.3 418.6 725.1" stroke-width="2.6"/><path d="M462.8 699.3Q460.8 700.1 459.3 701.6" stroke-width="2"/><path d="M418.6 690.1Q419.3 690.7 420.2 691.2" stroke-width="2"/><path d="M431.8 727.5Q432.9 726.9 434.1 727.5" stroke-width="2.3"/><path d="M409.7 710Q409.6 710.5 409.8 711" stroke-width="2.2"/><path d="M434.9 724.2Q432.5 724.6 431.2 726.6" stroke-width="2.7"/><path d="M452.9 709Q452.2 710.1 451 710.5" stroke-width="1.9"/><path d="M461.3 707.9Q463.3 709.3 463.5 711.7" stroke-width="2.1"/><path d="M469.8 711.1Q470.7 712.8 471.8 714.4" stroke-width="2.7"/><path d="M528 709.9Q527.3 710.8 527 711.9" stroke-width="2.4"/><path d="M433.8 685.5Q435.2 685.9 436.3 687" stroke-width="2"/><path d="M452.7 700.8Q452.4 703 452.3 705.2" stroke-width="2.1"/><path d="M474.5 722.7Q474.7 724.1 474.4 725.5" stroke-width="1.9"/><path d="M431.6 685.5Q432.6 685.6 433.6 685.8" stroke-width="2.3"/><path d="M420.8 719.8Q420.4 721.1 419.8 722.2" stroke-width="2.5"/><path d="M437.3 729.8Q437.5 730.3 437.6 730.9" stroke-width="2.4"/><path d="M502.8 732.4Q503.9 732.4 504.8 732.9" stroke-width="1.7"/><path d="M437.7 713.2Q439.8 713.4 441.6 714.5" stroke-width="2.6"/><path d="M478.8 702Q479.4 701.9 480 702.2" stroke-width="2.3"/><path d="M411.3 707.6Q413.2 707.2 415.2 707.6" stroke-width="2.1"/><path d="M481.9 718.3Q482.5 719.9 482.6 721.6" stroke-width="2.3"/><path d="M463.8 728.9Q463.2 730.2 463.1 731.6" stroke-width="2.2"/><path d="M469.1 716.1Q467.5 716.4 466 716.1" stroke-width="2.2"/><path d="M527 723Q528.2 723.9 528.7 725.4" stroke-width="2.1"/><path d="M459.2 702.9Q459.2 703.9 459.4 704.8" stroke-width="1.8"/><path d="M487.8 718Q488.6 718.3 489 719.2" stroke-width="2.2"/><path d="M479 712.9Q479.6 713 480.2 713.1" stroke-width="2.6"/><path d="M439.7 686.8Q438.6 688 437.3 689" stroke-width="1.8"/><path d="M440.1 716.7Q440 718.7 441.2 720.2" stroke-width="2.1"/><path d="M410.2 690.1Q409.6 692.3 407.7 693.4" stroke-width="2"/><path d="M455.9 706.3Q455.3 706.4 454.8 706.6" stroke-width="2"/><path d="M411.3 709.6Q409.3 710.7 408.6 712.9" stroke-width="2.6"/><path d="M443.9 711Q445.2 711.4 445.8 712.6" stroke-width="2.6"/><path d="M465.1 726.5Q464.9 727.3 464.5 727.9" stroke-width="2.6"/><path d="M506.1 730.1Q506.3 731.2 506 732.4" stroke-width="2.1"/><path d="M527.3 731.8Q525.2 732.4 523 733" stroke-width="2.4"/><path d="M520.4 722.3Q520.7 723.3 521.3 724.1" stroke-width="1.9"/><path d="M438.7 691Q437.9 690.9 437.3 691.4" stroke-width="2.5"/><path d="M468.7 718.8Q469 720.5 469.3 722.2" stroke-width="1.8"/><path d="M436.8 698.2Q436.5 699.3 435.7 700.1" stroke-width="1.9"/><path d="M517 721.1Q515.7 722.9 513.7 723.8" stroke-width="2.2"/><path d="M510.2 722.8Q510.2 723.7 510.3 724.6" stroke-width="1.7"/><path d="M436.2 718.6Q436.3 720.3 436.7 721.9" stroke-width="2.2"/><path d="M499.7 721.1Q498.5 721.6 497.8 722.8" stroke-width="2.4"/><path d="M507.6 732.1Q507 732.2 506.5 732.3" stroke-width="2.5"/><path d="M453.9 693.7Q453.4 695.6 452.2 697.1" stroke-width="2.4"/><path d="M430.3 722.4Q429 723.4 428 724.5" stroke-width="2.7"/><path d="M479.2 710.2Q479.6 711.2 480.4 711.8" stroke-width="2.5"/></g>
</g></g>
</g>
<g clip-path="url(#pkc4)"><rect x="537.2" y="610.6" width="123.4" height="122" filter="url(#fc4)"/></g>
<g clip-path="url(#cqc4)">
<g clip-path="url(#cpc4)"><g filter="url(#dp5)">
<polygon points="536,695.5 550,695.8 564.2,697 568,700.5 571,705 575,707.3 585,707.5 600,708.2 606,709.5 608.5,713 609.8,720 611,727.7 612,734 536,734" fill="#fff5da"/>
<ellipse cx="545" cy="705" rx="12" ry="5" fill="#eea414"/>
<ellipse cx="542.6" cy="702.6" rx="2.4" ry="1.8" fill="#a06000"/>
<ellipse cx="544" cy="717.5" rx="6.5" ry="5" fill="#eea414"/>
<ellipse cx="561" cy="715.8" rx="8" ry="1.5" fill="#efa618"/>
<ellipse cx="592" cy="719.5" rx="10.5" ry="3.4" fill="#efa414"/>
<ellipse cx="574.7" cy="729.8" rx="3.5" ry="3" fill="#eea414"/>
<ellipse cx="539" cy="731" rx="3" ry="3" fill="#eea414"/>
<ellipse cx="566" cy="711" rx="9" ry="3.5" fill="#fffaf0"/>
<ellipse cx="595" cy="713" rx="9" ry="3" fill="#fffaf0"/>
<ellipse cx="558" cy="727" rx="12" ry="2.8" fill="#fff8ea"/>
<ellipse cx="594" cy="728.5" rx="12" ry="3.5" fill="#fff8ea"/>
<ellipse cx="552" cy="697" rx="10" ry="1.5" fill="#fff6e0"/>
<polygon points="628,734 632,727 642,725 652,724.5 658.5,726 658.5,734" fill="#ffeebb"/>
<rect x="657.4" y="724" width="3.6" height="9" fill="#100800"/>
<ellipse cx="601.7" cy="630.4" rx="3.5" ry="1.9" fill="#fff4d0"/>
</g></g>
<rect x="537.2" y="610.6" width="123.4" height="16" fill="#ffe090" fill-opacity="0.15"/><rect x="537.2" y="626.3" width="123.4" height="0.9" fill="#ffd070" fill-opacity="0.3"/>
</g>
<text x="4.27" y="18.69" font-size="24.81" font-weight="normal" textLength="31.22" lengthAdjust="spacingAndGlyphs">(a)</text>
<text x="3.28" y="208.12" font-size="24.17" font-weight="normal" textLength="31.00" lengthAdjust="spacingAndGlyphs">(b)</text>
<text x="3.24" y="594.48" font-size="24.39" font-weight="normal" textLength="30.35" lengthAdjust="spacingAndGlyphs">(c)</text>
<text x="123.77" y="53.69" font-size="10.99" fill="#fff" stroke="#fff" stroke-width="0.3" textLength="27.91" lengthAdjust="spacingAndGlyphs">553 s</text>
<text x="244.77" y="53.79" font-size="11.29" fill="#fff" stroke="#fff" stroke-width="0.3" textLength="27.81" lengthAdjust="spacingAndGlyphs">574 s</text>
<text x="373.70" y="53.89" font-size="10.85" fill="#fff" stroke="#fff" stroke-width="0.3" textLength="28.28" lengthAdjust="spacingAndGlyphs">605 s</text>
<text x="493.31" y="53.89" font-size="10.85" fill="#fff" stroke="#fff" stroke-width="0.3" textLength="28.07" lengthAdjust="spacingAndGlyphs">641 s</text>
<text x="614.00" y="53.89" font-size="11.13" fill="#fff" stroke="#fff" stroke-width="0.3" textLength="28.48" lengthAdjust="spacingAndGlyphs">691 s</text>
<text x="114.55" y="623.99" font-size="11.41" fill="#fff" stroke="#fff" stroke-width="0.3">0 s</text>
<text x="233.31" y="623.89" font-size="10.99" fill="#fff" stroke="#fff" stroke-width="0.3" textLength="28.78" lengthAdjust="spacingAndGlyphs">120 s</text>
<text x="363.71" y="623.89" font-size="10.99" fill="#fff" stroke="#fff" stroke-width="0.3" textLength="28.67" lengthAdjust="spacingAndGlyphs">180 s</text>
<text x="494.30" y="623.89" font-size="10.99" fill="#fff" stroke="#fff" stroke-width="0.3" textLength="28.69" lengthAdjust="spacingAndGlyphs">600 s</text>
<text x="624.50" y="623.99" font-size="11.13" fill="#fff" stroke="#fff" stroke-width="0.3" textLength="28.69" lengthAdjust="spacingAndGlyphs">675 s</text>
<ellipse cx="56.6" cy="46.8" rx="2.2" ry="1.4" fill="#3a2000" fill-opacity="0.90" filter="url(#bl)"/>
<polygon points="55.2,51.7 56.4,58.4 60.3,55.9" fill="#fff"/>
<text x="61.46" y="65.41" font-size="9.15" fill="#fff" stroke="#fff" stroke-width="0.3"># 8</text>
<ellipse cx="179.7" cy="45.7" rx="1.8" ry="1.2" fill="#3a2000" fill-opacity="0.90" filter="url(#bl)"/>
<ellipse cx="173" cy="58.8" rx="1.5" ry="1.2" fill="#3a2000" fill-opacity="0.30" filter="url(#bl)"/>
<polygon points="181,50.5 182.3,57 186.3,54.9" fill="#fff"/>
<polygon points="174.4,66.3 172.1,72.8 176.8,72.8" fill="#fff"/>
<text x="174.26" y="83.71" font-size="9.30" fill="#fff" stroke="#fff" stroke-width="0.3" textLength="12.76" lengthAdjust="spacingAndGlyphs"># 9</text>
<ellipse cx="301.1" cy="47" rx="2" ry="1.3" fill="#3a2000" fill-opacity="0.85" filter="url(#bl)"/>
<ellipse cx="295" cy="60.3" rx="1.8" ry="1.2" fill="#3a2000" fill-opacity="0.50" filter="url(#bl)"/>
<polygon points="303.4,51.8 304.3,58.4 308.7,56.2" fill="#fff"/>
<polygon points="295,65 292.8,71.5 297.1,71.5" fill="#fff"/>
<ellipse cx="373.2" cy="57.5" rx="1" ry="1" fill="#3a2000" fill-opacity="0.40" filter="url(#bl)"/>
<polygon points="369.7,59.3 362.7,60.8 364.5,64" fill="#fff"/>
<text x="343.26" y="71.72" font-size="8.31" fill="#fff" stroke="#fff" stroke-width="0.3" textLength="18.12" lengthAdjust="spacingAndGlyphs"># 10</text>
<ellipse cx="428" cy="47.9" rx="1.6" ry="1.3" fill="#3a2000" fill-opacity="0.95" filter="url(#bl)"/>
<ellipse cx="424" cy="60" rx="1.6" ry="1.2" fill="#3a2000" fill-opacity="0.20" filter="url(#bl)"/>
<polygon points="430.6,51.4 431.8,58 435.8,55.6" fill="#fff"/>
<polygon points="423.8,66.7 421.6,73.1 426.2,73.1" fill="#fff"/>
<polygon points="517.8,78.8 511.1,81.4 514,84.8" fill="#fff"/>
<text x="495.87" y="95.20" font-size="8.55" fill="#fff" stroke="#fff" stroke-width="0.3" textLength="16.76" lengthAdjust="spacingAndGlyphs"># 11</text>
<ellipse cx="520.5" cy="75.5" rx="1.2" ry="1" fill="#3a2000" fill-opacity="0.30" filter="url(#bl)"/>
<rect x="488" y="69.2" width="37" height="0.8" fill="#f5c050" fill-opacity="0.3"/>
<ellipse cx="547.3" cy="47.4" rx="1.8" ry="1.1" fill="#3a2000" fill-opacity="0.60" filter="url(#bl)"/>
<ellipse cx="542.7" cy="61" rx="2" ry="1" fill="#3a2000" fill-opacity="0.50" filter="url(#bl)"/>
<ellipse cx="596.9" cy="48.2" rx="2" ry="1" fill="#3a2000" fill-opacity="0.50" filter="url(#bl)"/>
<polygon points="551.9,51.8 553.4,58.4 557.5,55.8" fill="#fff"/>
<polygon points="542.2,64 540,70.7 544.4,70.7" fill="#fff"/>
<polygon points="591.5,53.1 585.9,56.9 589,59.4" fill="#fff"/>
<text x="580.36" y="71.90" font-size="9.14" fill="#fff" stroke="#fff" stroke-width="0.3"># 12</text>
<polygon points="639.4,79 632.8,81.9 635.5,84.8" fill="#fff"/>
<rect x="641" y="75.1" width="15" height="0.8" fill="#f8d070" fill-opacity="0.7"/>
<ellipse cx="148.3" cy="638.8" rx="2.4" ry="1" fill="#3a2000" fill-opacity="0.90" filter="url(#bl)"/>
<ellipse cx="147.2" cy="648.3" rx="1.4" ry="1.2" fill="#3a2000" fill-opacity="0.70" filter="url(#bl)"/>
<ellipse cx="150" cy="651.5" rx="1.2" ry="0.9" fill="#3a2000" fill-opacity="0.50" filter="url(#bl)"/>
<ellipse cx="147.2" cy="654.8" rx="1.4" ry="1.2" fill="#3a2000" fill-opacity="0.70" filter="url(#bl)"/>
<ellipse cx="421.8" cy="616.6" rx="1.8" ry="1.3" fill="#3a2000" fill-opacity="0.80" filter="url(#bl)"/>
<ellipse cx="416.2" cy="630.4" rx="1.5" ry="1" fill="#3a2000" fill-opacity="0.35" filter="url(#bl)"/>
<ellipse cx="495.3" cy="627.6" rx="1.3" ry="1.2" fill="#3a2000" fill-opacity="0.60" filter="url(#bl)"/>
<ellipse cx="445" cy="651" rx="1.5" ry="1" fill="#3a2000" fill-opacity="0.20" filter="url(#bl)"/>
<ellipse cx="157" cy="136.5" rx="1.5" ry="1.4" fill="#140800" fill-opacity="0.45" filter="url(#bl)"/>
<ellipse cx="281.2" cy="136.5" rx="1.6" ry="1.6" fill="#140800" fill-opacity="0.55" filter="url(#bl)"/>
<ellipse cx="405" cy="138.4" rx="2" ry="2" fill="#140800" fill-opacity="0.70" filter="url(#bl)"/>
<ellipse cx="654.6" cy="140.2" rx="2.2" ry="2.8" fill="#140800" fill-opacity="0.90" filter="url(#bl)"/>
<ellipse cx="654.8" cy="154.3" rx="1.5" ry="2" fill="#140800" fill-opacity="0.60" filter="url(#bl)"/>
<ellipse cx="395.5" cy="730.6" rx="3.5" ry="1.6" fill="#140800" fill-opacity="0.75" filter="url(#bl)"/>
<ellipse cx="528" cy="709.8" rx="2" ry="1.8" fill="#140800" fill-opacity="0.75" filter="url(#bl)"/>
<ellipse cx="619.6" cy="109.2" rx="1.3" ry="1.1" fill="#ffe8a8" fill-opacity="0.70" filter="url(#bl)"/>
<ellipse cx="610.3" cy="129.2" rx="2" ry="0.6" fill="#ffe8a8" fill-opacity="0.60" filter="url(#bl)"/>
<ellipse cx="337" cy="99.5" rx="2.5" ry="0.6" fill="#ffe8a8" fill-opacity="0.50" filter="url(#bl)"/>
<rect x="47.2" y="146.8" width="30.2" height="2" fill="#fff"/>
<text x="43.02" y="159.29" font-size="10.70" fill="#fff" stroke="#fff" stroke-width="0.3" textLength="38.97" lengthAdjust="spacingAndGlyphs">100 nm</text>
<rect x="25.3" y="717.9" width="30.9" height="1.9" fill="#fff"/>
<text x="21.31" y="730.88" font-size="11.69" fill="#fff" stroke="#fff" stroke-width="0.3" textLength="39.49" lengthAdjust="spacingAndGlyphs">100 nm</text>
<rect x="17.1" y="124.3" width="15" height="37.2" fill="url(#cb)" stroke="#444" stroke-width="0.6"/>
<text x="0.27" y="120.10" font-size="9.07" textLength="14.51" lengthAdjust="spacingAndGlyphs">nm</text>
<text x="0.96" y="132.40" font-size="10.00" textLength="13.33" lengthAdjust="spacingAndGlyphs">4.0</text>
<text x="9.02" y="164.61" font-size="9.01" textLength="5.27" lengthAdjust="spacingAndGlyphs">0</text>
<line x1="74.2" y1="247.4" x2="279.4" y2="247.4" stroke="#2a2a2a" stroke-width="1.1" stroke-dasharray="1.9 1.3"/>
<line x1="74.1" y1="309.5" x2="215.3" y2="309.5" stroke="#2a2a2a" stroke-width="1.1" stroke-dasharray="1.9 1.3"/>
<line x1="75.9" y1="371.7" x2="171.6" y2="371.7" stroke="#2a2a2a" stroke-width="1.1" stroke-dasharray="1.9 1.3"/>
<line x1="74.1" y1="434.5" x2="133.7" y2="434.5" stroke="#2a2a2a" stroke-width="1.1" stroke-dasharray="1.9 1.3"/>
<line x1="74.1" y1="513.4" x2="108.3" y2="513.4" stroke="#2a2a2a" stroke-width="1.1" stroke-dasharray="1.9 1.3"/>
<polyline points="279.4,247.2 280.4,218.4 282,216.3 283.5,222.5 285,220.4 287.1,215.8 288.6,216.9 290.7,215.3 292.2,212.1 293.7,216.9 295.3,215.3 296.3,219.4 297.3,214.8 298.6,224 299.9,218.4 300.9,225 301.9,217.4 303.4,212.3 305,213.3 306.5,219.4 308,221 309.6,224 310.8,228.6 312.1,224 313.3,222.5 314.7,226 315.7,224 317.2,224.5" fill="none" stroke="#000" stroke-width="0.95" stroke-linejoin="round"/>
<polyline points="215.3,309.4 216.6,309.4 217.4,303.3 218.3,289.3 219.6,286.2 221.2,286.2 222.4,291.5 224,288.8 225.6,289.7 226.5,291.5 227.5,289.4 228.8,291.5 231.9,291.5 233.6,294.5 235,294.1 236.1,289.4 237.1,291.5 238.2,289.7 239.8,286.2 241.1,291.5 244.6,291.5 246.1,294.3 247.7,294.1 248.5,292.6 249.8,297.1 251,291.9 252,291.5 253.3,294.1 254.8,289.1 256,291.5 257.3,297.1 258.6,294.7 260.3,294.1 262.1,292.3 263.4,298.9 264.7,291.5 266,295.8 267.4,298 268.5,300.6 269.8,298 271.1,297.1 272.4,292.3 273.8,297.6 274.8,297.1 275.9,291.9 277.3,299.8 278.6,293.6 280.3,291.5 282.1,297.1 283.8,288.4 285,289.3 286.2,294.1 288.6,286.6 290.8,282.7 292.1,276.1 293.5,280.9 295.2,279.2 297.4,279.2 298.7,282.3 300.5,285.3 302.2,284 304.8,288 308.3,288.4 310.1,287.5 312.3,286.6 313.2,288.8 314.5,309 315.8,290.1 317.5,309.4 318.4,309.4" fill="none" stroke="#000" stroke-width="0.95" stroke-linejoin="round"/>
<polyline points="171.6,371.7 172.7,370.9 173.7,359.1 175.2,359.1 176.4,351.5 177.5,354.5 178.8,351 180.3,362.2 182.4,354.5 183.9,356.6 185.9,353.5 188,354 190,357.1 191.4,359.6 192.4,345.3 193.6,355.5 194.6,351.5 196.2,351.5 197.7,356.6 199.2,357.6 200.3,361.7 201.3,354.5 202.6,359.1 204.3,355.5 205.9,354 208.4,353 210,348.4 211.8,351.5 213.5,348.4 215.1,354 216.1,353.5 217.3,348.4 218.3,353 220,342.8 221.2,353.5 222.2,353 223.5,348.4 225.1,356.6 226.8,351.5 228.9,354 231.2,359.1 233,350.9 234.4,350.7 236.6,354.3 238.8,352.8 240.9,348.5 242.8,358.7 244.6,353.6 246.1,352.8 247.5,347.7 250.4,345.5 252.6,347.7 254.8,342.6 257,347.7 259.2,349.9 262.1,351.4 264.7,352.8 266.5,348.5 269.4,345.5 271.6,352.1 273.8,348.5 276.7,348.5 278.9,345.5 281.1,341.6 283.3,349.9 284.7,347 286.9,350.7 290.6,347.7 292,352.1 293.5,348.5 296.4,351.4 298.3,371.1 299.8,350.7 301.5,354.3 303.3,350.7 304.7,371.4 318.3,371.4" fill="none" stroke="#000" stroke-width="0.95" stroke-linejoin="round"/>
<polyline points="133.7,434.6 134.7,430 136.4,419.2 137.8,421.3 138.8,420.8 140.1,419.2 141.3,424.3 143.9,424.3 145.9,420.8 147.3,422.3 148.7,419.2 150,424.3 152.1,421.3 153.1,420.8 154.1,416.2 155.5,421.8 157.2,420.8 158.7,418.7 160.3,415.7 161.6,421.3 162.8,419.7 164.3,421.8 166.4,424 167.7,417.7 168.9,420.8 170,413.6 171.5,415.1 172.8,413.1 174.1,420.8 176.1,413.1 177.6,415.7 180.2,413.6 182.2,417.7 185.3,419.7 186.5,405.9 187.8,415.1 189.4,411.8 191.9,414.6 193.9,422.3 195.3,413.1 197.4,418.2 199.2,414.6 201.8,415.7 203.8,410 205.8,412.1 207.4,410 209.4,414.1 211.3,408 212.5,415.1 213.7,404.9 215,412.6 217.1,412.1 219.1,416.2 221.2,410.5 222.7,415.1 224.9,418.2 226.6,413.1 228.6,413.6 230.7,416.2 232.9,413.1 235,410.5 236.5,419.2 238,413.6 239.9,415.1 241.6,409 243.6,404.4 245.7,407 247,407 248.8,401.9 250.3,405.4 251.8,409.5 253.6,410 255.2,415.1 257.4,412.1 259.4,413.4 261.4,407.9 262.7,409 263.8,407.9 266,413.9 268.1,409.6 270.3,409.6 272.3,404.6 273.4,409 274.7,399.2 275.8,405.2 277.4,412.3 278.5,409 280.2,412.3 282.9,411.2 283.7,412.8 284.8,402.4 285.9,411.8 286.8,404.6 288.4,403 289.8,397.5 290.9,390.9 292.2,397 293.3,395.3 294.6,403 296.1,406.8 297.7,406.3 299.3,409 301,401.9 302.6,407.4 303.7,412.3 307.6,412.3 308.9,410.7 309.7,403 311.1,412.8 312.5,412.8 313.6,415 314.7,409.6 315.5,409.6 317.2,433.1 318.5,410.1" fill="none" stroke="#000" stroke-width="0.95" stroke-linejoin="round"/>
<polyline points="108.3,513.5 109.3,470 110.3,473.6 111.6,459.8 112.6,470.5 114.2,480.3 115.6,463.4 116.7,474.1 118.5,466.5 119.3,467 120.8,476.2 121.8,471.1 123.1,485.4 124.1,475.7 125.5,454.2 126.7,457.8 127.9,469.5 129.2,469 130.3,466 131.6,465.4 132.8,459.8 134.3,466 135.4,461.9 136.7,452.2 137.9,460.3 138.9,463.4 140.2,463.9 141.5,469.5 143.8,460.8 146.6,475.1 148.1,473.6 150.2,468 151.4,469 152.7,475.7 154.1,470.5 155.5,472.1 157.5,466.5 159.2,479.2 161.4,477.7 162.5,478.5 164.7,487.2 167.4,473.6 169.3,477.9 171.4,485.4 173,474.8 175.5,476.7 178,466.7 180.1,484.1 181.7,472.3 183,479.2 185.4,471.1 187.9,476.7 191,470.5 193.5,466.7 195.4,479.8 197.2,466.1 198.5,474.8 199.5,466.1 200.9,475.4 202.8,468.6 206.2,476.7 208.4,470.5 211.1,480.4 213.6,473 216.1,485.4 218.9,484.7 221,471.7 222.7,492.8 224.5,480.4 227,485.4 229.5,479.8 232.6,473.6 235.1,482.3 236.7,478.5 239.4,484.1 242,474.3 243.7,480.2 245.3,476.9 247.2,493.4 248.9,477.6 250.5,480.9 252.5,488.1 255.8,482.2 258.4,488.1 260,484.4 261.3,484.4 262.6,493.4 264.7,481.5 266.3,484.2 267.9,479.6 270,471 272.2,480.9 273.5,479.6 274.8,484.2 276.8,481.5 279.4,485.5 281.8,484.8 282.7,489.4 284.7,477.6 286,490.1 287.6,475 289.3,479.6 291.2,489.4 293.6,477.6 295.8,479.6 297.6,478.3 298.9,483.5 300.2,479.6 302.8,492.7 303.7,493.4 304.7,502.6 306.4,496 308.3,494 310.3,495.3 312.5,497.3 314.9,492 316.2,495.3 318.2,497.9" fill="none" stroke="#000" stroke-width="0.95" stroke-linejoin="round"/>
<text x="40.30" y="250.79" font-size="10.70" textLength="23.60" lengthAdjust="spacingAndGlyphs">0 nm</text>
<text x="40.30" y="313.00" font-size="9.86" textLength="23.60" lengthAdjust="spacingAndGlyphs">0 nm</text>
<text x="40.30" y="375.10" font-size="9.86" textLength="23.60" lengthAdjust="spacingAndGlyphs">0 nm</text>
<text x="40.30" y="437.60" font-size="9.86" textLength="23.60" lengthAdjust="spacingAndGlyphs">0 nm</text>
<text x="40.40" y="517.20" font-size="10.42" textLength="31.37" lengthAdjust="spacingAndGlyphs">0.5 nm</text>
<text x="324.3" y="240.9" font-size="9.8" text-anchor="end"># 12</text>
<text x="324.3" y="282.0" font-size="9.8" text-anchor="end"># 11</text>
<text x="324.3" y="347.7" font-size="9.8" text-anchor="end"># 10</text>
<text x="324.3" y="400.0" font-size="9.8" text-anchor="end"># 9</text>
<text x="324.3" y="469.7" font-size="9.8" text-anchor="end"># 8</text>
<rect x="54.2" y="470.3" width="3" height="20.4" fill="#000"/>
<text transform="translate(48.30 495.99) rotate(-90)" font-size="9.58" textLength="30.96" lengthAdjust="spacingAndGlyphs">0.5 nm</text>
<text transform="translate(27.96 478.57) rotate(-90)" font-size="16.36" textLength="185.70" lengthAdjust="spacingAndGlyphs">Maximum depth of pore</text>
<path d="M43.4 523.4H323.2M43.4 523.4V530.7M105.4 523.4V530.7M167.6 523.4V530.7M230.1 523.4V530.7M292.4 523.4V530.7" stroke="#555" stroke-width="1" fill="none"/>
<text x="40.60" y="543.80" font-size="10.28" textLength="16.63" lengthAdjust="spacingAndGlyphs">500</text>
<text x="100.51" y="543.80" font-size="10.28" textLength="16.32" lengthAdjust="spacingAndGlyphs">550</text>
<text x="159.65" y="543.80" font-size="10.28" textLength="16.79" lengthAdjust="spacingAndGlyphs">600</text>
<text x="221.85" y="543.80" font-size="10.28" textLength="16.58" lengthAdjust="spacingAndGlyphs">650</text>
<text x="284.21" y="543.80" font-size="10.28" textLength="16.32" lengthAdjust="spacingAndGlyphs">700</text>
<text x="165.10" y="557.21" font-size="9.95" textLength="37.45" lengthAdjust="spacingAndGlyphs">Time (s)</text>
<line x1="408.8" y1="247" x2="633.7" y2="247" stroke="#555" stroke-width="1.3" stroke-dasharray="1.9 1.3"/>
<line x1="410.9" y1="309" x2="570.2" y2="309" stroke="#555" stroke-width="1.3" stroke-dasharray="1.9 1.3"/>
<line x1="409.8" y1="371.5" x2="527" y2="371.5" stroke="#555" stroke-width="1.3" stroke-dasharray="1.9 1.3"/>
<line x1="410.9" y1="433.4" x2="488.6" y2="433.4" stroke="#555" stroke-width="1.3" stroke-dasharray="1.9 1.3"/>
<line x1="408.8" y1="513.4" x2="463" y2="513.4" stroke="#555" stroke-width="1.3" stroke-dasharray="1.9 1.3"/>
<polyline points="624.2,246.9 625.4,230.4 627.3,231.6 629.2,233.3 631.6,227 633.5,227.9 634.5,231 635.7,226.3 637,233.5 638.5,232.5 639.7,239.1 640.9,231.6 642.4,232.5 644.7,221.3 645.9,233.5 647.1,223 649.6,220.1 652.1,236.6 653.6,217.6 656.1,240.3 658.3,220.1 660.2,240.3 662.7,215.5" fill="none" stroke="#000" stroke-width="0.95" stroke-linejoin="round"/>
<polyline points="559.3,308.9 560.2,299.4 561.6,296.4 563.1,296.8 564.3,298.5 565.6,297.3 566.9,298 568.8,296.1 570.7,296.8 572.6,294.7 574.5,292.8 576.3,294.2 578.2,298.5 579.9,295.1 582,294.2 583.5,292.8 585.4,294.2 587.3,295.4 588.7,295.4 591.5,299.4 593.4,293.7 594.7,300.4 595.8,296.1 597.2,293.7 598.6,299.4 600.5,298 602.4,294.5 603.6,298.9 605.1,294.9 606.7,297 608.1,295.6 609.8,290.4 611.5,301.8 612.9,298.5 614.3,301.3 616.5,294.6 617.6,297.7 619.1,291.6 621.1,294.1 623.2,296.2 625.2,294.6 626.4,300.3 628.8,289 631.3,294.6 633.2,283.4 635.4,293.6 637,283.9 638.5,287.5 641.1,282.2 643.6,287 646.2,283.4 649.7,285.4 652,272.7 653.6,277.8 654.6,276.2 655.9,284.4 657.4,272.2 660,308.9 661.5,292.1 662.5,308.9 663.8,309.3" fill="none" stroke="#000" stroke-width="0.95" stroke-linejoin="round"/>
<polyline points="514.4,371.4 515.7,359.1 517.1,359.6 518.3,362.2 520.5,352.3 522.2,362.2 524.4,348.4 525.9,362.7 528.5,353.3 529.7,360.1 532.1,353 534.6,352.7 536.5,358.6 538.2,356.8 539.7,358.1 541.3,358.1 542.8,360.7 545.4,360.1 546.7,356.6 547.9,358.6 550,357.1 552.2,354.5 553.8,361.7 555.3,354.5 557.1,356.6 559,350.4 560.4,357.6 561.7,355 564.1,353.7 566.1,356.4 568.4,358.1 570,354.4 571.7,356.1 574.2,360.3 576.7,357.3 579.2,355.6 580.9,361.1 583.4,349.4 585.9,361.1 588.8,347.7 589.8,356.1 591,342.2 593.5,349.9 596,343.5 598.5,347.7 600.6,346.9 601.9,348.5 603.6,345.2 605.3,347.7 607.8,351.9 610.3,353.6 613.6,351.9 616.2,355.3 617.8,349.9 621.2,349.4 622.9,352.7 624.6,346.9 627.9,343.2 631.3,347.7 634.1,341 635.8,346.9 637.1,348.5 639.7,360.3 642.2,358.9 643.5,370.4 645.5,356.1 647.6,359.4 650.2,371.2 663.2,371.2" fill="none" stroke="#000" stroke-width="0.95" stroke-linejoin="round"/>
<polyline points="474,433.4 475.4,430.2 477.2,419.8 478.6,424 480.3,418.4 481.9,419.1 485.1,427.4 487.2,420.5 488.9,423.3 491.4,422.6 493.4,415.7 494.8,417 496.2,410.8 497.6,427.4 499,409.4 500.4,424.7 502.2,415 505.2,421.2 508,417.7 510.5,415 512.2,421.2 513.8,410.8 516.3,418.4 518.4,409.4 520.2,420.5 521.9,413.6 524,417 527.4,409.4 529.5,411.5 532.3,406.6 534.3,410.1 537.1,419.1 539.6,412.9 541.3,418.4 543.4,411.5 545.4,415 548.2,414.3 551,415.7 553.1,405.3 554.9,414.3 557.3,408.1 559.7,414.4 562.2,415.4 564.1,404.9 566,415.4 569.2,418.2 571.1,418.2 573,412.5 575.5,418.2 577.4,410.6 579.3,420.1 581.6,403 583.5,415.4 585.4,402.1 587.3,409.7 590.1,400.2 593,402.1 595.2,399.2 596.4,402.1 597.7,397.3 600.5,409.7 603.4,412.5 606.2,409.7 610,410.6 612.9,406.3 616.7,412.5 619.5,409.7 622.4,410.6 626.2,410.6 629,403 630.9,405.5 634.3,404 637,409.3 640.8,395.4 643.2,405.9 645.7,404.9 648.4,414.4 650.8,396 653.3,406.8 655.6,406.8 657.5,408.7 659,398.3 662.8,432.4 664.1,409.7" fill="none" stroke="#000" stroke-width="0.95" stroke-linejoin="round"/>
<polyline points="448.5,513.3 449.5,484.4 450.5,486.8 452.1,481.1 454.2,485.7 456.4,488.4 459.1,491 461,494.9 462.6,488.4 464.7,480.2 466.3,489 467.6,484.4 470.9,487.3 473.5,481.5 476.1,483.4 478.1,482.5 478.8,485.7 480.7,481.1 483.4,481.5 485.3,480.5 487.3,483.8 488.9,490.3 489.9,479.8 491.6,475.9 492.8,483.8 494.5,477.2 496.8,485.1 499.4,476.8 501.5,487 504.1,476.5 506.8,487 509.4,479.8 511,483.8 513.1,494.9 515.6,475.5 518.2,486.8 519.9,482.5 521.7,487 524.8,487 526.8,485 528.3,487.9 530.6,479.1 532.6,485.5 534.6,478.5 536.4,454.6 537.8,480.3 539,482 540.8,476.2 542.5,469.2 543.9,487.3 545.4,475.6 546.6,474.5 548.9,480.3 550.7,476.2 552.4,475 553.6,477.4 555.4,483.8 556.5,476.2 558.3,477.4 560.3,471.5 561.8,486.7 563.5,480.3 565.3,475.6 567,478.5 569.1,490.8 571.1,480.3 573.5,482 576.2,479.7 578.5,487.9 580.8,478.5 582.2,485 584,478.5 585.7,461.6 587.1,480.9 588.7,470.4 590.2,477.4 592.2,477.4 593.7,483.2 595.7,461.6 597.4,478.5 598.6,466.9 600.3,477.4 601.9,471.6 604.3,484 606.5,461.1 608.7,472.9 610.2,467.3 611.8,474.1 613.6,463.6 615.1,475.4 616.4,459.9 618.4,473.5 620.1,476 621.7,479.1 624.2,466.1 626.3,482.2 627.5,463 629.2,451.8 630.8,472.3 632,474.7 633.5,485.3 635.6,490.2 637,480.3 638.7,483.4 640.3,487.8 642.2,479.5 643.7,485.3 645.7,486.5 647.4,481.9 649.6,479.5 651.1,485.3 653.1,483.2 655.2,478.5 658.3,479.7 659.8,469.8 661,475.4 663.5,472.9" fill="none" stroke="#000" stroke-width="0.95" stroke-linejoin="round"/>
<text x="684.3" y="222.8" font-size="9.8" text-anchor="end"># 12</text>
<text x="684.3" y="276.9" font-size="9.8" text-anchor="end"># 11</text>
<text x="684.3" y="349.7" font-size="9.8" text-anchor="end"># 10</text>
<text x="684.3" y="406.9" font-size="9.8" text-anchor="end"># 9</text>
<text x="684.3" y="469.8" font-size="9.8" text-anchor="end"># 8</text>
<rect x="393.9" y="470.2" width="3" height="20.7" fill="#000"/>
<text transform="translate(388.4 496.3) rotate(-90)" font-size="9.6" textLength="29" lengthAdjust="spacingAndGlyphs">50 nm</text><text transform="translate(385.2 467) rotate(-90)" font-size="6.2">2</text>
<text transform="translate(366.35 415.68) rotate(-90)" font-size="15.94" textLength="91.49" lengthAdjust="spacingAndGlyphs">Size of pore</text>
<text x="379.4" y="516.8" font-size="10.2" textLength="22.4" lengthAdjust="spacingAndGlyphs">0 nm</text><text x="402.4" y="513.2" font-size="6.5">2</text>
<path d="M381.2 523V529.8M445.5 523V529.8M509.5 523V529.8M573.4 523V529.8M637.1 523V529.8M381.2 523H668.7" stroke="#555" stroke-width="1" fill="none"/>
<text x="379.52" y="543.80" font-size="10.14" textLength="15.38" lengthAdjust="spacingAndGlyphs">500</text>
<text x="440.31" y="543.80" font-size="10.14" textLength="16.11" lengthAdjust="spacingAndGlyphs">550</text>
<text x="501.36" y="543.80" font-size="10.14" textLength="16.16" lengthAdjust="spacingAndGlyphs">600</text>
<text x="564.85" y="543.80" font-size="10.14" textLength="16.69" lengthAdjust="spacingAndGlyphs">650</text>
<text x="628.61" y="543.80" font-size="10.14" textLength="16.42" lengthAdjust="spacingAndGlyphs">700</text>
<text x="506.80" y="557.21" font-size="9.95" textLength="37.15" lengthAdjust="spacingAndGlyphs">Time (s)</text>
</svg>
</body></html>
